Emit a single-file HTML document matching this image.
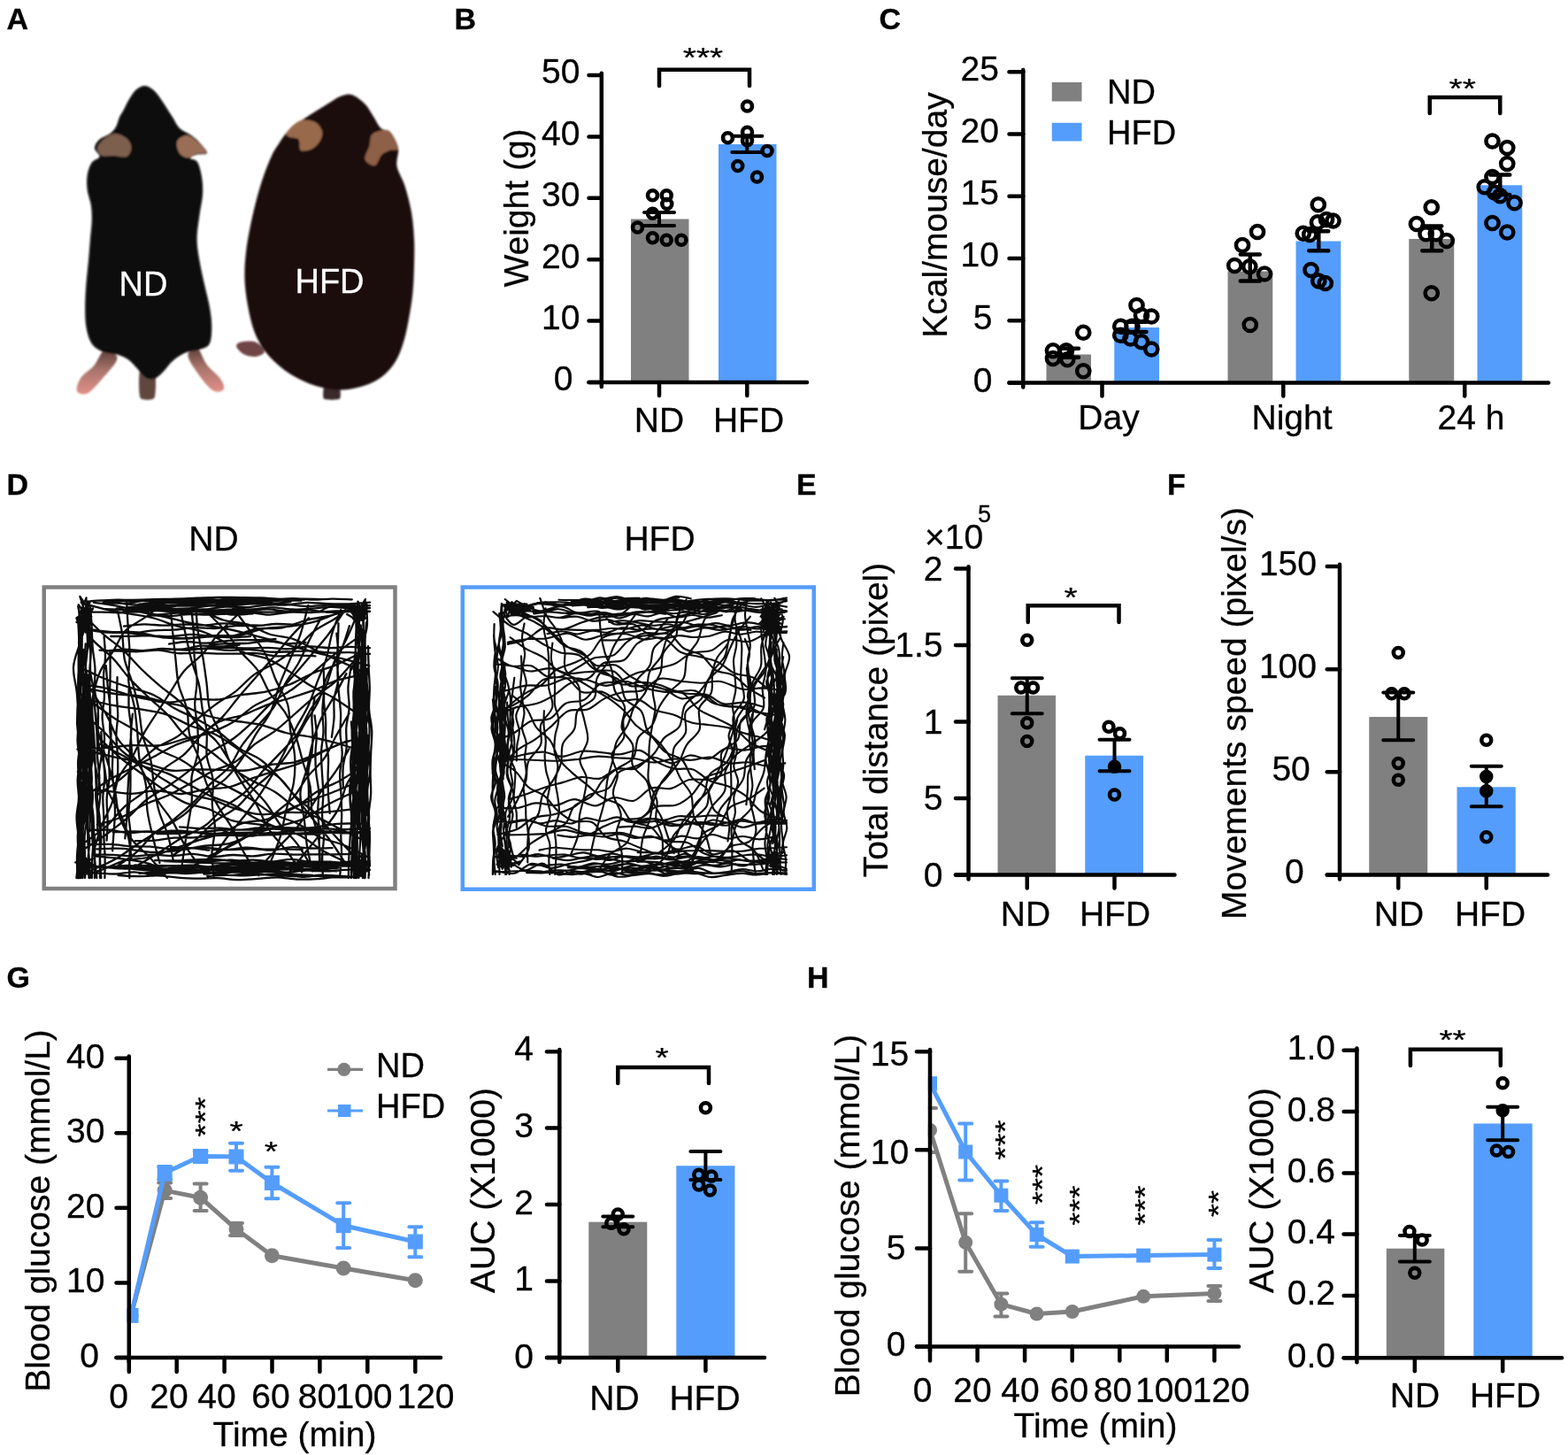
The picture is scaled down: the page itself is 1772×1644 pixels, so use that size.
<!DOCTYPE html>
<html lang="en">
<head>
<meta charset="utf-8">
<title>Figure: ND vs HFD mice</title>
<style>
html,body{margin:0;padding:0;background:#fff;}
body{width:1772px;height:1644px;overflow:hidden;}
svg{display:block;}
svg text{font-family:"Liberation Sans",Arial,Helvetica,sans-serif;stroke:#000;stroke-width:0.3px;}
svg text.w{stroke:#fff;}
</style>
</head>
<body>
<svg width="1772" height="1644" viewBox="0 0 1772 1644">
<defs>
<filter id="soft" x="-5%" y="-5%" width="110%" height="110%"><feGaussianBlur stdDeviation="1.3"/></filter>
<linearGradient id="footg" x1="0" y1="0" x2="0" y2="1"><stop offset="0" stop-color="#5a3d36"/><stop offset="0.45" stop-color="#a8746c"/><stop offset="1" stop-color="#e29088"/></linearGradient>
<filter id="soft2" x="-5%" y="-5%" width="110%" height="110%"><feGaussianBlur stdDeviation="0.45"/></filter>
</defs>
<rect width="1772" height="1644" fill="#fff"/>
<text x="7.5" y="32.5" font-size="34" font-weight="bold" stroke="#000" stroke-width="0.7">A</text>
<text x="513.5" y="32.5" font-size="34" font-weight="bold" stroke="#000" stroke-width="0.7">B</text>
<text x="993.5" y="32.5" font-size="34" font-weight="bold" stroke="#000" stroke-width="0.7">C</text>
<text x="7.5" y="558.5" font-size="34" font-weight="bold" stroke="#000" stroke-width="0.7">D</text>
<text x="900" y="558.5" font-size="34" font-weight="bold" stroke="#000" stroke-width="0.7">E</text>
<text x="1319" y="558.5" font-size="34" font-weight="bold" stroke="#000" stroke-width="0.7">F</text>
<text x="7.5" y="1115.5" font-size="34" font-weight="bold" stroke="#000" stroke-width="0.7">G</text>
<text x="912" y="1115.5" font-size="34" font-weight="bold" stroke="#000" stroke-width="0.7">H</text>
<g filter="url(#soft)">
<path d="M118.75 395C114.38 396.33 110.83 407.67 106.25 413C101.67 418.33 94.46 422.17 91.25 427C88.04 431.83 85.75 439.08 87 442C88.25 444.92 94 446.83 98.75 444.5C103.5 442.17 109.88 434.58 115.5 428C121.12 421.42 131.96 410.5 132.5 405C133.04 399.5 123.12 393.67 118.75 395Z" fill="url(#footg)"/>
<path d="M222.5 392.5C226.04 394.08 229.38 406.17 233.75 412C238.12 417.83 245.54 422.92 248.75 427.5C251.96 432.08 254.12 437.08 253 439.5C251.88 441.92 246.17 443.92 242 442C237.83 440.08 232.92 434.58 228 428C223.08 421.42 213.42 408.42 212.5 402.5C211.58 396.58 218.96 390.92 222.5 392.5Z" fill="url(#footg)"/>
<path d="M158 420C159.65 417.05 173.35 417.05 175 420C176.65 422.95 176.15 446.55 174.5 449.5C172.85 452.45 160.15 452.45 158.5 449.5C156.85 446.55 156.35 422.95 158 420Z" fill="#5e463e"/>
<path d="M162.5 97C165.08 96.62 167.08 97.58 169.5 99C171.92 100.42 174.21 102.21 177 105.5C179.79 108.79 183.25 114.25 186.25 118.75C189.25 123.25 192.21 128.12 195 132.5C197.79 136.88 199.58 141.67 203 145C206.42 148.33 211.75 149.79 215.5 152.5C219.25 155.21 222.42 157.83 225.5 161.25C228.58 164.67 234.5 170.79 234 173C233.5 175.21 225.67 173.5 222.5 174.5C219.33 175.5 214.92 177.58 215 179C215.08 180.42 220.83 179.5 223 183C225.17 186.5 227 193.83 228 200C229 206.17 229.42 212.92 229 220C228.58 227.08 226.58 234.17 225.5 242.5C224.42 250.83 222.5 261.25 222.5 270C222.5 278.75 224.04 286.25 225.5 295C226.96 303.75 229.33 313.75 231.25 322.5C233.17 331.25 235.67 339.58 237 347.5C238.33 355.42 239.33 363.12 239.25 370C239.17 376.88 238.88 384.58 236.5 388.75C234.12 392.92 229.5 393.38 225 395C220.5 396.62 214.42 396.42 209.5 398.5C204.58 400.58 199.75 403.83 195.5 407.5C191.25 411.17 187.58 417.08 184 420.5C180.42 423.92 177.33 427.04 174 428C170.67 428.96 167.17 428.21 164 426.25C160.83 424.29 158.17 419.58 155 416.25C151.83 412.92 148.75 408.88 145 406.25C141.25 403.62 137.25 401.96 132.5 400.5C127.75 399.04 121.25 399.46 116.5 397.5C111.75 395.54 107.17 393.33 104 388.75C100.83 384.17 98.79 377.29 97.5 370C96.21 362.71 96.25 353.33 96.25 345C96.25 336.67 96.88 328.33 97.5 320C98.12 311.67 99.25 303.33 100 295C100.75 286.67 101.38 277.5 102 270C102.62 262.5 103.58 256.25 103.75 250C103.92 243.75 103.83 238.33 103 232.5C102.17 226.67 99.46 220.83 98.75 215C98.04 209.17 97.92 202.71 98.75 197.5C99.58 192.29 101.46 187.17 103.75 183.75C106.04 180.33 111.96 179.71 112.5 177C113.04 174.29 107.08 170.67 107 167.5C106.92 164.33 109 160.83 112 158C115 155.17 121.75 153.08 125 150.5C128.25 147.92 129.83 145.5 131.5 142.5C133.17 139.5 133.58 135.62 135 132.5C136.42 129.38 138.08 127.29 140 123.75C141.92 120.21 144.17 115 146.5 111.25C148.83 107.5 151.33 103.62 154 101.25C156.67 98.88 159.92 97.38 162.5 97Z" fill="#070707"/>
<path d="M115.5 159C118.75 156.17 124.92 151.46 129.5 151C134.08 150.54 139.83 153.58 143 156.25C146.17 158.92 148.5 163.54 148.5 167C148.5 170.46 146.42 175.5 143 177C139.58 178.5 132.58 176.17 128 176C123.42 175.83 118.5 177.33 115.5 176C112.5 174.67 110 170.83 110 168C110 165.17 112.25 161.83 115.5 159Z" fill="#7d5f4e"/>
<path d="M201.5 157.5C203.5 155.33 208.17 152.33 212 153C215.83 153.67 220.96 158.21 224.5 161.5C228.04 164.79 233.58 170.75 233.25 172.75C232.92 174.75 225.88 172.58 222.5 173.5C219.12 174.42 216 178 213 178.25C210 178.5 206.67 177.04 204.5 175C202.33 172.96 200.5 168.92 200 166C199.5 163.08 199.5 159.67 201.5 157.5Z" fill="#9a6e56"/>
<path d="M267 390.5C267 388.17 271.17 386.58 275 386C278.83 385.42 286.04 385.08 290 387C293.96 388.92 298.96 394.83 298.75 397.5C298.54 400.17 292.71 402.58 288.75 403C284.79 403.42 278.62 402.08 275 400C271.38 397.92 267 392.83 267 390.5Z" fill="#6f4544"/>
<path d="M367 435C368.7 433.45 381.3 433.45 383 435C384.7 436.55 385.7 448.95 384 450.5C382.3 452.05 367.7 452.05 366 450.5C364.3 448.95 365.3 436.55 367 435Z" fill="#3a2a2a"/>
<path d="M397.5 107C402.08 108.46 408.33 113.25 412.5 117.5C416.67 121.75 419.5 127.92 422.5 132.5C425.5 137.08 427.38 142.17 430.5 145C433.62 147.83 438 145.75 441.25 149.5C444.5 153.25 448.79 161.17 450 167.5C451.21 173.83 447.25 180.42 448.5 187.5C449.75 194.58 454.75 201.25 457.5 210C460.25 218.75 463.25 230 465 240C466.75 250 467.5 260 468 270C468.5 280 468.25 290 468 300C467.75 310 467.42 320.42 466.5 330C465.58 339.58 464.17 348.33 462.5 357.5C460.83 366.67 459 376.67 456.5 385C454 393.33 451.5 400.83 447.5 407.5C443.5 414.17 438.33 420.33 432.5 425C426.67 429.67 420 432.92 412.5 435.5C405 438.08 395.83 440.17 387.5 440.5C379.17 440.83 370.83 439.58 362.5 437.5C354.17 435.42 345 431.75 337.5 428C330 424.25 323.75 420.08 317.5 415C311.25 409.92 305 404.17 300 397.5C295 390.83 290.83 383.75 287.5 375C284.17 366.25 281.83 355 280 345C278.17 335 276.83 325 276.5 315C276.17 305 276.92 295 278 285C279.08 275 281 265 283 255C285 245 287.58 234.17 290 225C292.42 215.83 294.58 208.33 297.5 200C300.42 191.67 304.58 181.25 307.5 175C310.42 168.75 312.29 166.67 315 162.5C317.71 158.33 320.42 153.75 323.75 150C327.08 146.25 330.62 143.33 335 140C339.38 136.67 344.17 133.75 350 130C355.83 126.25 364.17 121.04 370 117.5C375.83 113.96 380.42 110.5 385 108.75C389.58 107 392.92 105.54 397.5 107Z" fill="#1d100b"/>
<path d="M323.75 150.5C324.58 148.08 329.38 143 332.5 140.5C335.62 138 338.54 135.92 342.5 135.5C346.46 135.08 352.71 136 356.25 138C359.79 140 362.71 144.25 363.75 147.5C364.79 150.75 364.17 154.17 362.5 157.5C360.83 160.83 357.5 165.42 353.75 167.5C350 169.58 342.71 171.67 340 170C337.29 168.33 339.58 160 337.5 157.5C335.42 155 329.79 156.17 327.5 155C325.21 153.83 322.92 152.92 323.75 150.5Z" fill="#99694b"/>
<path d="M420 152.5C422.08 149.58 426.58 148.12 430 147.5C433.42 146.88 437.17 145.42 440.5 148.75C443.83 152.08 450.08 163.96 450 167.5C449.92 171.04 443.12 168.75 440 170C436.88 171.25 433.96 172.17 431.25 175C428.54 177.83 426.88 186.17 423.75 187C420.62 187.83 413.54 183.67 412.5 180C411.46 176.33 416.25 169.58 417.5 165C418.75 160.42 417.92 155.42 420 152.5Z" fill="#8e6146"/>
</g>
<text x="162" y="333.8" font-size="38" text-anchor="middle" fill="#fff" class="w">ND</text>
<text x="372.5" y="331.3" font-size="38" text-anchor="middle" fill="#fff" class="w">HFD</text>
<rect x="713" y="247.5" width="65.5" height="184.5" fill="#808080"/>
<rect x="812" y="163" width="65.5" height="269" fill="#549DFC"/>
<path d="M679.8 82.75V437" stroke="#000" stroke-width="4.5" fill="none" stroke-linecap="round"/>
<path d="M665.5 85H679.8" stroke="#000" stroke-width="4.5" fill="none" stroke-linecap="round"/>
<text x="655.5" y="94.45" font-size="39" text-anchor="end">50</text>
<path d="M665.5 154.4H679.8" stroke="#000" stroke-width="4.5" fill="none" stroke-linecap="round"/>
<text x="655.5" y="163.86" font-size="39" text-anchor="end">40</text>
<path d="M665.5 223.8H679.8" stroke="#000" stroke-width="4.5" fill="none" stroke-linecap="round"/>
<text x="655.5" y="233.25" font-size="39" text-anchor="end">30</text>
<path d="M665.5 293.2H679.8" stroke="#000" stroke-width="4.5" fill="none" stroke-linecap="round"/>
<text x="655.5" y="302.65" font-size="39" text-anchor="end">20</text>
<path d="M665.5 362.6H679.8" stroke="#000" stroke-width="4.5" fill="none" stroke-linecap="round"/>
<text x="655.5" y="372.06" font-size="39" text-anchor="end">10</text>
<path d="M665.5 432H679.8" stroke="#000" stroke-width="4.5" fill="none" stroke-linecap="round"/>
<text x="647.5" y="441.45" font-size="39" text-anchor="end">0</text>
<path d="M665.5 432H912" stroke="#000" stroke-width="4.5" fill="none" stroke-linecap="round"/>
<path d="M745 432V447" stroke="#000" stroke-width="4.5" fill="none" stroke-linecap="round"/>
<path d="M844.3 432V447" stroke="#000" stroke-width="4.5" fill="none" stroke-linecap="round"/>
<path d="M728 240H762M728 255H762M745 240V255" stroke="#000" stroke-width="4" fill="none" stroke-linecap="round"/>
<circle cx="737.5" cy="220.75" r="5.45" fill="none" stroke="#000" stroke-width="4.6"/>
<circle cx="753.25" cy="220.75" r="5.45" fill="none" stroke="#000" stroke-width="4.6"/>
<circle cx="753.75" cy="230.5" r="5.45" fill="none" stroke="#000" stroke-width="4.6"/>
<circle cx="737.5" cy="241.25" r="5.45" fill="none" stroke="#000" stroke-width="4.6"/>
<circle cx="720.5" cy="257" r="5.45" fill="none" stroke="#000" stroke-width="4.6"/>
<circle cx="737.5" cy="268.75" r="5.45" fill="none" stroke="#000" stroke-width="4.6"/>
<circle cx="753.25" cy="271.25" r="5.45" fill="none" stroke="#000" stroke-width="4.6"/>
<circle cx="770" cy="271.25" r="5.45" fill="none" stroke="#000" stroke-width="4.6"/>
<path d="M827.3 153.75H861.3M827.3 172H861.3M844.3 153.75V172" stroke="#000" stroke-width="4" fill="none" stroke-linecap="round"/>
<circle cx="844.5" cy="120" r="5.45" fill="none" stroke="#000" stroke-width="4.6"/>
<circle cx="822.5" cy="155.75" r="5.45" fill="none" stroke="#000" stroke-width="4.6"/>
<circle cx="844.5" cy="149.25" r="5.45" fill="none" stroke="#000" stroke-width="4.6"/>
<circle cx="844.5" cy="158.75" r="5.45" fill="none" stroke="#000" stroke-width="4.6"/>
<circle cx="867" cy="170.5" r="5.45" fill="none" stroke="#000" stroke-width="4.6"/>
<circle cx="833.75" cy="187.5" r="5.45" fill="none" stroke="#000" stroke-width="4.6"/>
<circle cx="855.5" cy="200" r="5.45" fill="none" stroke="#000" stroke-width="4.6"/>
<path d="M745 97V78.75H847V97" stroke="#000" stroke-width="4.5" fill="none" stroke-linecap="round" stroke-linejoin="miter"/>
<text transform="translate(794.5 60.25) scale(1 0.78)" font-size="39" text-anchor="middle" y="20.01">***</text>
<text x="745" y="488" font-size="39" text-anchor="middle">ND</text>
<text x="846" y="488" font-size="39" text-anchor="middle">HFD</text>
<text transform="translate(596.5 235) rotate(-90)" font-size="39" text-anchor="middle">Weight (g)</text>
<rect x="1182.5" y="400.5" width="50.5" height="32" fill="#808080"/>
<rect x="1259.25" y="370" width="50.75" height="62.5" fill="#549DFC"/>
<rect x="1387.5" y="306.5" width="50.75" height="126" fill="#808080"/>
<rect x="1464.5" y="272.5" width="50.75" height="160" fill="#549DFC"/>
<rect x="1592.25" y="270" width="51" height="162.5" fill="#808080"/>
<rect x="1669.5" y="209.25" width="50.75" height="223.25" fill="#549DFC"/>
<path d="M1156.25 79V437.5" stroke="#000" stroke-width="4.5" fill="none" stroke-linecap="round"/>
<path d="M1140.5 81.25H1156.25" stroke="#000" stroke-width="4.5" fill="none" stroke-linecap="round"/>
<text x="1129" y="90.7" font-size="39" text-anchor="end">25</text>
<path d="M1140.5 151.5H1156.25" stroke="#000" stroke-width="4.5" fill="none" stroke-linecap="round"/>
<text x="1129" y="160.95" font-size="39" text-anchor="end">20</text>
<path d="M1140.5 221.75H1156.25" stroke="#000" stroke-width="4.5" fill="none" stroke-linecap="round"/>
<text x="1129" y="231.2" font-size="39" text-anchor="end">15</text>
<path d="M1140.5 292H1156.25" stroke="#000" stroke-width="4.5" fill="none" stroke-linecap="round"/>
<text x="1129" y="301.45" font-size="39" text-anchor="end">10</text>
<path d="M1140.5 362.25H1156.25" stroke="#000" stroke-width="4.5" fill="none" stroke-linecap="round"/>
<text x="1121.5" y="372.2" font-size="39" text-anchor="end">5</text>
<path d="M1140.5 432.5H1156.25" stroke="#000" stroke-width="4.5" fill="none" stroke-linecap="round"/>
<text x="1121.5" y="443.45" font-size="39" text-anchor="end">0</text>
<path d="M1140.5 432.5H1750" stroke="#000" stroke-width="4.5" fill="none" stroke-linecap="round"/>
<path d="M1245.5 432.5V447.5" stroke="#000" stroke-width="4.5" fill="none" stroke-linecap="round"/>
<path d="M1450.25 432.5V447.5" stroke="#000" stroke-width="4.5" fill="none" stroke-linecap="round"/>
<path d="M1655.25 432.5V447.5" stroke="#000" stroke-width="4.5" fill="none" stroke-linecap="round"/>
<rect x="1188.75" y="93" width="33.75" height="21.5" fill="#808080"/>
<rect x="1188.75" y="138.75" width="33.75" height="20.75" fill="#549DFC"/>
<text x="1251" y="116.5" font-size="38">ND</text>
<text x="1251" y="162.5" font-size="38">HFD</text>
<path d="M1197 393.75H1219M1197 403.75H1219M1208 393.75V403.75" stroke="#000" stroke-width="4.5" fill="none" stroke-linecap="round"/>
<circle cx="1190" cy="396.25" r="7.1" fill="none" stroke="#000" stroke-width="4.5"/>
<circle cx="1205" cy="396.25" r="7.1" fill="none" stroke="#000" stroke-width="4.5"/>
<circle cx="1190" cy="405" r="7.1" fill="none" stroke="#000" stroke-width="4.5"/>
<circle cx="1206.25" cy="406.25" r="7.1" fill="none" stroke="#000" stroke-width="4.5"/>
<circle cx="1224.25" cy="375.75" r="7.1" fill="none" stroke="#000" stroke-width="4.5"/>
<circle cx="1224.25" cy="419.25" r="7.1" fill="none" stroke="#000" stroke-width="4.5"/>
<path d="M1273.5 363.75H1295.5M1273.5 375H1295.5M1284.5 363.75V375" stroke="#000" stroke-width="4.5" fill="none" stroke-linecap="round"/>
<circle cx="1284.5" cy="345" r="7.1" fill="none" stroke="#000" stroke-width="4.5"/>
<circle cx="1301.25" cy="357.5" r="7.1" fill="none" stroke="#000" stroke-width="4.5"/>
<circle cx="1290" cy="356.25" r="7.1" fill="none" stroke="#000" stroke-width="4.5"/>
<circle cx="1266.25" cy="368.75" r="7.1" fill="none" stroke="#000" stroke-width="4.5"/>
<circle cx="1279.5" cy="368.75" r="7.1" fill="none" stroke="#000" stroke-width="4.5"/>
<circle cx="1266.25" cy="378.75" r="7.1" fill="none" stroke="#000" stroke-width="4.5"/>
<circle cx="1277.5" cy="382.5" r="7.1" fill="none" stroke="#000" stroke-width="4.5"/>
<circle cx="1290" cy="386.25" r="7.1" fill="none" stroke="#000" stroke-width="4.5"/>
<circle cx="1301.25" cy="394.5" r="7.1" fill="none" stroke="#000" stroke-width="4.5"/>
<path d="M1401.75 287.5H1423.75M1401.75 317.5H1423.75M1412.75 287.5V317.5" stroke="#000" stroke-width="4.5" fill="none" stroke-linecap="round"/>
<circle cx="1421" cy="262" r="7.1" fill="none" stroke="#000" stroke-width="4.5"/>
<circle cx="1404" cy="277" r="7.1" fill="none" stroke="#000" stroke-width="4.5"/>
<circle cx="1395.25" cy="300" r="7.1" fill="none" stroke="#000" stroke-width="4.5"/>
<circle cx="1412.25" cy="301.25" r="7.1" fill="none" stroke="#000" stroke-width="4.5"/>
<circle cx="1429" cy="309.5" r="7.1" fill="none" stroke="#000" stroke-width="4.5"/>
<circle cx="1412.75" cy="367" r="7.1" fill="none" stroke="#000" stroke-width="4.5"/>
<path d="M1479.25 261.25H1501.25M1479.25 283.25H1501.25M1490.25 261.25V283.25" stroke="#000" stroke-width="4.5" fill="none" stroke-linecap="round"/>
<circle cx="1489.75" cy="231.25" r="7.1" fill="none" stroke="#000" stroke-width="4.5"/>
<circle cx="1499" cy="248" r="7.1" fill="none" stroke="#000" stroke-width="4.5"/>
<circle cx="1506.5" cy="249.5" r="7.1" fill="none" stroke="#000" stroke-width="4.5"/>
<circle cx="1489" cy="251.25" r="7.1" fill="none" stroke="#000" stroke-width="4.5"/>
<circle cx="1472.75" cy="263.75" r="7.1" fill="none" stroke="#000" stroke-width="4.5"/>
<circle cx="1480.25" cy="265" r="7.1" fill="none" stroke="#000" stroke-width="4.5"/>
<circle cx="1481.5" cy="305" r="7.1" fill="none" stroke="#000" stroke-width="4.5"/>
<circle cx="1490.25" cy="317.5" r="7.1" fill="none" stroke="#000" stroke-width="4.5"/>
<circle cx="1497.75" cy="320" r="7.1" fill="none" stroke="#000" stroke-width="4.5"/>
<path d="M1607.25 255.5H1629.25M1607.25 283.25H1629.25M1618.25 255.5V283.25" stroke="#000" stroke-width="4.5" fill="none" stroke-linecap="round"/>
<circle cx="1617.75" cy="234.25" r="7.1" fill="none" stroke="#000" stroke-width="4.5"/>
<circle cx="1601" cy="253" r="7.1" fill="none" stroke="#000" stroke-width="4.5"/>
<circle cx="1611.5" cy="264.25" r="7.1" fill="none" stroke="#000" stroke-width="4.5"/>
<circle cx="1622.75" cy="264.25" r="7.1" fill="none" stroke="#000" stroke-width="4.5"/>
<circle cx="1634.75" cy="272" r="7.1" fill="none" stroke="#000" stroke-width="4.5"/>
<circle cx="1617.75" cy="331.25" r="7.1" fill="none" stroke="#000" stroke-width="4.5"/>
<path d="M1684.25 197.5H1706.25M1684.25 220H1706.25M1695.25 197.5V220" stroke="#000" stroke-width="4.5" fill="none" stroke-linecap="round"/>
<circle cx="1686.5" cy="159.5" r="7.1" fill="none" stroke="#000" stroke-width="4.5"/>
<circle cx="1703.25" cy="167" r="7.1" fill="none" stroke="#000" stroke-width="4.5"/>
<circle cx="1703.25" cy="185" r="7.1" fill="none" stroke="#000" stroke-width="4.5"/>
<circle cx="1686.5" cy="200" r="7.1" fill="none" stroke="#000" stroke-width="4.5"/>
<circle cx="1677.75" cy="211.25" r="7.1" fill="none" stroke="#000" stroke-width="4.5"/>
<circle cx="1689" cy="217.5" r="7.1" fill="none" stroke="#000" stroke-width="4.5"/>
<circle cx="1695.25" cy="221.25" r="7.1" fill="none" stroke="#000" stroke-width="4.5"/>
<circle cx="1711.5" cy="229.25" r="7.1" fill="none" stroke="#000" stroke-width="4.5"/>
<circle cx="1686.5" cy="252" r="7.1" fill="none" stroke="#000" stroke-width="4.5"/>
<circle cx="1703.25" cy="262.5" r="7.1" fill="none" stroke="#000" stroke-width="4.5"/>
<path d="M1615.75 128V110H1695.25V128" stroke="#000" stroke-width="4.5" fill="none" stroke-linecap="round" stroke-linejoin="miter"/>
<text transform="translate(1652.75 95) scale(1 0.78)" font-size="39" text-anchor="middle" y="20.01">**</text>
<text x="1253" y="485" font-size="39" text-anchor="middle">Day</text>
<text x="1460" y="485" font-size="39" text-anchor="middle">Night</text>
<text x="1662.5" y="485" font-size="39" text-anchor="middle">24 h</text>
<text transform="translate(1070 243) rotate(-90)" font-size="39" text-anchor="middle">Kcal/mouse/day</text>
<text x="241.5" y="622" font-size="39" text-anchor="middle">ND</text>
<text x="745.5" y="622" font-size="39" text-anchor="middle">HFD</text>
<rect x="49.75" y="663.5" width="396.75" height="340.5" fill="#fff" stroke="#808080" stroke-width="4.5"/>
<rect x="522.75" y="663.5" width="397" height="341.25" fill="#fff" stroke="#549DFC" stroke-width="4.5"/>
<g filter="url(#soft2)">
<path d="M108.8 818.8C110 823 113.4 835.7 115.9 844.1C118.5 852.5 121.7 860.8 124 869.2C126.4 877.7 128.5 886.2 130.3 894.9C132 903.5 131.9 912.6 134.4 921C136.8 929.5 142.5 937.1 144.9 945.5C147.3 954 148.1 967.4 148.7 971.8M394.5 846.3C392.2 850.3 385.5 862.2 380.5 869.8C375.5 877.4 369.6 884.4 364.5 891.8C359.4 899.3 354.7 907.1 349.6 914.7C344.5 922.2 339.8 930 334 937C328.3 944 321.3 950.1 315.1 956.8C308.9 963.4 299.6 973.5 296.5 976.9M105.8 680.7C110.6 681.5 125.1 683.3 134.6 685.2C144.1 687.2 153.3 690.3 162.7 692.5C172.1 694.6 181.7 696.2 191.2 698.3C200.7 700.3 210 702.8 219.5 704.6C229.1 706.4 238.8 707.3 248.3 709.1C257.9 710.8 267.3 713 276.7 715.3C286.1 717.6 295.5 720.1 304.8 722.7C314.1 725.3 323.4 728.2 332.7 730.9C342.1 733.5 351.4 736.2 360.8 738.5C370.2 740.8 379.7 742.5 389.1 744.8C398.6 747.1 412.6 751 417.2 752.2M87.5 989.8C92.1 988.6 105.9 985.7 114.8 982.8C123.7 979.9 131.8 974.8 140.9 972.4C150 970 160.1 970.7 169.2 968.5C178.4 966.3 186.9 962.3 195.8 959.2C204.6 956.2 213.4 953 222.3 950.1C231.2 947.2 240.5 945.4 249.3 942C258 938.7 265.9 932.7 274.8 930C283.8 927.2 294 928.1 302.9 925.3C311.9 922.6 319.9 917.2 328.6 913.5C337.2 909.8 346 906.5 354.7 903.1C363.5 899.8 372.3 896.7 381 893.2C389.7 889.7 402.6 884.1 407 882.2M403 685.1C398.4 686.8 384.5 692.7 375.1 695.2C365.7 697.8 356.1 698.1 346.8 700.5C337.4 702.9 328.2 707.7 318.7 709.4C309.3 711.1 299.5 708.9 290.1 710.5C280.6 712 271.4 717.2 262 718.7C252.5 720.3 242.8 719 233.3 719.5C223.8 720 214.3 721.8 204.7 721.7C195.1 721.7 185.5 720.2 175.8 719.1C166.1 718.1 156.4 716.1 146.8 715.3C137.1 714.5 127.6 715.3 117.9 714.4C108.3 713.4 93.7 710.6 88.8 709.8M416.7 968.9C412.2 966.6 399.3 959.3 390 955.5C380.8 951.6 370.4 950 361.3 945.8C352.3 941.7 344.7 934.8 335.8 930.4C326.9 926 316.7 924 307.9 919.3C299.2 914.7 291.7 907.8 283.1 902.7C274.6 897.6 265.7 893.2 256.9 888.7C248 884.1 238.7 880.5 230.1 875.5C221.5 870.5 214 863.8 205.3 858.9C196.7 854 186.6 851.7 178.2 846.3C169.9 841 163.2 832.5 155.1 826.7C147 821 137.8 817.1 129.4 811.6C121.1 806.2 109.1 797.1 105.1 794.2M188.8 991.8C185.5 988 176.1 976.3 169.2 968.8C162.3 961.3 153 954.8 147.5 946.6C142 938.5 140.4 928.7 136.3 920C132.1 911.3 125.8 903.6 122.7 894.5C119.6 885.3 119.7 874.8 117.8 865.2C115.8 855.6 111.9 846.8 110.8 836.8C109.6 826.9 110.6 810.8 110.6 805.6M91.1 892.1C95.9 892.3 110.1 892.8 119.6 893.6C129.2 894.4 139.1 896.8 148.5 896.8C157.9 896.7 166.7 893.3 176.1 893.4C185.5 893.4 195.6 897.2 205 897C214.4 896.7 223.2 893.2 232.3 891.9C241.5 890.6 251 891.2 260.1 889C269.1 886.8 277.6 882 286.5 878.9C295.3 875.8 304.3 873.2 313.2 870.4C322.1 867.6 331.1 865.5 339.9 861.9C348.7 858.3 357.1 853.1 365.8 849C374.5 844.9 387.6 839.2 391.9 837.3M391.4 761.1C389.1 765.5 382.2 778.6 377.3 787.4C372.4 796.1 366.2 804.6 362.2 813.4C358.1 822.3 355.4 831.4 352.9 840.6C350.3 849.7 349.2 859.1 347 868.3C344.7 877.5 340 886.2 339.4 895.7C338.9 905.2 342.5 915.4 343.7 925.2C345 935 345.3 944.7 346.8 954.5C348.3 964.4 351.9 979.4 352.9 984.3M413.7 681.2C413.9 685.7 415.8 699.5 414.7 708.1C413.7 716.8 410.6 725 407.6 733.2C404.6 741.4 398.4 753.4 396.6 757.4M408.4 866.5C404.4 869 392.7 877.3 384.4 881.9C376.1 886.6 366.8 889.4 358.6 894.3C350.5 899.2 343.7 906.3 335.5 911.2C327.3 916 317.7 918.5 309.6 923.3C301.4 928.2 294.3 934.9 286.4 940.2C278.5 945.5 270.5 950.6 262.1 955.1C253.7 959.6 240.5 965.2 236.1 967.2M396.3 963C393 959.5 382.8 949.2 376.3 942C369.7 934.7 363.9 926.5 357.1 919.6C350.3 912.8 342.2 907.9 335.3 901.1C328.5 894.4 322.6 886.1 315.9 879.1C309.3 872.1 302.9 864.6 295.2 859C287.6 853.4 278 850.6 270.1 845.4C262.2 840.2 255.5 833.2 247.7 827.8C239.9 822.4 231.7 817.7 223.3 813.1C214.9 808.6 205.8 805.1 197.5 800.5C189.2 795.8 182.2 789.3 173.5 785.3C164.8 781.3 154.5 779.5 145.1 776.4C135.8 773.3 126.5 770.1 117.5 766.5C108.5 762.8 95.6 756.5 91.3 754.5M88.5 809.2C88.2 804.6 87.7 790.8 86.7 781.5C85.8 772.3 82.4 762.8 83 753.7C83.6 744.6 87.6 735.9 90.3 727C93 718.1 97.7 704.8 99.2 700.4M111 839.7C115.2 841.8 127.8 848 136.1 852.3C144.4 856.5 152.2 861.9 160.9 865.4C169.6 868.9 179.4 870 188.1 873.4C196.8 876.9 204.8 881.8 213.1 886.2C221.4 890.5 229.4 895.4 237.9 899.4C246.4 903.3 255.7 905.5 264 909.6C272.4 913.8 279.8 920.1 288.1 924.3C296.4 928.6 305.3 931.8 314 935.2C322.8 938.6 332.2 940.5 340.5 944.7C348.9 949 355.9 956 364 960.7C372.1 965.4 380.7 969.2 389.1 973.2C397.6 977.1 410.5 982.6 414.8 984.4M416.3 912.2C411.1 912.8 395.5 914.8 385.2 915.8C374.9 916.9 364.6 918 354.5 918.4C344.4 918.7 334.8 917.7 324.7 918C314.7 918.3 303.8 920.9 294.1 920.2C284.4 919.5 275.4 916.6 266.3 913.8C257.3 911.1 248.8 906.5 239.8 903.7C230.7 900.9 220.9 900.4 212.1 896.8C203.4 893.2 195.4 887.2 187.1 882.1C178.8 877 170.7 871.5 162.5 866C154.4 860.5 146 855.6 138.3 848.8C130.5 842.1 123.7 832.7 116.1 825.5C108.5 818.3 96.6 809 92.7 805.7M132.3 687.3C133.3 692.1 136.6 706.4 138.1 716.1C139.5 725.7 138.9 735.9 140.9 745.4C143 755 147.6 764 150.2 773.4C152.9 782.8 155 792.4 156.9 802C158.7 811.6 159 821.5 161.2 831C163.4 840.5 168.1 849.5 170.3 859C172.4 868.6 172.5 878.6 174.1 888.2C175.7 897.9 177.1 907.6 179.8 917C182.4 926.4 187.4 935.3 190.1 944.7C192.8 954.1 195 968.7 196 973.5M111.4 897.3C115.2 894.7 127.1 887.4 134.4 881.7C141.7 876 148.2 869.3 155.2 863.2C162.2 857.1 168.6 850.3 176.2 845C183.9 839.8 193.4 837.1 201 831.9C208.6 826.6 214.8 819.5 221.9 813.5C229 807.6 236.1 801.6 243.5 796.1C251 790.7 259.4 786.5 266.7 780.8C274 775.1 279.9 767.5 287.4 762.1C294.9 756.7 303.9 753.4 311.8 748.5C319.6 743.6 327.4 738.5 334.6 732.7C341.7 726.8 347.4 718.9 354.7 713.3C362.1 707.7 370.9 704 378.6 699C386.4 693.9 397.5 685.6 401.2 682.9M268 695C264.5 698.4 253.6 708.4 247.2 715.5C240.9 722.7 236.3 731 229.8 738C223.3 745.1 214.4 750.7 208.2 758C202 765.3 197.9 773.8 192.7 781.7C187.6 789.6 182.4 797.5 177.3 805.5C172.3 813.4 166.8 821.1 162.2 829.4C157.6 837.6 154.3 846.7 149.7 854.9C145 863.1 138.1 869.9 134.2 878.6C130.4 887.3 129.9 898 126.6 907.1C123.4 916.1 118.2 924 114.8 933C111.4 941.9 107.7 956.2 106.2 960.9M97 951.1C100.9 948.1 113.6 939.7 120.9 933C128.3 926.3 133.7 917.8 141.1 911.1C148.4 904.4 157.7 899.7 164.9 892.8C172 885.9 176.6 876.5 183.9 869.8C191.1 863 201 858.8 208.4 852.2C215.8 845.6 221.1 836.8 228.2 829.9C235.3 823 244 817.7 250.9 810.6C257.9 803.5 263.4 795 269.8 787.4C276.2 779.8 282.8 772.4 289.4 764.9C295.9 757.4 302.7 750.2 309.1 742.6C315.6 735.1 321.7 727.1 328.3 719.7C334.9 712.3 345.5 701.8 348.9 698.3M116.2 678.4C120.8 679.1 134.3 681.6 143.5 682.6C152.7 683.6 162.2 683.1 171.4 684.3C180.5 685.5 189 689 198.2 690C207.4 691 217.5 688.3 226.5 690.1C235.5 691.8 243.3 698 252.1 700.5C260.9 703 270.4 702.6 279.2 705.3C287.9 707.9 295.8 713.7 304.5 716.5C313.2 719.3 322.7 719 331.4 722C340 725 348 730.5 356.4 734.5C364.7 738.5 373.2 742.1 381.6 745.9C390.1 749.8 402.7 755.6 406.9 757.5M99.7 839.9C100 835 100.1 820 101.1 810.5C102.1 801 103.6 791.8 105.7 782.9C107.8 774.1 110.1 765.3 113.9 757.3C117.7 749.4 123.6 742.6 128.3 735.1C133 727.7 135.6 719 141.9 712.5C148.3 706 158.7 701.7 166.5 695.9C174.3 690.2 185.1 681.1 188.8 678.1M95.6 959C99.7 956.3 112.4 948.3 120.5 942.5C128.5 936.6 136.5 930.6 144 924.2C151.6 917.7 157.9 909.6 165.7 903.5C173.6 897.4 182.8 893.1 191.1 887.5C199.3 881.9 207.3 876 215.1 869.8C222.9 863.6 229.6 856.2 237.7 850.3C245.7 844.5 255.4 840.6 263.4 834.8C271.5 829 278.7 822.1 286 815.3C293.3 808.5 299.5 800.3 307.2 794C314.9 787.7 324.1 783.4 332.2 777.5C340.2 771.6 347.7 765.1 355.4 758.7C363 752.4 370.2 745.5 378.1 739.4C385.9 733.2 398.2 724.8 402.2 721.9M103.6 778.8C108.4 779.7 122.9 783 132.4 784.4C141.9 785.7 151.2 785.3 160.7 786.8C170.3 788.3 180.3 793 189.7 793.5C199.1 794 207.9 790.3 217.2 789.8C226.5 789.3 236.1 791.3 245.3 790.5C254.6 789.7 263.5 786.7 272.6 785.2C281.8 783.7 291.1 783.5 300.2 781.6C309.3 779.6 318.3 777 327.1 773.5C336 770 344.6 764.4 353.4 760.7C362.3 756.9 371.4 754.9 380.2 751.1C389 747.4 402.1 740.4 406.5 738.2M131.3 979.6C135.2 976.7 147.7 968.7 154.8 962.4C161.9 956.2 167 948.2 174.2 942C181.3 935.7 190.1 930.8 197.6 924.8C205.1 918.9 212.4 912.7 219.1 906.2C225.9 899.6 231.5 892 238.2 885.4C244.8 878.7 253.3 873.5 259.2 866.3C265.1 859 268.3 849.5 273.7 841.8C279.1 834.1 285.5 827.2 291.5 820C297.5 812.8 304.5 806.5 309.7 798.5C314.8 790.6 317.6 780.8 322.3 772.5C326.9 764.2 333 757 337.6 748.7C342.3 740.4 345.7 731.1 350 722.5C354.3 713.9 361.2 701.3 363.5 697.1M91.5 763.1C94.1 766.9 102.3 778.2 107.3 786C112.3 793.8 117.1 801.8 121.5 810C125.9 818.2 128.4 827.6 133.5 835.3C138.6 843.1 146.7 849 152.2 856.5C157.6 864.1 161.8 872.4 166.2 880.6C170.7 888.7 174.1 897.5 178.9 905.5C183.8 913.4 190.3 920.3 195.1 928.2C199.9 936.2 203.1 945.1 207.8 953.1C212.5 961.1 220.9 972.3 223.5 976.1M86.8 699.7C89.9 703.7 98.8 716.5 105.6 723.9C112.4 731.3 120.7 736.7 127.6 743.9C134.6 751.2 140.3 760 147.1 767.4C153.9 774.8 161.2 781.5 168.4 788.4C175.6 795.2 183.4 801.3 190.3 808.5C197.2 815.7 202.5 825.2 210 831.6C217.5 838.1 227.3 841.6 235.4 847.2C243.5 852.9 250.8 859.7 258.8 865.4C266.9 871.1 275.2 876.6 283.9 881.5C292.6 886.4 302.6 889.7 311 894.9C319.5 900.1 326.1 907.8 334.6 912.9C343.2 917.9 353.3 921 362.4 925.4C371.5 929.7 380.3 934.6 389.3 939C398.4 943.5 412.1 950 416.6 952.2M221.1 680.6C221.5 685.8 222.1 701.6 223.4 711.7C224.7 721.8 227.4 731.5 229.1 741.5C230.8 751.5 232.1 761.6 233.5 771.8C234.8 781.9 234.5 792.7 237.2 802.3C239.8 812 245.8 820.3 249.3 829.6C252.9 838.8 254.5 848.9 258.5 858C262.5 867.1 268 875.6 273.3 884.1C278.5 892.7 285.1 900.8 290.1 909.5C295.1 918.2 297.8 927.8 303.3 936.3C308.8 944.8 316.7 952.3 323 960.5C329.3 968.7 338 981.2 341.1 985.4M404.1 693.2C402.1 698 396.3 712.4 391.8 721.5C387.4 730.7 381.7 738.7 377.6 748.1C373.5 757.5 371.7 769 367.2 778C362.6 787.1 355.7 794 350.5 802.5C345.4 811 341.8 820.9 336.2 829C330.5 837 323.3 843.7 316.6 850.9C310 858.1 302.8 864.8 296.3 872.1C289.7 879.4 284.6 887.9 277.4 894.6C270.2 901.3 260.7 906 253.1 912.3C245.5 918.7 240.1 926.9 231.9 932.8C223.7 938.6 213 942.2 204.1 947.4C195.2 952.6 187.1 958.6 178.4 964C169.8 969.4 156.4 977.2 152 979.9M409 762.4C404.3 763.4 390 765.8 381.1 768.6C372.1 771.5 364 776.4 355.3 779.7C346.5 783 337.5 785.7 328.5 788.5C319.5 791.4 310.2 793.4 301.4 796.6C292.5 799.8 284.4 804.5 275.6 807.6C266.7 810.8 256.7 811.3 248.3 815.3C239.8 819.3 233.1 827.3 224.8 831.7C216.5 836.1 207 837.8 198.5 841.7C190 845.6 182 850.7 173.7 855.1C165.4 859.5 157 863.6 148.7 867.9C140.4 872.2 131.9 876.2 123.8 881C115.7 885.9 104.1 894.4 100.2 897.1M394.6 806C392.1 810.2 384.8 822.5 380.1 831C375.4 839.5 371.9 849.2 366.4 856.9C361 864.7 353.4 870.2 347.6 877.5C341.8 884.8 337.7 894 331.6 900.9C325.4 907.9 317.4 913 310.7 919.4C303.9 925.8 298.7 933.8 291.1 939.2C283.4 944.6 273 947.3 264.6 952C256.2 956.6 249.1 962.6 240.7 967.3C232.3 972 218.8 978 214.4 980.2M194.4 967.2C198.7 964.2 212.3 955.9 220.3 949.5C228.3 943.1 234.2 935.1 242.3 928.7C250.3 922.4 260.8 917.9 268.6 911.3C276.3 904.7 281.7 896.3 288.9 889.3C296.1 882.3 304.8 876.5 311.5 869.1C318.3 861.7 323.9 853.5 329.3 845.1C334.7 836.7 338.8 827.2 343.8 818.6C348.8 809.9 355.2 802.2 359.5 793C363.9 783.8 365.8 772.7 370 763.4C374.2 754 380.5 746.4 384.7 737C388.8 727.7 393.2 712.2 394.9 707.2M100.1 984.7C105.2 982.4 121 976 130.3 970.8C139.7 965.5 147.5 959 156.2 953.2C165 947.5 174.1 942.1 183 936.4C191.8 930.8 201.5 925.8 209.4 919.4C217.4 913 223.1 904.7 230.8 898.1C238.5 891.5 248.2 886.5 255.4 879.5C262.7 872.5 268.7 864.5 274.3 856.2C279.9 847.9 284 838.3 289.2 829.6C294.5 821 301.3 813.7 305.7 804.4C310.2 795.1 312.2 783.7 315.9 773.8C319.6 763.9 323.9 754.6 327.9 744.9C331.9 735.2 336.4 726 339.8 715.8C343.2 705.6 346.9 689.2 348.3 683.9M106.4 849.8C111.2 850.9 125.6 854.7 135.2 856.7C144.8 858.8 154.3 859.8 163.9 862.1C173.5 864.4 183.3 869.3 192.8 870.5C202.4 871.7 211.7 869.6 221.1 869.5C230.6 869.4 240.1 869.7 249.5 869.8C259 870 268.6 871.4 278 870.5C287.4 869.5 296.6 865.7 305.9 864.1C315.3 862.5 324.8 863.3 334.1 860.9C343.4 858.5 352.6 853.7 361.8 850C371 846.3 380.2 842.1 389.4 838.8C398.7 835.6 412.6 831.9 417.3 830.5M242.2 966.7C245 962.8 252.9 950.9 258.7 943.3C264.5 935.6 271.2 928.5 277.1 920.8C283 913.2 288.6 905.5 293.9 897.6C299.2 889.7 304.2 881.6 308.9 873.4C313.6 865.2 317.9 856.7 322.2 848.3C326.4 839.8 330.1 831.1 334.4 822.7C338.8 814.3 344.2 806.4 348.2 797.8C352.2 789.2 354.9 780 358.3 771.1C361.7 762.2 365.8 753.7 368.6 744.5C371.4 735.3 372.5 725.2 375.2 716C378 706.8 383.4 693.6 385.1 689.1M232.1 690C235.7 693.6 247.2 704.2 253.7 711.8C260.2 719.3 264.8 727.7 271.1 735.4C277.4 743 285.9 749.7 291.5 757.7C297.1 765.6 299.7 775 304.9 783.1C310.2 791.2 318 798.2 323 806.4C327.9 814.7 331.2 823.7 334.4 832.7C337.7 841.8 339.6 851.4 342.3 860.7C344.9 870 348.8 878.8 350.5 888.5C352.2 898.2 351.2 909.2 352.7 919C354.3 928.8 358.4 937.4 360 947.2C361.5 957 361.7 972.7 362 977.8M89.6 772.7C94.6 773.5 109.6 775.3 119.3 777.5C129.1 779.7 138.4 783.5 148.1 785.9C157.8 788.4 167.6 790.4 177.4 792.4C187.2 794.4 197.3 795.1 206.9 797.9C216.5 800.7 225.5 806.3 235.1 809C244.7 811.8 254.7 812.9 264.6 814.5C274.5 816.1 284.7 816.6 294.4 818.8C304.2 821.1 313.3 825.7 323.1 828C332.8 830.4 342.9 831 352.7 833C362.5 835 372.2 837.4 381.8 840C391.5 842.7 405.8 847.5 410.6 848.9M87.4 846.7C92.6 846.4 108.3 845.7 118.5 844.9C128.8 844.2 138.7 842.5 149.1 842.1C159.5 841.6 171.1 843.5 181.2 842.2C191.2 841 199.9 837.2 209.3 834.7C218.7 832.3 228.7 831 237.7 827.8C246.7 824.6 255.4 820.6 263.5 815.7C271.6 810.7 278.4 803.3 286.4 798.1C294.4 792.9 303.8 790.5 311.5 784.6C319.1 778.7 325.4 770.3 332.2 762.8C339 755.3 345.6 747.4 352.2 739.5C358.8 731.7 365.6 724.1 371.9 715.7C378.2 707.2 387.1 693.4 390.1 688.9M107.2 967.3C112 967.8 126.3 969 135.7 970.2C145.2 971.5 154.7 972.5 164 974.7C173.3 977 182.2 981.8 191.5 983.6C200.9 985.4 215.4 985.3 220.2 985.6M97.1 710.3C102 711 116.5 713.5 126.2 714.1C135.8 714.8 145.3 713.3 154.9 714.4C164.6 715.4 174.5 719.3 184.1 720.4C193.8 721.5 203.3 721.2 212.9 720.8C222.4 720.5 231.8 718.6 241.4 718.1C250.9 717.6 260.6 719.2 270.1 717.9C279.5 716.6 288.8 712 298.2 710.3C307.6 708.7 317.3 709.2 326.7 707.9C336.2 706.6 345.7 705.3 355 702.7C364.4 700.1 373.6 695.2 382.9 692.4C392.3 689.5 406.4 686.7 411.1 685.6M192.6 685.1C193 690.1 194.3 704.9 195.2 714.8C196.2 724.7 197.3 734.6 198.4 744.4C199.5 754.2 199.8 764.3 201.9 773.8C204.1 783.3 209.2 791.9 211.3 801.4C213.3 810.9 212 821.5 214.4 830.9C216.8 840.4 222.2 848.8 225.4 857.9C228.7 867.1 230 876.9 233.6 885.9C237.3 894.9 242.2 903.5 247.2 912.1C252.1 920.7 258.5 928.8 263.3 937.4C268.1 946.1 271.1 955.3 276 963.9C280.8 972.5 289.6 984.9 292.3 989.2M401.3 683.9C399 684.1 392 685.2 387.3 685.5C382.6 685.7 377.6 684.5 373 685.5C368.5 686.6 362.2 690.7 360 691.7M398.1 749.2C394.8 752.8 385.3 764.5 378.2 770.9C371 777.3 362.6 781.8 355.2 787.7C347.7 793.6 340.7 800.2 333.4 806.5C326.1 812.7 319.2 819.6 311.6 825.3C304.1 831 295.4 835.1 287.9 840.9C280.4 846.8 274.6 855.3 266.6 860.4C258.6 865.5 248.5 867.4 239.9 871.5C231.3 875.7 223.2 880.6 214.9 885.2C206.5 889.7 198.5 894.7 189.8 898.7C181.1 902.7 171.5 905.3 162.9 909.3C154.2 913.4 146.7 919.3 137.9 923C129 926.8 114.5 930.4 109.8 931.9M412 718.4C412 723.3 411.8 738 412.4 747.9C412.9 757.9 414.6 768.2 415.2 778.2C415.8 788.2 416.8 798.3 415.9 807.8C415 817.3 411.5 826 409.7 835.2C407.8 844.4 408 854.3 404.9 863.1C401.8 871.9 394.8 879.5 391.1 888.1C387.3 896.7 386.5 906.2 382.1 914.6C377.7 923.1 370.8 930.7 364.8 938.6C358.8 946.5 352.4 954.2 346.1 962C339.9 969.9 330.4 981.5 327.2 985.4M399.7 803.6C395.7 801 384.2 792.7 376.1 788C368.1 783.2 359.5 779.9 351.5 775.1C343.5 770.4 335.9 764.4 328 759.4C320.1 754.4 312.4 748.7 303.9 745.1C295.5 741.5 285.7 741.1 277.1 737.8C268.6 734.4 260.8 728.9 252.5 724.8C244.2 720.7 236.2 716.1 227.4 713.2C218.7 710.3 208.9 709.8 200 707.4C191.1 704.9 182.8 700.9 173.8 698.5C164.8 696.2 155.3 695.1 146.1 693.4C136.9 691.7 127.5 690.4 118.4 688.3C109.3 686.2 96.1 682 91.7 680.8M352.3 980C349.7 975.7 342.4 962.4 336.5 954.4C330.7 946.4 323 940.1 317 932.2C311 924.3 306.6 915 300.5 907.2C294.4 899.4 287 892.9 280.5 885.4C274 878 267.4 870.7 261.5 862.8C255.6 854.8 251.4 845.3 244.9 837.9C238.5 830.4 229.6 825.1 223 817.9C216.3 810.6 211.8 801.4 204.9 794.3C198 787.3 189.1 782.1 181.5 775.7C173.9 769.2 166.5 762.6 159.5 755.7C152.4 748.8 146.3 741 139 734.3C131.7 727.6 123 722.2 115.6 715.6C108.2 709 98.2 698.2 94.7 694.7M143.1 680C143.4 685 144.2 699.9 144.7 709.8C145.3 719.7 146.5 729.5 146.6 739.5C146.7 749.5 144.4 759.7 145.3 769.6C146.2 779.5 150.2 789 151.9 798.8C153.5 808.5 154.3 818.4 155.3 828.3C156.2 838.1 156 848.2 157.6 857.9C159.2 867.7 163.4 877.2 164.9 887C166.4 896.8 165.3 906.9 166.6 916.7C168 926.6 170.5 936.2 172.8 945.9C175.1 955.6 179.2 970.1 180.4 974.9M216.1 686.8C216.6 691.4 218.2 705.1 218.8 714.2C219.3 723.3 218.9 732.4 219.6 741.5C220.2 750.7 222.5 759.9 222.6 769C222.7 778.1 220.1 787.1 220.2 796.2C220.4 805.3 222.9 814.5 223.4 823.6C223.9 832.8 224.5 841.9 223.4 850.9C222.3 860 217.8 868.9 216.6 878C215.5 887 217.4 896.2 216.7 905.3C216 914.4 213.9 923.4 212.5 932.4C211.1 941.5 209.6 950.5 208.3 959.6C206.9 968.6 204.9 982.2 204.3 986.7M96 789.4C101 790.6 115.6 794.7 125.9 796.7C136.1 798.7 147.2 799.5 157.6 801.2C167.9 803 178.7 804.3 188.2 807.4C197.8 810.4 205.8 816 214.9 819.7C224.1 823.5 234.3 825.5 243.1 829.8C251.9 834.1 259.7 839.9 267.7 845.6C275.7 851.2 282.9 857.9 290.9 863.5C298.9 869 308.3 872.4 315.7 878.9C323.1 885.4 328.8 894.6 335.3 902.6C341.8 910.5 348.2 918.7 354.6 926.7C361 934.7 367.8 942.2 374 950.7C380.1 959.1 388.7 973 391.6 977.4M112.4 834.4C116.2 838 127.7 849.2 135.5 855.8C143.4 862.4 151.6 868 159.7 873.9C167.8 879.9 175.8 886.1 184 891.6C192.2 897.1 200.3 903.1 209.1 906.9C217.8 910.7 227.7 911.1 236.6 914.5C245.5 917.9 253.4 924.4 262.5 927.2C271.6 930 281.5 930.1 291.1 931.4C300.7 932.6 310.1 934.4 319.9 935C329.6 935.7 339.5 936 349.7 935.3C359.9 934.6 370.8 931.6 381.1 930.8C391.3 930.1 406 930.7 411 930.7M109.4 959.3C114.4 959.2 129.3 958.3 139.5 958.9C149.7 959.5 160.5 962.4 170.6 962.8C180.8 963.2 190.6 962.2 200.5 961.1C210.3 959.9 219.8 957.3 229.6 955.9C239.3 954.6 249.6 955.3 259.1 953C268.7 950.7 277.6 945.4 287 942.2C296.4 939 305.9 936.6 315.4 933.7C324.8 930.8 334.5 929 343.6 924.9C352.8 920.8 361.4 913.9 370.4 909C379.4 904.2 393.1 898 397.7 895.8M242.1 991.7C241.7 987.1 239.3 973.6 239.5 964.3C239.6 955.1 242.8 945.5 242.9 936.2C243 927 240.2 918.1 239.8 909C239.4 899.8 241.7 890.3 240.7 881.2C239.7 872.1 234.9 863.5 233.7 854.4C232.6 845.3 234.5 835.9 233.6 826.8C232.8 817.6 230 808.8 228.5 799.7C227.1 790.7 226.7 781.5 224.7 772.6C222.6 763.6 218.8 754.8 216.4 745.9C214 737 212.2 728 210.2 719C208.2 710.1 205.3 696.6 204.3 692.1M304.2 977.7C306.3 972.5 313.3 956.6 316.5 946.2C319.7 935.8 320.8 925.7 323.4 915.4C326 905.1 330.3 894.5 331.9 884.4C333.5 874.2 333.7 864.3 333.1 854.4C332.5 844.6 329.6 835.1 328.2 825.3C326.9 815.6 327.8 805.6 325.1 796C322.3 786.5 315.8 777.5 311.7 768.2C307.6 758.8 305.3 749.2 300.4 740C295.6 730.8 288.8 721.8 282.5 712.8C276.2 703.8 265.9 690.4 262.6 685.9M100.9 773.2C101.1 776.9 102.2 787.9 101.9 795.2C101.7 802.5 100 809.7 99.6 817C99.1 824.3 99.2 831.6 99.1 838.9C99 846.2 99.1 853.5 98.7 860.8C98.4 868.1 97.1 875.3 97 882.6C96.9 889.9 98.6 897.3 98.3 904.6C98 911.9 95.9 919.1 95.1 926.4C94.2 933.7 93.4 940.9 93.2 948.2C93.1 955.5 94.2 962.9 93.9 970.2C93.6 977.5 92 988.4 91.6 992M92.8 715.6C92.8 719.5 92.6 731 92.5 738.7C92.4 746.4 92.6 754 92.2 761.7C91.8 769.4 90.5 777 90.3 784.7C90 792.4 90.7 800.1 90.5 807.8C90.3 815.4 89.1 823.1 89.2 830.8C89.3 838.4 91.1 846.2 91 853.8C90.9 861.5 88.9 869.2 88.7 876.8C88.4 884.5 89.7 892.2 89.4 899.9C89 907.6 86.7 915.2 86.6 922.9C86.4 930.5 88.4 938.3 88.5 946C88.6 953.6 87.1 961.3 87 969C86.8 976.6 87.5 988.2 87.6 992M101.7 803.9C101.7 807.6 101.5 818.8 101.7 826.2C101.8 833.7 102.5 841.1 102.8 848.6C103 856 103.4 863.4 103.2 870.9C103.1 878.3 101.7 885.8 101.9 893.3C102.1 900.7 104.1 911.8 104.5 915.6M89.7 702.7C89.8 706.5 90.2 717.9 90.1 725.4C90.1 733 89.8 740.6 89.5 748.1C89.2 755.7 88.2 763.3 88.2 770.9C88.1 778.4 89 786 89 793.6C89 801.1 88.1 808.7 88.4 816.3C88.6 823.9 90.6 831.4 90.5 839C90.5 846.6 88.3 854.1 88.1 861.7C87.9 869.3 89.4 876.8 89.4 884.4C89.5 892 88.8 903.3 88.7 907.1M94.8 733.8C94.7 737.5 93.8 748.8 94 756.3C94.3 763.9 96.3 771.4 96.4 778.9C96.5 786.4 94.6 794 94.6 801.5C94.6 809 96.4 816.5 96.4 824C96.3 831.6 94.2 839.1 94.3 846.6C94.3 854.2 96.2 861.7 96.7 869.2C97.1 876.7 96.9 888 96.9 891.8M91.9 714.7C91.5 718.2 89.9 728.6 89.9 735.5C89.9 742.5 91.9 749.5 91.9 756.5C91.9 763.5 90.5 770.4 89.8 777.3C89.1 784.2 88.1 791.2 87.7 798.1C87.2 805.1 87.2 815.5 87.1 819M98.1 832.2C97.8 836 96.4 847.4 96.3 855C96.2 862.7 97.4 870.4 97.3 878C97.2 885.6 95.6 893.2 95.4 900.8C95.2 908.4 96.6 916.1 96 923.7C95.3 931.3 92.5 938.8 91.7 946.4C90.9 953.9 91.8 961.6 91.2 969.2C90.7 976.8 89 988.2 88.6 992M101.1 758.7C101 762.6 100.4 774.2 100.3 782C100.2 789.8 101.2 797.6 100.7 805.4C100.2 813.1 97.7 820.9 97.3 828.6C96.8 836.4 97.8 844.2 97.8 852C97.8 859.8 97.3 867.5 97.1 875.3C96.9 883.1 96.2 890.9 96.4 898.6C96.6 906.4 98.4 914.2 98.3 922C98.2 929.8 96 937.5 95.6 945.3C95.2 953.1 95.9 960.9 96 968.7C96 976.4 96 988.1 96 992M95.9 774.6C95.7 778.2 94.6 789.1 94.6 796.3C94.6 803.6 96 810.9 96 818.2C95.9 825.4 94.8 832.6 94.5 839.9C94.2 847.1 94.1 854.4 94 861.6C93.8 868.9 94.1 876.1 93.6 883.4C93 890.6 91 897.8 90.6 905C90.2 912.3 91.4 919.6 91.4 926.8C91.4 934.1 91.2 941.3 90.6 948.6C90 955.8 88.3 966.6 87.8 970.2M93.7 748C93.9 751.6 94.8 762.5 94.7 769.8C94.6 777.1 93 784.4 93.1 791.7C93.2 798.9 95.1 806.2 95.4 813.4C95.7 820.7 94.6 828 94.9 835.3C95.2 842.6 97.2 849.8 97.3 857.1C97.3 864.4 95.2 871.7 95.2 879C95.2 886.2 96.9 897.1 97.2 900.8M101.9 792C102.1 795.5 102.3 806.1 102.8 813.1C103.4 820.1 104.7 827.1 105.2 834.1C105.7 841.1 105.1 848.2 105.8 855.2C106.5 862.2 109.2 869.1 109.6 876.1C110 883.2 108.1 890.3 108.1 897.4C108.2 904.4 109.6 911.4 110 918.4C110.3 925.5 110.2 936 110.3 939.6M93 784.2C92.8 788.1 92.4 799.6 91.9 807.3C91.5 815 90.5 822.7 90.3 830.4C90.2 838.1 91.2 845.8 91 853.5C90.8 861.2 88.9 868.8 88.9 876.5C88.9 884.2 90.9 892 91 899.7C91.1 907.4 90.1 915.1 89.5 922.7C89 930.4 88 938.1 87.8 945.8C87.7 953.5 88.7 961.2 88.6 968.9C88.6 976.6 87.7 988.1 87.5 992M90.6 820.7C91 824.3 92 834.9 92.8 842.1C93.7 849.2 95.3 856.2 95.7 863.4C96.2 870.5 95.3 877.7 95.7 884.9C96.1 892 97.8 899.1 98.1 906.2C98.3 913.4 96.9 920.6 97.4 927.7C97.9 934.9 100.8 941.9 101.1 949C101.5 956.1 99.7 963.4 99.6 970.6C99.5 977.7 100.4 988.4 100.5 992M96.6 761.6C96.1 765.3 94.1 776.3 93.8 783.7C93.5 791.1 95.1 798.6 94.8 806C94.4 813.4 92.2 820.7 91.8 828.1C91.3 835.5 92.7 843 92 850.4C91.4 857.8 88.6 868.7 87.9 872.4M92.9 709.3C92.8 712.8 92 723.5 92 730.6C91.9 737.7 92.4 744.9 92.4 752C92.4 759.1 92.3 766.2 91.9 773.3C91.5 780.5 89.9 787.6 90 794.7C90.1 801.8 92.1 808.9 92.6 816C93 823.2 92.9 830.3 92.6 837.4C92.3 844.5 90.7 851.6 90.6 858.7C90.6 865.9 92.1 876.5 92.4 880.1M98.7 797.5C99 801.4 100.7 813.2 100.8 821.1C100.8 829 98.7 836.9 98.7 844.8C98.7 852.7 100.5 860.5 100.6 868.4C100.8 876.3 99.2 884.2 99.4 892.1C99.6 900 101.3 907.9 101.6 915.7C102 923.6 101.4 935.5 101.4 939.4M96.7 727.4C96.6 731 95.7 741.9 96.1 749.1C96.5 756.3 98.7 763.4 99 770.6C99.4 777.8 98 785.1 98.1 792.3C98.3 799.5 99.9 806.7 100.1 813.9C100.2 821.1 99 828.4 99.2 835.6C99.4 842.8 100.4 850 101.2 857.2C102 864.3 103.5 871.5 103.8 878.7C104 885.9 102.6 893.2 102.9 900.4C103.2 907.6 104.9 914.8 105.4 922C105.9 929.1 106 940 106.1 943.6M89 688.4C89.3 692.2 90.6 703.4 90.7 711C90.9 718.6 89.4 726.3 90 733.8C90.5 741.3 93.3 748.7 94 756.3C94.8 763.8 93.8 771.4 94.3 779C94.7 786.5 96.4 797.8 96.8 801.5M98.2 709.7C98.3 713.4 99.2 724.4 98.9 731.7C98.7 739 97 746.2 96.8 753.6C96.7 760.9 98.2 768.2 98.3 775.6C98.5 782.9 97.9 790.2 97.7 797.5C97.6 804.8 97.8 812.2 97.4 819.5C97.1 826.8 96.2 834.1 95.7 841.4C95.1 848.7 94.4 856 94.3 863.3C94.2 870.6 95.3 877.9 95 885.3C94.7 892.6 93.1 899.8 92.6 907.1C92 914.4 92.3 921.8 91.8 929.1C91.3 936.4 89.7 947.3 89.3 950.9M91.4 732.5C91.5 736.4 92.3 748 92 755.8C91.7 763.5 89.9 771.2 89.8 779C89.6 786.7 91.4 794.5 91.3 802.2C91.3 809.9 89.4 817.7 89.6 825.4C89.7 833.1 92.2 840.9 92.1 848.7C92.1 856.4 89.4 864.1 89.1 871.8C88.8 879.6 90.5 887.3 90.2 895.1C89.8 902.8 87.4 910.5 87.2 918.2C87 926 88.9 933.8 88.9 941.5C88.9 949.2 87.6 957 87.4 964.7C87.1 972.4 87.4 984.1 87.4 987.9M99.8 820.3C100.1 823.9 101.4 834.6 101.6 841.8C101.9 848.9 101 856.1 101.3 863.3C101.6 870.5 103.3 877.5 103.6 884.7C103.8 891.9 102.5 899.1 102.6 906.3C102.7 913.4 103.3 920.6 104.1 927.7C104.9 934.8 106.7 941.9 107.2 949.1C107.7 956.2 106.8 963.4 107.1 970.6C107.5 977.7 109 988.4 109.3 992M100.2 715.3C100.5 718.9 101.8 729.8 102.2 737.1C102.5 744.3 101.6 751.7 102.2 759C102.8 766.2 105.4 773.4 105.8 780.7C106.1 788 104.2 795.4 104.2 802.7C104.2 809.9 105.2 817.2 105.7 824.5C106.1 831.8 106.6 839 107 846.3C107.3 853.6 107.5 860.9 107.8 868.2C108.1 875.5 108.7 886.4 108.8 890M90.2 801.9C90 805.9 88.9 817.8 89 825.7C89.2 833.6 91 841.5 91.1 849.5C91.1 857.4 89.3 865.3 89.1 873.2C88.8 881.1 89.6 889.1 89.6 897C89.7 904.9 89.7 912.8 89.5 920.7C89.4 928.7 88.2 936.6 88.6 944.5C88.9 952.4 91.1 960.3 91.6 968.2C92 976.2 91.4 988 91.4 992M100 679.5C99.9 683.4 99.2 695 99.2 702.7C99.2 710.5 100.4 718.2 100 725.9C99.6 733.7 97 741.4 96.7 749.1C96.4 756.8 98.3 764.6 98.1 772.3C98 780.1 95.9 787.8 95.9 795.5C95.9 803.3 98 811 98.1 818.8C98.1 826.5 96.7 834.2 96.4 842C96 849.7 96.1 857.4 96 865.2C95.8 872.9 95.4 884.5 95.3 888.4M98.8 762.4C98.9 766.2 99.8 777.8 99.5 785.4C99.2 793.1 97.3 800.7 97 808.3C96.7 816 97.5 823.7 97.7 831.3C97.9 839 98.5 846.7 98.3 854.4C98 862 96.4 869.6 96.2 877.3C96 884.9 97.4 892.6 97 900.3C96.6 907.9 94.8 915.5 93.9 923.2C93.1 930.8 92.2 938.4 91.9 946.1C91.7 953.7 92.8 961.4 92.4 969.1C92.1 976.7 90.4 988.2 90 992M88.1 698.7C88.3 702.7 89.1 714.5 89.2 722.3C89.3 730.2 88.8 738.1 88.7 746C88.7 753.8 88.8 761.7 89 769.6C89.2 777.5 90.2 785.3 89.9 793.2C89.6 801.1 87.3 809 87.3 816.8C87.2 824.7 89.2 832.6 89.5 840.4C89.8 848.3 88.9 856.2 89 864.1C89.1 871.9 89.7 879.8 90.1 887.7C90.6 895.5 91.7 903.4 91.7 911.3C91.7 919.1 90.2 927 90.1 934.9C90.1 942.8 91.3 954.6 91.5 958.5M95.1 738.3C94.8 741.8 93.5 752.5 93.5 759.6C93.6 766.6 95.3 773.7 95.5 780.7C95.8 787.8 95.1 794.9 95.2 801.9C95.2 809 95.7 816.1 95.8 823.1C95.8 830.2 95.3 837.3 95.5 844.3C95.8 851.4 96.8 858.4 97.5 865.5C98.1 872.5 99.1 879.6 99.5 886.6C99.9 893.7 99.8 904.3 99.9 907.8M98.1 820.6C97.9 824.1 97 834.9 97.1 842C97.1 849.2 98.3 856.3 98.2 863.4C98.1 870.6 96.2 877.8 96.5 884.9C96.7 892.1 99.2 899.1 99.6 906.3C100 913.4 99.1 920.6 99.1 927.7C99 934.9 99 942 99.3 949.2C99.5 956.3 100.3 963.4 100.7 970.6C101.1 977.7 101.5 988.4 101.7 992M99.7 827.3C99.7 831.2 99.4 843 99.8 850.9C100.2 858.7 102 866.5 102.1 874.3C102.3 882.2 100.4 890.1 100.7 898C101 905.8 103.4 913.6 104 921.4C104.5 929.2 103.7 937.1 104.1 945C104.6 952.8 106.4 960.6 106.9 968.4C107.3 976.3 106.9 988.1 106.9 992M92.9 793.1C93 796.8 93.6 807.9 93.5 815.2C93.5 822.6 92.7 830 92.5 837.3C92.3 844.7 92.4 852.1 92.1 859.4C91.8 866.8 91 874.2 90.6 881.5C90.2 888.9 89.5 896.2 89.6 903.6C89.6 911 91.1 918.4 90.9 925.8C90.7 933.1 88.8 940.4 88.4 947.8C88 955.2 88.8 962.6 88.5 969.9C88.2 977.3 86.8 988.3 86.4 992M102.1 685.3C102.4 689.2 103.3 700.8 103.7 708.6C104.1 716.4 104.1 724.2 104.7 731.9C105.4 739.7 107.1 747.4 107.4 755.1C107.8 762.9 106.5 770.8 107 778.5C107.6 786.3 110.2 793.9 110.8 801.7C111.4 809.4 110.7 817.2 110.7 825C110.7 832.8 110.8 844.5 110.9 848.4M89 768.3C89.2 772 89.7 783.2 90.2 790.7C90.7 798.1 91.9 805.6 91.9 813C91.9 820.5 90.3 827.9 90.3 835.4C90.2 842.9 91.8 850.3 91.9 857.8C91.9 865.2 90.6 872.7 90.5 880.1C90.4 887.6 91.1 895.1 91.4 902.5C91.7 910 92.7 917.4 92.3 924.9C92 932.4 89.6 939.8 89.1 947.3C88.6 954.7 89.7 962.2 89.6 969.6C89.4 977.1 88.6 988.3 88.4 992M97.6 770C98.1 773.4 100.1 783.7 100.5 790.5C100.8 797.4 99.6 804.3 99.7 811.2C99.9 818.1 101.4 824.9 101.5 831.8C101.6 838.7 100.2 845.6 100.5 852.5C100.9 859.3 103.2 866.1 103.5 873C103.7 879.9 102.1 886.8 102 893.7C101.8 900.6 102.4 910.9 102.5 914.3M103.2 805.1C103.2 809 102.9 820.7 103.2 828.5C103.5 836.3 105.2 844 105.1 851.8C105 859.6 102.6 867.4 102.6 875.2C102.5 883 104.7 890.8 104.9 898.5C105 906.3 103.4 914.1 103.5 921.9C103.6 929.7 105.4 937.5 105.5 945.3C105.6 953.1 104.6 960.8 104.3 968.6C104.1 976.4 103.9 988.1 103.8 992M119.8 752.2C120.1 756.2 121 768.2 121.8 776.2C122.6 784.1 124.1 792 124.5 800C124.9 808 123.7 816.1 124.2 824.1C124.6 832.1 126.7 840 127.2 847.9C127.7 855.9 126.7 864 127 872C127.3 880 128.8 891.9 129.1 895.9M117.6 719.4C117.8 723.2 119.1 734.5 119 742.1C118.9 749.7 117.1 757.2 117 764.8C116.8 772.4 118.2 780 117.9 787.5C117.7 795.1 115.5 802.7 115.6 810.3C115.6 817.8 117.8 825.4 118 833C118.3 840.5 116.9 848.1 116.9 855.7C117 863.3 118.4 870.8 118.3 878.4C118.2 886 116.5 893.6 116.3 901.1C116.1 908.7 117.2 916.3 117.3 923.8C117.5 931.4 117.2 939 117.4 946.6C117.7 954.1 118.5 961.7 118.6 969.3C118.8 976.9 118.4 988.2 118.4 992M106.3 788.7C106.6 792.5 107.5 803.8 108.1 811.3C108.6 818.8 109.4 826.3 109.7 833.8C110.1 841.4 109.7 848.9 110.2 856.4C110.6 864 112.3 871.4 112.3 879C112.2 886.5 109.9 894.1 109.9 901.6C110 909.2 112.1 916.7 112.6 924.2C113.1 931.7 112.8 939.2 112.8 946.8C112.8 954.3 112.7 961.9 112.8 969.4C112.8 976.9 113 988.2 113 992M145.7 776.6C145.7 780.6 145.2 792.6 145.6 800.6C146.1 808.5 148.1 816.5 148.3 824.5C148.4 832.5 146.9 840.4 146.7 848.4C146.6 856.4 147.4 864.4 147.4 872.4C147.5 880.3 147.6 888.3 147.2 896.3C146.9 904.3 145.3 912.2 145.4 920.2C145.5 928.2 147.5 936.2 147.7 944.1C147.9 952.1 146.7 960.1 146.4 968.1C146.2 976 146.3 988 146.3 992M87.4 809.7C87.8 813.5 89.3 824.8 89.7 832.4C90.1 840 89.8 847.6 89.9 855.2C90 862.8 89.5 870.5 90.2 878.1C90.9 885.6 93.5 893.1 94.1 900.7C94.6 908.3 93.5 916 93.4 923.6C93.3 931.2 93.1 938.8 93.3 946.4C93.4 954 94.2 961.6 94.2 969.2C94.3 976.8 93.6 988.2 93.5 992M114.3 827C114.5 830.9 115.4 842.7 115 850.5C114.6 858.4 112.2 866.3 111.9 874.1C111.6 882 113.4 889.8 113.3 897.7C113.2 905.6 111 913.4 111.1 921.3C111.3 929.1 113.9 937 114.2 944.8C114.6 952.7 113 960.6 113 968.4C113 976.3 114.1 988.1 114.3 992M149.9 806.6C149.6 810.5 148 822.2 147.9 830C147.7 837.8 149.3 845.8 148.9 853.6C148.5 861.5 146.3 869.2 145.5 877C144.8 884.8 144.6 892.6 144.2 900.5C143.9 908.3 143.7 916.2 143.3 924C142.8 931.8 141.7 943.5 141.3 947.4M103 688C102.7 691.9 101 703.4 101 711.2C101 718.9 102.8 726.7 102.8 734.4C102.9 742.2 101.6 749.9 101.4 757.6C101.2 765.4 101.7 773.1 101.6 780.8C101.4 788.6 100.7 796.3 100.2 804C99.7 811.8 98.8 819.5 98.6 827.2C98.5 834.9 99.2 846.6 99.3 850.4M91.6 749C91.4 752.6 90.8 763.7 90.6 771C90.4 778.4 90.5 785.8 90.3 793.1C90 800.5 89.4 807.9 88.9 815.2C88.5 822.6 87.5 829.9 87.6 837.3C87.8 844.7 89.8 852.1 89.8 859.4C89.9 866.8 87.8 874.1 87.7 881.5C87.5 888.9 89.3 896.2 89.1 903.6C88.9 911 86.7 918.3 86.7 925.7C86.7 933.1 88.6 940.4 89 947.8C89.4 955.2 89.1 962.5 89.1 969.9C89.1 977.3 89.2 988.3 89.2 992M132.6 765.1C132.5 768.8 132 779.7 132.1 786.9C132.2 794.2 133.3 801.5 133.2 808.8C133 816 131.4 823.3 131.4 830.5C131.3 837.8 132.6 845.1 132.9 852.4C133.1 859.7 133.6 866.9 133 874.2C132.4 881.4 129.8 888.6 129.3 895.9C128.8 903.2 130.1 910.5 130 917.7C129.9 925 129.1 932.2 128.6 939.5C128.1 946.7 127.3 957.6 127.1 961.3M124.3 735.4C124.4 739.4 124.7 751.3 124.6 759.2C124.6 767.1 124.2 775.1 124.1 783C124.1 790.9 124.1 798.9 124.3 806.8C124.6 814.8 125.8 822.7 125.5 830.7C125.2 838.6 123 846.5 122.7 854.4C122.4 862.3 124 870.3 123.7 878.2C123.3 886.2 121 894.1 120.7 902C120.3 909.9 121.6 917.9 121.6 925.8C121.6 933.8 120.8 945.6 120.6 949.6M99.8 791.6C99.5 795.6 98.6 807.5 97.9 815.5C97.2 823.5 96.3 831.4 95.8 839.4C95.3 847.4 95.3 855.4 94.8 863.4C94.4 871.3 93.2 879.3 93.2 887.3C93.2 895.3 94.9 903.3 94.9 911.3C94.9 919.3 93.4 927.3 93.2 935.2C93.1 943.2 93.8 955.2 93.9 959.2M403.4 698.2C403.5 702.1 403 713.8 403.7 721.5C404.4 729.2 407 736.7 407.6 744.4C408.3 752.2 407.1 760 407.4 767.7C407.8 775.4 409.2 783.1 409.8 790.8C410.4 798.5 410.9 810.1 411.1 814M402.7 690.2C402.7 693.7 402.2 704 402.6 710.9C403 717.8 405 724.8 405.1 731.7C405.2 738.6 403.8 745.5 403.3 752.4C402.7 759.3 401.8 766.1 401.9 773C401.9 779.9 403.5 786.9 403.6 793.8C403.7 800.7 402.8 807.6 402.3 814.5C401.9 821.4 401.2 831.7 401 835.2M402 756.8C401.7 760.7 400.1 772.5 400.1 780.4C400.2 788.2 402 796 402 803.9C402.1 811.7 400.4 819.6 400.5 827.4C400.6 835.2 402.4 843.1 402.4 850.9C402.4 858.7 400.8 866.6 400.5 874.4C400.3 882.3 400.7 890.1 400.8 897.9C400.9 905.8 401 913.6 401.2 921.5C401.3 929.3 401.2 937.1 401.6 945C402 952.8 403.4 960.6 403.6 968.5C403.9 976.3 403.2 988.1 403.1 992M410.4 739.3C410.2 743.1 409 754.5 408.9 762.1C408.8 769.6 409.9 777.2 409.9 784.7C409.8 792.3 408.4 799.9 408.6 807.5C408.8 815 410.9 822.6 411.2 830.1C411.4 837.7 410.3 845.3 410.3 852.9C410.2 860.4 411 868 411.1 875.5C411.2 883.1 410.6 890.7 410.9 898.3C411.1 905.8 412.1 913.4 412.8 920.9C413.4 928.5 414.3 936 414.8 943.6C415.2 951.1 415.3 958.7 415.7 966.3C416.1 973.8 416.8 985.1 417.1 988.9M416 730.1C416.1 734.1 416.3 746 416.6 753.9C416.9 761.9 417.7 769.9 417.8 777.8C417.8 785.8 416.7 793.7 417.1 801.7C417.5 809.6 419.9 817.6 420.2 825.6C420.6 833.5 419.5 841.5 419.2 849.4C418.9 857.4 418.6 865.4 418.6 873.3C418.5 881.3 419.5 889.2 419.1 897.2C418.8 905.1 416.8 913.1 416.6 921.1C416.4 929 417.8 937 417.9 944.9C418 952.9 417.3 964.8 417.2 968.8M403.2 701C403 704.7 402.2 715.7 402 723C401.8 730.4 402 737.7 402 745.1C401.9 752.4 402 759.8 401.7 767.1C401.3 774.4 400.1 781.8 399.8 789.1C399.5 796.5 399.9 803.8 399.7 811.1C399.6 818.5 398.7 825.8 398.9 833.2C399.2 840.5 401.1 847.9 401.1 855.2C401 862.6 399 869.9 398.9 877.2C398.7 884.6 400.2 891.9 400.2 899.3C400.2 906.6 398.7 913.9 398.9 921.3C399.2 928.6 401.4 936 401.7 943.3C402 950.7 401 961.7 400.9 965.4M414.3 831.9C414.1 835.7 413.5 847.1 413.1 854.8C412.8 862.4 412.2 870 412.3 877.6C412.3 885.3 413.6 892.9 413.2 900.5C412.8 908.2 410.5 915.7 409.9 923.3C409.3 931 409.5 938.6 409.6 946.2C409.8 953.9 410.9 961.5 411 969.1C411 976.8 410 988.2 409.8 992M406.6 689.1C406.5 692.7 405.6 703.4 406.1 710.5C406.5 717.6 408.9 724.6 409.3 731.6C409.8 738.7 409 745.9 408.9 753C408.8 760.1 408.2 767.2 408.6 774.3C409 781.4 410.8 788.4 411.2 795.5C411.6 802.6 410.8 809.7 411.1 816.8C411.4 823.9 412.6 834.5 412.9 838M411 695.6C410.9 699.4 410.5 710.8 410.6 718.4C410.8 726 411.7 733.6 412 741.2C412.3 748.8 412.1 756.4 412.4 764C412.8 771.6 413.9 779.2 414.1 786.8C414.2 794.4 413.5 802 413.4 809.6C413.2 817.2 413.3 824.8 413.2 832.4C413.2 840 412.9 847.6 413 855.2C413.1 862.8 413.6 870.4 413.8 878C414 885.6 414.2 893.2 414.1 900.8C414 908.4 413.4 916 413.1 923.6C412.8 931.2 412.6 938.8 412.3 946.4C412 954 411.5 961.6 411.4 969.2C411.3 976.8 411.6 988.2 411.6 992M407.6 819.7C407.5 823.3 406.9 834.1 407.2 841.2C407.5 848.4 409.4 855.6 409.3 862.7C409.2 869.9 406.6 877.2 406.5 884.4C406.5 891.6 408.5 898.7 408.9 905.9C409.3 913 408.8 920.2 409.1 927.4C409.5 934.6 410.4 941.8 410.7 948.9C411.1 956.1 411.1 963.3 411.2 970.5C411.4 977.7 411.7 988.4 411.8 992M411.6 714C411.4 717.7 410.6 728.8 410.3 736.2C409.9 743.6 410.1 751 409.6 758.4C409.1 765.7 407.7 773.1 407.4 780.5C407.2 787.9 408.2 795.3 408.1 802.7C407.9 810.1 407.3 817.5 406.6 824.8C405.8 832.2 403.8 839.5 403.6 846.9C403.4 854.3 405.2 861.8 405.5 869.2C405.8 876.6 405.8 884 405.5 891.4C405.2 898.8 403.8 906.1 403.6 913.5C403.3 920.9 403.9 932 404 935.7M415.8 831.9C415.9 835.8 416.6 847.2 416.4 854.8C416.2 862.4 415 870.1 414.8 877.7C414.6 885.3 414.9 892.9 415.3 900.5C415.7 908.2 417 915.8 417.1 923.4C417.2 931 415.8 938.7 415.9 946.3C416 953.9 417.4 961.5 417.5 969.1C417.6 976.8 416.6 988.2 416.5 992M410.2 803C410.4 806.3 411.9 816.2 411.7 822.7C411.6 829.3 409.5 835.8 409.3 842.4C409 848.9 410.2 855.5 410.2 862.1C410.2 868.6 409.7 875.2 409.4 881.7C409.1 888.3 408.7 898.1 408.5 901.4M407.2 758.1C407.5 761.8 408.5 772.7 408.7 780C408.9 787.3 408.5 794.6 408.6 801.9C408.6 809.2 408.4 816.5 409.1 823.8C409.7 831.1 412 838.3 412.5 845.6C413 852.8 412.2 860.2 412 867.5C411.9 874.8 411.1 882.1 411.4 889.4C411.8 896.7 413.7 907.6 414.1 911.2M405.7 827.6C405.9 831.5 406.4 843.2 406.8 851.1C407.1 858.9 407.5 866.7 407.6 874.6C407.8 882.4 407 890.3 407.7 898.1C408.3 905.9 410.9 913.6 411.4 921.5C411.8 929.3 410.2 937.2 410.5 945C410.8 952.9 412.6 960.6 412.9 968.5C413.3 976.3 412.6 988.1 412.6 992M404.5 752.8C404.1 756.7 402.4 768.7 402.1 776.6C401.8 784.6 403 792.6 402.7 800.6C402.5 808.6 400.7 816.5 400.6 824.5C400.5 832.5 402.5 840.5 402.2 848.5C402 856.4 399.6 864.4 399.3 872.3C399 880.3 400.7 888.3 400.4 896.3C400.1 904.3 397.7 912.2 397.6 920.2C397.5 928.1 399.5 936.2 399.7 944.1C399.8 952.1 398.5 960.1 398.5 968C398.6 976 399.7 988 399.9 992M407.5 759.1C407.1 763 405.5 774.7 405.4 782.5C405.3 790.3 406.6 798.2 406.7 806C406.8 813.8 406.4 821.7 405.9 829.5C405.4 837.3 403.9 845 403.6 852.8C403.3 860.7 404.5 868.5 404.1 876.3C403.7 884.1 402 891.9 401.4 899.7C400.8 907.5 400.4 915.3 400.4 923.1C400.4 931 401.6 938.8 401.5 946.6C401.3 954.5 399.7 966.1 399.3 970M404.7 791.6C404.5 795.4 404.4 806.5 403.9 813.9C403.4 821.3 402.5 828.7 401.9 836.1C401.3 843.5 400.4 850.9 400.4 858.4C400.4 865.8 402.1 873.3 401.9 880.7C401.7 888.1 400 895.5 399.1 902.9C398.3 910.3 397.1 917.7 397 925.1C396.9 932.5 398.5 940 398.6 947.5C398.7 954.9 397.8 962.3 397.5 969.7C397.2 977.1 396.9 988.3 396.8 992M414.9 755.4C414.8 759.2 414.3 770.6 414.4 778.2C414.5 785.8 415.2 793.4 415.8 801C416.3 808.7 417.5 816.3 417.6 823.9C417.8 831.5 416.5 839.1 416.6 846.7C416.8 854.3 418.5 861.9 418.3 869.5C418.1 877.1 415.7 884.7 415.3 892.3C415 899.9 415.9 907.5 416 915.1C416.1 922.8 415.8 934.2 415.8 938M411.9 713.3C411.8 716.9 411.8 727.9 411.5 735.3C411.2 742.6 409.5 750 409.8 757.3C410 764.6 412.6 771.9 413.1 779.2C413.5 786.6 412.2 793.9 412.4 801.2C412.5 808.6 413.6 819.5 413.9 823.2M409.8 711C409.8 715 409.6 726.8 409.4 734.7C409.1 742.6 408.4 750.4 408.3 758.3C408.3 766.2 409.6 774.1 409.2 782C408.8 789.8 406.4 797.7 405.9 805.5C405.4 813.4 406.2 821.3 406.2 829.2C406.3 837.1 406.3 844.9 406.1 852.8C405.9 860.7 404.7 868.6 404.8 876.4C404.9 884.3 406.8 892.3 406.7 900.1C406.6 908 404.7 915.8 404.2 923.7C403.7 931.6 403.9 939.5 403.8 947.4C403.7 955.2 403.7 967.1 403.7 971M414 826.2C414.2 830.2 415 842.1 415.1 850C415.2 857.9 414.7 865.8 414.6 873.7C414.4 881.6 414.3 889.5 414.2 897.5C414.2 905.4 414.3 917.2 414.3 921.2M402 738.8C402.1 742.4 402.9 753.3 402.4 760.5C402 767.7 399.9 774.9 399.5 782.1C399.1 789.4 400.2 796.7 399.9 803.9C399.6 811.1 398 818.3 397.7 825.5C397.5 832.8 398.3 840.1 398.4 847.3C398.5 854.6 398.8 861.8 398.3 869C397.8 876.3 395.7 883.4 395.3 890.7C394.9 897.9 395.9 908.8 396.1 912.4M411 823.6C411.2 827.1 412.3 837.6 412.4 844.6C412.4 851.6 411.6 858.7 411.5 865.7C411.5 872.7 412.1 879.7 412.1 886.7C412 893.7 411.4 900.8 411.3 907.8C411.1 914.8 410.6 921.8 410.9 928.8C411.3 935.9 413.4 942.9 413.3 949.9C413.3 956.9 411 963.9 410.7 970.9C410.4 978 411.5 988.5 411.7 992M355.6 808.4C355.9 812 357.7 822.8 357.8 830C357.9 837.2 356.5 844.5 356.4 851.7C356.3 858.9 356.6 866.1 357.3 873.3C357.9 880.5 359.9 887.7 360.2 894.9C360.6 902.1 359.1 909.4 359.2 916.6C359.2 923.8 360.5 931 360.8 938.2C361.1 945.4 360.6 952.7 360.7 959.9C360.9 967.1 361.4 977.9 361.6 981.5M407.7 706.3C407.9 710.2 408.7 722.1 408.8 730.1C408.9 738 408.5 746 408.5 753.9C408.4 761.8 408.1 769.8 408.3 777.7C408.6 785.6 409.7 793.6 409.9 801.5C410 809.5 408.8 817.4 409.1 825.3C409.3 833.3 411.5 841.2 411.4 849.2C411.2 857.1 408.7 865 408.4 873C408 880.9 409.7 888.8 409.4 896.8C409.1 904.7 406.8 912.6 406.4 920.6C406.1 928.5 407.4 936.5 407.3 944.4C407.3 952.3 406.4 960.3 406 968.2C405.7 976.1 405.4 988 405.3 992M355.5 788.7C355 792.1 352.8 802.4 352.4 809.3C352.1 816.3 353.4 823.3 353.4 830.2C353.4 837.2 353.2 844.1 352.4 851C351.5 857.9 348.9 864.7 348.4 871.6C347.8 878.6 348.9 885.6 348.9 892.5C349 899.5 348.6 909.9 348.5 913.3M406.4 788.3C406.7 792.1 408.3 803.6 408.5 811.3C408.6 819 407.4 826.7 407.5 834.4C407.6 842 408.4 849.7 409 857.4C409.6 865 411 872.7 411.1 880.4C411.3 888.1 410 895.8 409.9 903.5C409.9 911.2 410.6 922.7 410.8 926.5M396.9 815.7C397.1 819.4 398.5 830.5 398.4 837.8C398.3 845.1 396.4 852.5 396.2 859.8C395.9 867.1 397.1 874.5 397 881.9C397 889.2 395.9 896.5 395.9 903.9C396 911.2 397.3 918.6 397.2 925.9C397.2 933.3 396.1 940.6 395.6 948C395.1 955.3 394.6 962.6 394.3 970C394 977.3 393.9 988.3 393.8 992M403.4 690.2C403.4 694.1 403.7 705.7 403.4 713.4C403.1 721.2 401.7 728.9 401.7 736.6C401.7 744.4 403.1 752.1 403.5 759.9C403.9 767.6 404.2 775.4 404 783.1C403.7 790.8 402.1 798.5 401.9 806.3C401.8 814 403 821.8 403 829.5C402.9 837.2 402.1 845 401.7 852.7C401.3 860.5 400.4 868.2 400.7 875.9C400.9 883.7 403 891.4 403.2 899.2C403.4 906.9 402.4 914.6 401.9 922.4C401.4 930.1 400.6 937.8 400.5 945.6C400.4 953.3 401.2 961.1 401.2 968.8C401.1 976.5 400.4 988.1 400.2 992M380.4 715.6C380.7 719.4 382.2 730.8 382.4 738.3C382.6 745.9 381.4 753.5 381.5 761C381.6 768.6 382.4 776.2 383 783.7C383.6 791.3 384.8 798.9 385.1 806.4C385.3 814 384.3 821.6 384.5 829.1C384.8 836.7 386.8 844.2 386.7 851.8C386.7 859.4 384.3 867 384.1 874.6C383.9 882.1 385.1 889.7 385.5 897.3C385.8 904.8 386.2 912.4 386.2 920C386.2 927.5 385.3 935.1 385.3 942.7C385.2 950.3 386.2 957.8 386 965.4C385.9 973 384.6 984.3 384.3 988.1M403.1 705.4C402.9 709.4 402.9 721.4 402.4 729.3C401.9 737.3 400.1 745.2 399.9 753.2C399.8 761.2 401.5 769.1 401.6 777.1C401.6 785 400.4 793 400.2 801C399.9 808.9 399.8 816.9 399.8 824.8C399.8 832.8 400.6 840.8 400.3 848.7C399.9 856.7 397.6 864.6 397.6 872.6C397.5 880.5 399.6 888.5 400 896.5C400.3 904.4 399.5 912.4 399.7 920.4C399.8 928.3 400.4 936.3 400.9 944.2C401.3 952.2 402.3 960.2 402.5 968.1C402.7 976.1 402 988 401.9 992M396.4 755C395.9 758.7 393.7 769.8 393.4 777.3C393.1 784.8 395 792.4 394.6 799.9C394.3 807.4 391.8 814.8 391.3 822.2C390.8 829.7 392.2 837.3 391.6 844.8C391 852.2 388.3 859.6 387.7 867.1C387 874.5 387.8 885.8 387.8 889.6M365.7 755.9C365.8 759.8 366.3 771.6 366.1 779.5C365.9 787.4 364.5 795.2 364.4 803.1C364.3 811 365.7 818.9 365.5 826.7C365.2 834.6 363.2 842.5 363 850.3C362.7 858.2 363.7 866.1 364 873.9C364.4 881.8 365.3 889.7 365.3 897.6C365.3 905.4 364 913.3 364.1 921.2C364.2 929 366 936.9 366 944.8C366 952.6 364.3 960.5 364.2 968.4C364 976.3 364.9 988.1 365 992M366.4 772.1C366.4 775.6 365.9 786.1 366.1 793.1C366.4 800.1 367.8 807 368.1 814C368.5 821 367.7 828.1 368.2 835C368.7 842 370.7 848.9 371 855.9C371.4 862.9 370.6 870 370.6 877C370.6 884 370.7 891 371 898C371.4 905 372.5 915.4 372.7 918.9M405.8 711C405.8 714.7 406.1 725.8 405.9 733.3C405.7 740.7 404.4 748.1 404.6 755.6C404.8 763 407 770.5 407.1 777.9C407.2 785.3 405.4 792.8 405.4 800.2C405.4 807.6 407.3 815.1 407.2 822.5C407 829.9 404.4 837.4 404.3 844.8C404.1 852.3 406 859.7 406.3 867.1C406.6 874.6 406 882 406 889.4C406.1 896.9 406.5 904.3 406.4 911.8C406.4 919.2 406.1 930.4 406 934.1M382.5 704.4C382.4 708 382.2 718.7 381.9 725.9C381.6 733 380.9 740.1 380.9 747.3C380.9 754.4 382.6 761.7 382.1 768.8C381.5 775.9 378.3 782.9 377.6 790C376.8 797.1 378 804.4 377.5 811.5C377.1 818.6 375.3 829.3 374.9 832.8M404.5 687.5C404.4 691.3 404.5 702.6 404.1 710.2C403.7 717.8 402.1 725.3 401.9 732.9C401.7 740.5 403.1 748.1 402.9 755.7C402.8 763.2 401.1 770.8 401 778.4C401 785.9 402.5 793.5 402.6 801.1C402.7 808.7 402.1 816.3 401.5 823.8C400.9 831.4 399.3 839 399.2 846.5C399 854.1 400.6 861.7 400.5 869.3C400.5 876.9 398.7 884.4 398.7 892C398.7 899.6 400.4 907.2 400.4 914.8C400.5 922.4 399.6 929.9 399.2 937.5C398.7 945.1 397.9 952.6 397.8 960.2C397.6 967.8 398.2 979.2 398.3 983M410.6 682.7C410.6 686.6 410.1 698.4 410.4 706.2C410.7 714 412.2 721.8 412.4 729.6C412.6 737.5 411.5 745.3 411.7 753.1C411.9 761 413.8 768.7 413.8 776.6C413.8 784.4 411.5 792.3 411.6 800.1C411.7 807.9 413.7 815.7 414.2 823.5C414.6 831.4 414.1 843.1 414.1 847M414 703.1C413.8 706.7 412.7 717.5 412.5 724.7C412.4 731.9 413.5 739.2 413.1 746.4C412.8 753.6 410.7 760.7 410.6 767.9C410.4 775.1 412.3 782.4 412.2 789.6C412.1 796.8 410.8 804 410.2 811.1C409.5 818.3 408.6 825.5 408.1 832.7C407.5 839.9 407.3 850.7 407.1 854.3M146.5 678.5C150.1 678.6 160.8 678.7 167.9 679C175.1 679.2 182.2 680.3 189.3 680.1C196.5 679.8 203.6 677.6 210.7 677.7C217.9 677.7 225 680.3 232.2 680.4C239.3 680.5 246.4 678.5 253.6 678.3C260.7 678 267.8 679.1 275 678.8C282.1 678.5 292.8 676.9 296.4 676.5M161.6 691.5C165.5 691.1 177.1 689.3 184.8 688.8C192.6 688.3 200.4 688.5 208.2 688.4C215.9 688.4 223.7 688.9 231.5 688.5C239.3 688 247 686 254.7 685.6C262.5 685.2 270.3 686.5 278.1 686.2C285.9 685.9 293.6 684.2 301.3 683.7C309.1 683.2 316.9 682.9 324.7 683.2C332.4 683.4 340.3 685.2 348 685.2C355.8 685.3 363.6 683.7 371.3 683.6C379.1 683.5 386.9 684.6 394.7 684.6C402.5 684.7 414.1 684.3 418 684.2M156.4 682.8C160.4 682.4 172.1 680.8 179.9 680.6C187.7 680.4 195.6 681.8 203.4 681.5C211.2 681.2 219 679.1 226.8 678.9C234.6 678.6 242.5 680.1 250.4 680.1C258.2 680.1 269.9 678.9 273.8 678.7M177.6 680.7C181.3 680.8 192.5 681.7 199.9 681.3C207.3 680.8 214.7 678.5 222.1 678.2C229.5 677.9 237 679.6 244.4 679.5C251.8 679.3 259.2 677.6 266.6 677.5C274 677.5 281.5 679.1 288.9 679.1C296.3 679.1 303.7 678.1 311.1 677.7C318.5 677.2 329.7 676.8 333.4 676.7M92.6 691.5C96.2 691.6 106.9 691.5 114.1 691.6C121.2 691.7 128.4 692.4 135.5 692.3C142.7 692.3 149.9 691 157 691.3C164.2 691.7 171.3 694.2 178.5 694.4C185.6 694.6 192.8 692.7 200 692.6C207.1 692.5 214.3 694 221.4 693.9C228.6 693.8 235.8 691.8 242.9 691.9C250.1 692.1 257.2 694.4 264.4 694.6C271.5 694.9 282.3 693.5 285.9 693.3M233.1 689.4C237 689.6 248.5 690.4 256.2 690.5C263.9 690.6 271.6 690.3 279.4 689.9C287.1 689.6 294.8 688.3 302.5 688.4C310.2 688.5 317.9 690.5 325.6 690.7C333.3 690.8 341 689.2 348.7 689.4C356.4 689.7 364.1 691.6 371.8 691.9C379.5 692.2 387.2 691.3 394.9 691.2C402.6 691 414.2 691.1 418 691.1M116.5 681.1C120.3 680.7 131.6 679.3 139.2 678.9C146.8 678.6 154.4 679.5 161.9 679.1C169.5 678.8 177.1 676.9 184.6 676.8C192.2 676.7 199.8 678.7 207.4 678.8C215 678.8 222.5 677.3 230.1 677.1C237.7 676.9 245.3 677.8 252.9 677.6C260.4 677.4 268 675.9 275.6 675.8C283.1 675.7 290.7 676.6 298.3 676.9C305.9 677.2 313.5 677.2 321.1 677.4C328.6 677.5 340 677.6 343.8 677.7M250.9 682.3C254.9 682.3 266.8 682.4 274.8 682.4C282.7 682.5 290.7 682.3 298.6 682.5C306.6 682.7 314.6 683.7 322.5 683.5C330.5 683.2 338.4 681.1 346.4 680.8C354.3 680.6 362.3 682 370.3 682.2C378.2 682.4 386.2 682.5 394.1 682.3C402.1 682 414 680.9 418 680.6M131.6 687.7C135 687.3 145.4 686.1 152.3 685.7C159.3 685.3 166.2 685.6 173.1 685.4C180 685.1 187 684.5 193.9 684.3C200.8 684.2 207.8 684.6 214.7 684.7C221.6 684.7 232 684.8 235.5 684.8M145.9 687.6C149.7 687.4 161 686.7 168.5 686.8C176 686.8 183.6 687.8 191.1 687.9C198.6 688 206.2 688 213.7 687.5C221.2 686.9 228.6 685.2 236.1 684.7C243.6 684.3 251.2 685 258.7 684.6C266.2 684.2 277.5 682.9 281.2 682.5M139.5 690.1C143.4 689.9 155.2 689.3 163.1 688.8C170.9 688.3 178.8 687.9 186.7 687C194.5 686 202.3 683.6 210.1 683.1C218 682.7 226 684.3 233.9 684.1C241.7 683.9 249.6 682.1 257.4 681.8C265.3 681.5 273.2 682.2 281.1 682.3C289 682.3 296.9 682.4 304.8 682C312.7 681.7 324.5 680.5 328.4 680.2M151.4 684.9C155.1 684.7 166.2 684.1 173.5 683.4C180.9 682.7 188.2 681.2 195.6 680.7C203 680.2 210.4 680.8 217.8 680.4C225.1 680 232.5 678.8 239.9 678.2C247.2 677.6 254.6 676.8 262 676.9C269.4 676.9 276.9 678.5 284.3 678.6C291.7 678.6 302.7 677.4 306.4 677.2M176.3 682C179.9 681.9 190.9 680.8 198.2 681C205.5 681.3 212.8 683.7 220.1 683.7C227.4 683.6 234.6 681.2 241.9 680.9C249.2 680.5 256.5 681.8 263.8 681.7C271.1 681.5 278.3 680.2 285.6 680C292.9 679.9 303.9 680.6 307.5 680.7M132.5 679.6C136.2 679.4 147.3 678 154.6 678C162 678.1 169.4 679.8 176.8 679.9C184.1 680 191.5 679.1 198.8 678.7C206.2 678.4 213.6 677.8 220.9 677.7C228.3 677.6 235.7 678.4 243.1 678.2C250.4 678 257.8 676.2 265.1 676.4C272.5 676.5 279.9 678.7 287.3 678.9C294.6 679.2 302 678.1 309.4 677.6C316.7 677.1 324.1 676.1 331.5 676.1C338.8 676.1 346.2 677.5 353.6 677.6C360.9 677.7 368.3 676.6 375.7 676.6C383 676.6 394.1 677.2 397.8 677.3M121.8 681.2C125.4 681.3 136.4 682.2 143.6 681.7C150.9 681.2 158.1 678.9 165.4 678.4C172.6 678 180 679.2 187.2 679C194.5 678.9 201.7 677.4 209 677.3C216.3 677.3 227.2 678.5 230.9 678.7M197.3 690.6C201 690.7 212 691.4 219.4 691.2C226.7 691.1 234.1 690.1 241.4 689.6C248.8 689.2 256.1 688.5 263.5 688.3C270.8 688.1 278.2 688.8 285.6 688.5C292.9 688.1 300.2 686.3 307.6 686.3C315 686.3 322.4 688.3 329.7 688.5C337.1 688.8 344.4 688.2 351.8 687.7C359.1 687.3 366.5 685.8 373.8 685.8C381.2 685.7 388.6 687.3 395.9 687.5C403.3 687.7 414.3 687.1 418 687M191 727.7C194.3 727.3 204.3 725.1 211 725C217.7 724.8 224.5 726.7 231.2 726.7C237.9 726.6 244.6 725.1 251.2 724.6C257.9 724 264.6 723.5 271.3 723.2C278 723 284.7 723.4 291.4 723.2C298.1 723 308.1 722.2 311.5 722M132.4 691.8C136.2 691.8 147.6 691.7 155.2 691.4C162.8 691.1 170.4 690.1 177.9 690.2C185.5 690.2 193.1 691.6 200.7 691.7C208.3 691.8 215.8 690.7 223.4 690.9C231 691 238.6 692.7 246.2 692.8C253.7 692.8 265.1 691.4 268.9 691.1M142.7 686.5C146.4 686.4 157.4 686.2 164.7 685.9C172 685.5 179.3 684.7 186.7 684.2C194 683.8 201.3 683.8 208.6 683.2C215.9 682.6 223.2 681 230.5 680.6C237.8 680.2 245.2 680.8 252.5 680.7C259.9 680.7 267.2 680.5 274.5 680.4C281.9 680.3 289.2 680.3 296.5 680C303.8 679.7 311.1 678.9 318.5 678.7C325.8 678.4 336.8 678.6 340.5 678.6M151 715.5C154.8 715 166.3 713.1 173.9 712.4C181.6 711.8 189.3 712.1 197 711.6C204.6 711 212.3 709.5 219.9 709.2C227.6 709 235.4 710.3 243.1 710C250.8 709.7 258.3 707.7 266 707.2C273.7 706.7 281.4 707.5 289.1 707.1C296.8 706.8 304.4 705.2 312.1 705C319.8 704.8 331.4 705.8 335.2 705.9M140 707.6C143.8 707.2 155.1 705.5 162.7 705.3C170.2 705.2 177.8 706.7 185.3 706.7C192.9 706.7 200.4 705.3 208 705.3C215.5 705.2 223.1 706.6 230.6 706.4C238.1 706.3 245.7 704.5 253.2 704.4C260.8 704.4 268.3 705.8 275.9 706.2C283.4 706.5 294.7 706.6 298.5 706.7M116.9 688.1C120.7 688.3 132.3 689 140 689.1C147.8 689.3 155.5 689.2 163.2 689.1C171 689.1 178.7 688.6 186.4 688.8C194.2 688.9 201.9 689.8 209.6 690C217.3 690.2 225.1 689.8 232.8 690.1C240.5 690.5 248.2 692.1 255.9 692.2C263.7 692.2 271.4 690.6 279.2 690.5C286.9 690.4 294.6 691.5 302.3 691.6C310.1 691.6 321.7 691 325.5 690.8M190.1 733.4C193.9 733.5 205.3 733.9 212.9 733.7C220.5 733.6 228.1 732.6 235.7 732.8C243.3 732.9 250.9 734.6 258.5 734.8C266.1 734.9 273.7 733.5 281.3 733.8C288.9 734.1 296.5 736.2 304 736.6C311.6 737 319.3 736.5 326.9 736.3C334.5 736.1 342.1 735.1 349.7 735.3C357.3 735.5 364.8 737.2 372.4 737.5C380 737.8 387.6 736.8 395.2 737.1C402.8 737.3 414.2 738.6 418 738.9M237 728.5C240.6 728.2 251.4 727.4 258.7 727.1C265.9 726.8 273.1 727.2 280.4 726.8C287.6 726.3 294.8 724.3 302 724.4C309.3 724.5 316.5 727 323.8 727.3C331 727.5 341.8 726.1 345.5 725.8M118 736.1C121.6 735.7 132.4 733.7 139.7 733.6C147 733.4 154.4 735.2 161.6 735.1C168.9 735 176.1 733.2 183.4 732.9C190.7 732.7 198 734.3 205.3 733.7C212.6 733.2 219.7 730.3 227 729.7C234.2 729.2 241.6 730.6 248.9 730.4C256.1 730.2 267 728.9 270.6 728.6M167.9 695C171.7 695.2 183.1 696.3 190.7 696.1C198.3 696 205.8 694.5 213.4 694.2C221 693.9 228.6 694.7 236.1 694.5C243.7 694.3 251.3 693.6 258.9 693.2C266.4 692.8 274 692 281.6 692.2C289.2 692.4 296.8 694.6 304.4 694.6C312 694.5 319.5 692.2 327.1 691.8C334.6 691.4 342.2 692.3 349.8 692.2C357.4 692 365 691.1 372.5 690.8C380.1 690.4 387.7 690 395.3 690C402.8 690 414.2 690.6 418 690.7M143.5 734.5C147.4 734.6 158.8 735.4 166.4 735.3C174 735.1 181.7 733.7 189.3 733.6C196.9 733.5 204.5 734.8 212.2 734.5C219.8 734.2 227.4 732.5 235 732.1C242.6 731.7 250.3 731.8 257.9 731.9C265.5 731.9 273.1 732.4 280.8 732.4C288.4 732.4 296 731.8 303.6 731.9C311.3 732 318.9 733.5 326.5 733.2C334.1 733 341.7 730.6 349.4 730.4C357 730.2 364.6 732 372.3 732.1C379.9 732.2 387.5 730.9 395.1 730.9C402.7 730.9 414.2 732 418 732.2M112.5 734.7C116.2 734.9 127.3 735.3 134.7 735.5C142 735.8 149.4 736.4 156.8 736.2C164.2 736.1 171.7 734.4 179.1 734.7C186.5 735.1 193.8 737.7 201.2 738.2C208.6 738.6 216 737.4 223.4 737.5C230.8 737.6 238.2 738.4 245.6 738.6C253 738.8 260.4 738.7 267.8 738.6C275.2 738.5 282.6 737.6 290 738.1C297.4 738.5 304.7 741 312.1 741.3C319.5 741.7 327 740.3 334.4 740.3C341.8 740.3 352.8 741.1 356.5 741.3M125.3 719C129.1 719 140.3 718.9 147.9 718.8C155.4 718.6 162.9 718.1 170.4 718.1C177.9 718.2 185.4 719.3 192.9 719.1C200.4 718.9 207.9 717 215.4 716.9C222.9 716.9 230.4 718.3 237.9 718.8C245.4 719.4 252.9 720.2 260.4 720.2C267.9 720.3 279.1 719.3 282.9 719.1M103 679.1C107 678.8 118.9 678 126.9 677.8C134.9 677.6 142.9 677.9 150.9 677.8C158.8 677.7 166.8 677.4 174.8 677.2C182.8 677 190.8 677 198.7 676.7C206.7 676.5 214.7 676 222.7 675.7C230.7 675.4 238.6 674.9 246.6 674.8C254.6 674.7 262.6 675 270.6 675.1C278.5 675.2 286.5 675.2 294.5 675.5C302.5 675.8 310.5 676.6 318.5 676.8C326.4 677 334.4 676.6 342.4 676.7C350.4 676.7 362.4 677.1 366.4 677.2M230.4 987.7C234.1 987.3 245.3 985.8 252.7 985.5C260.2 985.1 267.8 986 275.2 985.5C282.7 985 290.1 983.1 297.5 982.6C305 982 312.6 982.8 320 982.4C327.5 982 338.7 980.4 342.4 980M204.8 978.5C208.5 978.7 219.4 979.6 226.8 979.8C234.1 980 241.4 979.5 248.7 979.7C256 979.8 263.3 980.7 270.6 980.9C278 981.1 285.3 981.2 292.6 981C299.9 980.9 307.3 979.5 314.6 979.9C321.9 980.3 329.2 983 336.5 983.4C343.8 983.9 351.1 982.7 358.4 982.8C365.8 983 376.7 984 380.4 984.3M203.4 981.2C207.3 981.5 219.2 982.9 227.2 982.9C235.1 982.9 243.1 981.1 251.1 981.2C259 981.4 266.9 983.8 274.9 984C282.8 984.3 290.8 982.5 298.7 982.8C306.7 983.1 314.6 985.5 322.6 985.7C330.5 985.8 338.5 983.9 346.4 983.7C354.4 983.4 362.3 984.6 370.3 984.4C378.2 984.2 386.2 982.8 394.2 982.6C402.1 982.3 414 982.9 418 982.9M116.7 979.6C120.1 979.9 130.3 981.1 137.2 981.4C144 981.8 150.9 981.4 157.8 981.7C164.6 982.1 171.5 982.9 178.3 983.4C185.1 983.9 192 984.5 198.8 984.7C205.7 985 216 984.8 219.5 984.8M190.8 979.5C194.8 979.6 206.8 979.4 214.8 979.7C222.8 980.1 230.8 981.5 238.8 981.6C246.7 981.7 254.8 980.1 262.7 980.5C270.7 980.8 278.7 983.2 286.7 983.6C294.7 984 302.7 982.9 310.7 982.6C318.7 982.4 326.7 982.4 334.7 982.3C342.7 982.2 350.6 982.4 358.6 982.1C366.6 981.8 378.6 980.8 382.6 980.6M133.5 989C137.2 989.2 148.4 990.1 155.9 990.2C163.4 990.2 170.9 989.1 178.4 989.4C185.9 989.6 193.4 991 200.8 991.6C208.3 992.1 215.8 992.5 223.3 992.6C230.8 992.7 238.3 992 245.8 992.2C253.3 992.5 260.7 993.9 268.2 994.1C275.7 994.2 283.2 993.4 290.7 992.9C298.2 992.5 305.7 991.2 313.2 991.3C320.7 991.4 328.1 993.3 335.6 993.6C343.1 993.9 350.6 993.6 358.1 993.1C365.6 992.7 373.1 991.2 380.6 990.9C388.1 990.5 399.3 991 403 991M148 981.7C151.6 982 162.3 983.4 169.4 983.3C176.6 983.2 183.7 981.1 190.9 981.2C198 981.2 205.1 983.3 212.3 983.7C219.4 984.1 226.6 983.6 233.7 983.5C240.9 983.4 248 983.4 255.1 983.3C262.3 983.2 269.4 983.2 276.6 982.9C283.7 982.6 290.9 981.7 298 981.7C305.2 981.6 315.9 982.5 319.4 982.7M248.8 980.3C252.4 980.2 262.9 979.4 270 979.6C277 979.8 284.2 981.7 291.2 981.5C298.3 981.4 305.2 979.5 312.3 978.8C319.3 978.2 326.4 977.6 333.4 977.6C340.5 977.7 347.6 979.2 354.6 979.1C361.7 979 368.7 977.5 375.7 977C382.8 976.5 389.8 976.5 396.9 976.2C403.9 976 414.5 975.5 418 975.4M241 988.1C244.7 988.2 256 989 263.5 988.8C271.1 988.6 278.6 987.1 286.1 987.2C293.7 987.2 301.2 988.7 308.7 989.2C316.2 989.6 323.7 989.9 331.3 990C338.8 990 346.3 989.3 353.8 989.6C361.4 989.8 368.9 991.1 376.4 991.4C383.9 991.6 395.2 991 399 991M189.8 981.6C193.7 981.7 205.4 981.7 213.1 982C220.9 982.3 228.7 983.7 236.4 983.6C244.2 983.6 252.1 981.4 259.9 981.6C267.7 981.9 275.4 984.4 283.1 985C290.9 985.6 298.7 984.7 306.5 985.2C314.3 985.7 322 987.1 329.7 987.7C337.5 988.3 349.2 988.7 353.1 988.8M234.2 990C237.8 989.8 248.5 989 255.6 988.9C262.8 988.7 269.9 989.4 277.1 989.3C284.2 989.2 291.4 988.4 298.5 988.1C305.7 987.8 312.8 987.2 319.9 987.7C327.1 988.1 334.2 990.6 341.4 990.8C348.5 990.9 355.7 988.9 362.8 988.7C370 988.5 377.1 989.3 384.2 989.7C391.4 990.1 402.1 991 405.7 991.2M166.4 987.6C170 987.3 180.9 986 188.1 985.9C195.4 985.8 202.7 987 210 987C217.2 987 224.5 985.7 231.7 985.7C239 985.7 246.3 987.4 253.6 986.9C260.8 986.5 268 983.5 275.2 983.1C282.5 982.6 289.8 984.3 297.1 984.1C304.3 983.9 311.5 982.1 318.8 981.8C326.1 981.5 333.4 982.9 340.6 982.5C347.9 982.1 358.7 980 362.3 979.5M132 980.1C136 980.1 147.9 980 155.8 980.3C163.8 980.7 171.7 982.2 179.7 982.2C187.6 982.2 195.6 980.5 203.5 980.2C211.5 980 219.4 980.4 227.3 980.6C235.3 980.9 243.2 981.8 251.2 981.8C259.1 981.7 267.1 980.1 275 980.2C283 980.3 290.9 982.2 298.9 982.4C306.8 982.5 314.8 981.8 322.7 981.2C330.6 980.7 338.6 979.2 346.5 979C354.4 978.7 362.4 979.8 370.3 979.6C378.3 979.4 386.2 977.9 394.2 977.6C402.1 977.2 414 977.5 418 977.4M90.4 979.2C94.3 979.2 105.9 978.7 113.6 979C121.3 979.4 129 981 136.7 981C144.5 981.1 152.3 978.9 160 979.1C167.7 979.3 175.4 981.5 183.1 982.3C190.7 983.1 198.5 983.4 206.2 983.9C213.9 984.4 225.4 985.2 229.3 985.4M87.7 985.5C91.3 985.7 101.9 986.1 108.9 986.4C116 986.7 123.1 987.7 130.2 987.5C137.2 987.4 144.3 985.2 151.4 985.3C158.4 985.4 165.5 988 172.6 988.1C179.6 988.3 186.7 986.4 193.8 986.2C200.8 986 207.9 987 215 986.8C222 986.6 232.6 985.1 236.2 984.8M152.3 977.4C156 977.5 167 977.9 174.4 978C181.8 978.1 189.2 978.2 196.6 978.1C204 978.1 211.3 977.5 218.7 977.7C226.1 978 233.5 979.6 240.9 979.5C248.3 979.4 255.6 977.8 263 977.2C270.4 976.7 277.8 975.9 285.2 976.1C292.5 976.3 300 978.5 307.3 978.5C314.7 978.6 322.1 977.2 329.5 976.6C336.8 976.1 344.2 975.5 351.6 975.2C359 975 366.4 975.6 373.7 975.3C381.1 975 388.5 973.7 395.9 973.3C403.2 973 414.3 973.3 418 973.3M203.1 934.3C206.8 934.6 218.1 935.9 225.6 936.1C233.1 936.4 240.6 935.4 248.2 935.7C255.7 935.9 263.2 937.7 270.7 937.7C278.2 937.6 285.7 935.6 293.3 935.5C300.8 935.3 308.3 936.5 315.8 936.9C323.3 937.3 330.8 937.8 338.3 937.6C345.8 937.5 357.1 936.4 360.9 936.1M195.1 972.9C198.8 973 209.9 973.6 217.3 973.6C224.8 973.6 232.2 973.3 239.7 973C247.1 972.7 254.5 971.4 262 971.7C269.4 971.9 276.8 974.3 284.2 974.5C291.7 974.8 299.1 973.1 306.5 973.1C314 973.2 321.4 974.7 328.8 974.8C336.3 974.8 343.7 973.7 351.1 973.6C358.6 973.4 366 973.3 373.4 973.7C380.9 974.1 388.3 975.8 395.7 976.1C403.1 976.4 414.3 975.5 418 975.4M101.6 937.9C105.3 937.9 116.4 937.2 123.8 937.7C131.2 938.2 138.5 940.8 145.9 941C153.3 941.3 160.8 939.3 168.2 939.3C175.5 939.4 182.9 941.1 190.3 941.2C197.7 941.2 205.1 939.2 212.5 939.4C219.9 939.6 227.3 942.2 234.6 942.4C242 942.7 249.5 941.2 256.9 941C264.3 940.9 275.3 941.5 279 941.6M103.6 954.3C107.3 954.2 118.4 953.6 125.8 953.9C133.1 954.2 140.5 955.9 147.8 956.3C155.2 956.8 162.6 956.1 170 956.6C177.4 957.1 184.7 959.2 192.1 959.4C199.4 959.7 206.9 957.9 214.3 958.1C221.7 958.3 232.7 960.3 236.4 960.7M175.2 972C178.8 972.1 189.9 972.6 197.2 972.5C204.6 972.4 212 971.6 219.3 971.3C226.7 971.1 234.1 970.6 241.4 970.9C248.8 971.1 256.1 972.7 263.5 972.9C270.8 973 278.2 971.5 285.6 971.6C292.9 971.7 300.3 973.5 307.6 973.4C315 973.3 322.4 970.8 329.7 970.9C337.1 971.1 344.4 973.7 351.8 974.2C359.1 974.7 366.5 973.8 373.9 974C381.2 974.2 388.6 975.1 395.9 975.3C403.3 975.5 414.3 975.5 418 975.5M157.4 987.2C161.3 986.8 173.1 985.1 181 984.9C188.9 984.7 196.9 986.1 204.8 985.8C212.7 985.5 220.5 983.7 228.4 983.1C236.3 982.5 244.2 982.6 252.1 982.3C260 982 267.9 981.7 275.8 981.1C283.7 980.4 291.5 978.5 299.4 978.3C307.3 978.2 315.3 980.3 323.2 980.3C331.1 980.4 339 978.7 346.9 978.5C354.8 978.2 362.7 979 370.6 978.9C378.5 978.9 386.4 978.6 394.3 978.3C402.2 977.9 414 977.2 418 976.9M243.3 979.7C246.9 979.2 257.8 977.3 265.1 977C272.4 976.8 279.7 977.8 286.9 978C294.2 978.1 301.5 978.4 308.7 978C316 977.5 323.2 975.7 330.5 975.4C337.8 975.1 345.1 976.3 352.4 976.3C359.6 976.3 366.9 975.4 374.2 975.3C381.4 975.2 388.7 975.4 396 975.6C403.3 975.8 414.2 976.2 417.8 976.4M192.9 956.9C196.4 957.1 207.1 957.9 214.2 958.1C221.2 958.3 228.3 957.8 235.4 958.1C242.5 958.4 249.6 960 256.7 959.9C263.8 959.9 270.9 957.7 278 957.7C285.1 957.6 292.2 959.4 299.3 959.7C306.3 960 313.4 959.3 320.5 959.4C327.6 959.4 338.3 960 341.8 960.1M104.9 965.7C108.7 965.7 120 965.5 127.6 965.8C135.1 966 142.7 967.5 150.2 967.4C157.8 967.4 165.3 965.8 172.8 965.7C180.4 965.6 187.9 967.2 195.5 967C203 966.9 210.6 964.7 218.1 964.8C225.7 965 233.2 967.8 240.8 968C248.3 968.2 255.8 966.1 263.4 966C270.9 965.9 278.5 967.6 286 967.3C293.6 967.1 301.1 964.9 308.6 964.7C316.2 964.4 323.7 965.6 331.3 965.7C338.8 965.8 346.4 965.4 353.9 965.4C361.5 965.3 369 965.5 376.5 965.3C384.1 965.2 395.4 964.7 399.2 964.6M185.7 973.1C189.6 973.2 201.2 973.5 208.9 973.8C216.7 974.1 224.4 974.7 232.2 974.9C239.9 975.1 247.6 975.3 255.4 975.3C263.1 975.3 270.9 974.7 278.6 974.7C286.4 974.8 294.1 975.4 301.9 975.6C309.6 975.8 317.4 975.5 325.1 975.9C332.8 976.3 340.5 977.9 348.3 978.1C356 978.4 363.8 977.4 371.5 977.5C379.3 977.5 387 978.4 394.8 978.5C402.5 978.6 414.1 978.2 418 978.1M240.6 959.8C244.4 959.9 255.6 960.2 263.1 960.1C270.6 959.9 278.1 958.9 285.6 959C293.1 959.1 300.6 961 308.1 960.7C315.6 960.4 323.1 957.6 330.6 957.2C338.1 956.9 345.6 958.4 353.1 958.5C360.6 958.7 371.8 958.2 375.6 958.1M152.7 950.2C156.4 950.1 167.5 950.3 174.9 949.7C182.2 949.1 189.5 947.1 196.9 946.6C204.2 946 211.6 946.8 219 946.4C226.4 946 233.7 944.4 241.1 944C248.4 943.6 255.8 943.9 263.2 943.9C270.6 944 278 945 285.3 944.5C292.7 943.9 300 941.1 307.3 940.7C314.7 940.2 322.1 941.7 329.5 941.8C336.9 941.8 344.2 941.2 351.6 941C359 940.9 366.4 940.9 373.8 940.9C381.1 941 388.5 941.6 395.9 941.4C403.3 941.3 414.3 940.1 418 939.8M241.7 942.6C245.3 942.4 256.3 941.4 263.7 941.5C271 941.7 278.4 943.3 285.8 943.6C293.1 943.9 300.5 943.4 307.8 943.2C315.2 942.9 322.5 942 329.8 941.9C337.2 941.8 344.6 942.8 351.9 942.5C359.2 942.3 366.6 940.9 373.9 940.6C381.3 940.2 388.6 940.2 396 940.2C403.3 940.1 414.3 940.2 418 940.2M127.6 940.2C131.6 940 143.6 939.3 151.5 939.3C159.5 939.3 167.5 940.3 175.5 940.1C183.5 940 191.4 938.4 199.4 938.5C207.4 938.6 215.4 940.6 223.4 940.5C231.3 940.4 239.3 938.5 247.3 938C255.2 937.5 263.2 937.8 271.2 937.7C279.2 937.6 287.2 937.8 295.1 937.5C303.1 937.2 311.1 935.8 319.1 936C327 936.1 335 938.3 343 938.3C351 938.4 359 936.7 366.9 936.5C374.9 936.3 382.9 937.2 390.9 937.1C398.9 937.1 410.8 936.3 414.8 936.2M98.2 979.3C102 979.4 113.5 980 121.1 979.8C128.7 979.6 136.3 978 143.9 978C151.5 978.1 159.2 979.9 166.8 980C174.4 980.1 182 978.6 189.7 978.7C197.3 978.7 204.9 980.2 212.5 980.3C220.2 980.4 227.8 980 235.4 979.4C243 978.9 250.6 977.2 258.2 977C265.8 976.8 273.5 978.3 281.1 978.1C288.7 978 296.3 976.5 303.9 976.3C311.5 976 323 976.5 326.8 976.6M177.2 942C180.8 942 191.8 942.2 199.1 941.9C206.4 941.6 213.7 940.4 221 940.4C228.3 940.3 235.6 941.7 242.9 941.8C250.2 941.9 257.5 941.3 264.8 941.1C272.1 940.9 279.4 940.6 286.7 940.7C294 940.7 301.3 941.8 308.6 941.4C315.9 941 323.1 938.9 330.4 938.4C337.7 937.9 345 938.1 352.3 938.3C359.6 938.5 367 939.8 374.3 939.6C381.6 939.3 388.8 937.4 396.1 936.7C403.4 936.1 414.3 936 418 935.9M105.1 687.2L95.7 706.1L89.6 705L101.7 700.9M96.4 695.8L98.1 697.5L88.7 683.2L94.6 691.4L92.7 688.7L99.1 698.9L92.5 710.9M93.3 692.3L96.9 714.5L97.8 709.6L98.5 700.1L94.8 707.2L92.2 692M101.9 697.5L94.6 688.6L93.3 707.5L98.9 709.2M90.6 707.8L94.6 703.3L96.4 701.1L90.3 697.1L92.8 698.2L101.6 712.3L96.7 696.8M95.8 709.3L96.5 707.8L96.2 712L92.3 704.7L89.3 690.6L94.3 712.6L101.2 699.1M93 700.8L97.7 693.3L91.4 702.4L98.8 680.4M93 696.7L96.5 695.4L92.1 705.3L93.9 683.3M103.3 696.8L99.7 687.4L96 701.2L97.6 708.4L88.5 699.9L98 700.6M99.5 697.5L98.1 685.2L90.3 674L99.6 702.5M97.6 675.5L89.1 696.5L86.5 698.3L93 697.6L95.1 697.2L101.7 694L97.2 676.8M95.4 693L94.2 698.3L101.9 679.4L95.8 696.7L91.7 708L92.9 697L95.9 689.8M98 701L92.2 687.8L93.5 706.7L95.2 711.4M98 700.3L89.5 701.8L86.5 702.9L101.9 709.9L101.7 719.9L90.5 696.4L88.2 685.1M95.4 978.4L101.3 985.6L95.2 970.1L99.4 983.1M91.2 981.3L101.3 974.7L96.7 969.4L92.8 980.7M95.8 980.4L99.9 975.8L88.7 978.5L105.2 970.1L90.6 975.6M92.7 980.6L95.7 974.1L92.4 981.9L91.3 978.7M94.7 980.2L93.7 983.7L98.5 982.2L91.9 986.3L92.4 971L100.6 979L101.8 976.2M95.5 973.2L94 976.7L94.2 973.7L96.3 990.9L92.7 969L98.1 986.2L99 979.1M87.7 977.1L98.1 978.7L96 982L97.5 973M92.6 980.4L95.1 976.1L105.4 977.1L93.9 981.9L99.7 970L94.9 976.7M102.7 980.1L85.2 974.3L95.3 977.2L103.7 974.6L95.5 977.7L95.6 972.8L89.9 965M97 979.8L94.9 975.5L96.3 970.5L97.7 972.9M412.4 679.1L400.2 700.9L404.2 682.9L399.9 697.5M409 690.1L400.7 695.8L407.4 689.4L410 687.2M415.2 683.6L408.4 700.9L400.6 692.2L407.8 685.2M412.5 698.1L409.3 698.9L407.4 697.3L408.4 696.8L400.9 688.1L401 697.1L408.6 687.3M392.1 694.1L402.4 700.2L406.4 696.6L405.2 684.2L405.9 694.2M400.3 698.6L399.7 695.4L393.3 686L410.7 688.4L402.4 692.4L406 689.2M403.1 692L410.7 691.8L409.1 697.9L400.6 692.4L410.6 691L404.8 696.3M406.7 695.9L399.3 690.2L412.2 699L396.7 685.6L412.8 687.8M412.8 698.7L408.4 684.3L412.9 677.1L409.6 695.6L410.9 703.1L404 687.7M405.8 694.4L414.7 693.9L408.7 690.8L398.9 699.1L403.5 691.1M398.2 689.3L398.8 690.1L413.6 687L405.9 694M402.4 685.9L398.4 693.1L404 695.5L403.5 688.3L404.5 679.6L411.6 695.5M405.9 980.3L415.3 975.3L407.3 984.1L404.7 982M408.6 983.6L411.4 987.6L416.7 978L410.4 977.3M403.5 979.5L402.3 979.3L403.3 980L404.8 975.5L404.4 980.2L400.9 980.5L411.1 979M408.5 978L406.6 983.5L408.9 984.6L407.6 978.1L399.6 983.5M409.8 965.5L398.3 975.8L405 982.5L406.3 977.4L407.6 978.9L405 983.6L410.1 979.6M408.9 974L400.8 979.3L406.3 971.8L407.5 980L409 968.2M403 982.2L405.6 980.6L406.4 976.5L401.8 977.2L402.9 985.8M400.6 971.5L403.7 981.5L407.1 984.8L407.6 989.9L408.4 986.2L401.9 976.1L401.3 977.4" fill="none" stroke="#0a0a0a" stroke-width="2.3" stroke-linecap="round" stroke-linejoin="round"/>
<path d="M563 980.3C562.8 976.9 560.1 966.5 561.6 959.6C563.1 952.7 570.4 945.9 572.1 939C573.7 932.2 570 925.2 571.4 918.3C572.7 911.4 580 904.6 580.3 897.7C580.6 890.8 574 883.8 573 876.8C571.9 869.9 574.2 863 573.8 856.1C573.3 849.2 570.8 842.2 570.3 835.3C569.8 828.3 571.3 821.5 570.6 814.5C570 807.6 567 797.2 566.3 793.7M584.1 693.9C587.3 695.3 597 699 603.2 702.3C609.3 705.7 615.3 709.3 621 713.9C626.7 718.4 631.3 725.7 637.3 729.4C643.3 733.1 651 732.5 657 736.2C663 739.9 666.9 749.1 673.3 751.7C679.7 754.3 689.1 749.5 695.7 751.6C702.3 753.8 707 760.9 713 764.6C719 768.3 725.2 771.5 731.7 773.9C738.2 776.4 745.5 776.7 751.9 779.3C758.4 781.9 763.3 788.4 770.4 789.4C777.4 790.4 787.3 784.1 794.3 785.3C801.3 786.5 805.8 794.1 812.4 796.3C818.9 798.6 826.8 797.6 833.7 798.9C840.6 800.3 847.1 802.9 854 804.4C860.8 805.8 871.5 807.1 875 807.7M761.7 964.1C760.4 960.6 756.6 950.4 754.2 943.6C751.8 936.7 750.1 929.6 747.2 923C744.2 916.3 739.2 910.3 736.5 903.5C733.8 896.8 734.5 888.9 730.9 882.4C727.3 876 717.5 871.5 714.9 864.7C712.2 857.9 717.2 848.7 715.1 841.8C713.1 834.8 704.2 830 702.7 822.9C701.2 815.8 707.3 806.2 706 799C704.6 791.8 697 786.6 694.6 779.8C692.2 772.9 693.4 764.9 691.6 757.9C689.7 750.8 685.7 744.5 683.6 737.6C681.5 730.6 680.1 723.4 679.1 716.2C678 708.9 677.7 697.6 677.4 693.8M616.5 687.3C616.1 690.9 614 701.6 614.4 709C614.8 716.5 617.9 724.4 619 731.9C620 739.4 620.3 746.9 620.5 754.3C620.7 761.6 619.5 768.8 620.1 776.3C620.8 783.7 625.7 792 624.2 799.1C622.7 806.1 613.3 811.9 611.2 818.8C609 825.8 613.6 834 611.2 840.9C608.9 847.9 599.9 853.7 597.1 860.5C594.2 867.4 596.2 875.1 594.3 882.1C592.3 889.1 588.8 895.9 585.4 902.7C582 909.4 576 919.4 574.1 922.8M877.8 700.9C876.5 704.1 871.5 713.4 870.2 720.6C868.8 727.8 871.6 737 869.8 744C868 750.9 862.8 756.2 859.3 762.3C855.7 768.4 850.7 773.7 848.6 780.5C846.5 787.4 849.1 796.5 846.8 803.2C844.4 809.9 837.2 814.1 834.4 820.6C831.6 827 832.2 835.2 830 842C827.9 848.8 826 855.7 821.3 861.2C816.6 866.7 806.2 869.3 802 875.1C797.8 880.8 799.2 889.4 796.1 895.7C793.1 902.1 788 907.4 783.8 913.1C779.5 918.8 774.3 924.1 770.6 930.1C766.9 936.1 765.9 943.4 761.5 949.1C757.1 954.7 747 961.5 744.1 964M738.5 981.4C741.1 978.6 750.3 971.1 754.1 964.9C757.8 958.7 757.3 950.5 761 944.3C764.8 938.1 772.3 933.7 776.4 927.7C780.6 921.7 781.6 914.3 785.9 908.3C790.2 902.4 797.8 898.1 802 892.1C806.2 886.1 808.1 879.1 811.1 872.5C814.1 866 817.3 859.5 819.9 852.8C822.5 846.1 824.5 839.1 826.7 832.2C829 825.3 830.3 817.9 833.3 811.4C836.3 804.9 841.9 799.6 844.8 793C847.6 786.3 847.7 778.5 850.3 771.7C852.8 764.9 858.1 759.5 859.9 752.4C861.6 745.2 859.1 736.1 860.6 728.8C862 721.5 867.1 712 868.5 708.7M611.4 701.3C609 700.4 602.2 695.2 597 696C591.8 696.8 585.2 706.7 580.2 705.9C575.3 705.1 569.5 693.4 567.3 690.9M804.8 683.2C803.2 686.4 797.8 695.7 795.1 702.5C792.3 709.4 791.6 717.8 788.5 724.4C785.4 731 779.2 735 776.6 742C773.9 748.9 775.8 759.5 772.7 766C769.5 772.5 762.1 775.6 757.5 781C753 786.4 748.7 792 745.3 798.3C741.9 804.7 741.2 813.1 737.2 819C733.2 824.8 724.9 827.2 721.4 833.4C717.8 839.6 719.8 850.3 715.8 856.1C711.8 862 703.2 864.1 697.4 868.5C691.6 872.8 685.6 877.1 680.8 882.3C676 887.5 674 894.9 668.6 899.6C663.3 904.4 653.8 905.8 648.9 910.9C644 916 644.2 925.3 639.3 930.3C634.3 935.4 625.8 937.5 619.2 941.3C612.7 945.1 605.8 948.6 600 953C594.2 957.4 590.1 963.2 584.3 967.5C578.4 971.8 568.1 977.1 564.8 979M558.9 742.2C562.1 743.9 571.1 750.8 578 752.5C584.9 754.2 593.5 750.2 600.3 752.2C607 754.3 612 762.3 618.7 764.6C625.4 766.9 633.9 763.4 640.4 766.3C647 769.2 651.3 779.4 657.9 782C664.5 784.5 673.3 779.9 680.2 781.6C687.1 783.2 692.4 790.2 699.4 791.7C706.3 793.2 715 788.9 721.9 790.6C728.8 792.4 734 799.5 740.6 802.3C747.1 805.1 754.5 805.1 761.2 807.5C767.9 809.8 774 814.3 780.8 816.2C787.6 818.2 795 818.2 802.1 819.2C809.2 820.2 816.4 820.7 823.3 822.4C830.2 824.1 836.7 827.2 843.5 829.1C850.3 831.1 857.4 832.2 864.1 834.4C870.9 836.5 880.7 840.7 884.1 841.9M810.1 692.2C806.7 693.3 796.6 696.5 789.8 698.6C783.1 700.7 776 702.1 769.5 704.9C763.1 707.7 758.1 713.6 751.2 715.4C744.3 717.2 735.1 713.9 728.1 715.5C721.1 717.1 715 720.6 709.2 724.8C703.3 728.9 699.4 737.3 693.1 740.4C686.8 743.5 678.1 741.2 671.4 743.5C664.7 745.8 659.2 750.6 653.1 754C646.9 757.5 641.1 761.8 634.5 764.2C627.9 766.5 619.4 764.9 613.3 768.4C607.2 771.9 603.3 780.3 597.7 785.1C592.2 789.8 586.2 793.7 580 796.8C573.7 800 563.3 802.7 560 803.9M880.5 806.8C878.2 810.2 871.7 821.7 866.5 827.3C861.3 833 855.1 836.3 849.3 840.6C843.5 844.8 837.2 848 831.7 853C826.2 858 822.3 866.5 816.5 870.8C810.7 875.1 802.7 874.3 797 878.8C791.3 883.3 787.7 892.5 782.2 897.7C776.8 902.8 771.1 907.3 764.4 909.5C757.7 911.8 748.7 908.9 742.1 911.3C735.5 913.7 731.3 921.5 724.7 924C718.1 926.5 709.6 924.7 702.6 926.3C695.6 927.8 689.2 930.8 682.8 933.6C676.3 936.3 671.2 942.2 663.8 942.9C656.5 943.6 646.3 938 638.6 937.9C630.8 937.7 624.6 941 617.3 941.9C610 942.8 602.3 942.8 594.7 943C587.1 943.3 575.7 943.4 571.8 943.4M573.8 725.7C577.5 725.1 588.9 722.7 596.4 722C603.8 721.2 610.9 722.3 618.4 721.2C625.9 720.2 634.1 715.4 641.4 715.7C648.6 715.9 654.7 722.5 662 722.7C669.3 722.9 677.5 717.8 685 716.7C692.5 715.7 699.9 715.3 707 716.3C714.2 717.3 720.6 721.7 727.8 722.5C735 723.3 743.1 718.7 750 721.1C756.9 723.5 762.4 733.4 769 736.8C775.7 740.3 783.1 740.1 790 742C797 743.8 804.1 744.8 810.9 748C817.6 751.1 823.7 757.8 830.4 760.8C837.2 763.7 844.8 762.4 851.5 765.8C858.1 769.2 867.4 778.7 870.6 781.2M668.5 988.5C665.4 987.9 656.3 985 650.1 985C643.8 984.9 636.8 989.7 630.7 988.2C624.6 986.6 619.7 976.5 613.6 975.7C607.4 974.9 599.9 983.5 593.6 983.2C587.4 982.9 579 975.3 576.1 973.7M563.9 807.3C567.3 805.9 577.1 801 584.3 798.9C591.5 796.8 600 797.1 607.1 794.8C614.1 792.5 620.5 788.9 626.7 785.1C633 781.2 638 775.2 644.5 772C651.1 768.7 659.9 769.5 666.1 765.7C672.4 761.9 675.6 752.6 682.1 749.3C688.6 745.9 698.9 749.4 705.2 745.8C711.6 742.1 714.4 732.2 720.1 727.3C725.7 722.5 733.3 721.1 739.1 716.5C744.8 711.8 752.1 702.2 754.6 699.4M847.9 696.6C845.7 699.5 838.2 707.8 834.3 713.9C830.4 720 827.8 726.6 824.7 733.1C821.7 739.5 820 746.6 815.9 752.6C811.8 758.5 803.9 762.8 800.1 768.9C796.3 774.9 797.1 783.2 792.9 789.1C788.7 795.1 778 798 775 804.4C772 810.9 777 821.1 774.8 827.9C772.6 834.8 764.2 838.8 761.6 845.4C759 852.1 761.5 861.1 759 867.8C756.5 874.5 750 879.4 746.6 885.7C743.2 891.9 740.6 898.6 738.5 905.5C736.4 912.4 736 920.1 734 927C732 933.9 728.2 940 726.4 947.1C724.7 954.2 724 965.6 723.5 969.3M645.3 964.9C646.7 961.3 651.9 950.1 653.5 942.9C655.1 935.7 653.9 928.9 654.9 921.8C656 914.6 658.7 907.3 660 900.1C661.3 893 663.5 885.7 662.8 878.8C662 871.9 655.2 865.8 655.4 858.8C655.6 851.8 663.2 843.8 664.1 836.7C665 829.6 662.3 822.9 660.9 816.1C659.5 809.3 657 802.7 655.8 795.8C654.6 789 656.7 781.7 653.9 775.1C651 768.5 641.5 762.7 638.9 756.1C636.2 749.5 639.5 742 638.2 735.2C636.9 728.4 634.3 721.7 631 715.2C627.6 708.6 621.4 702.5 617.9 695.9C614.5 689.4 611.6 679.3 610.3 676M684 966.5C680.6 967.5 670.5 970.5 663.7 972.1C656.9 973.7 650 974.5 643.2 976C636.3 977.4 629.8 980.8 622.8 980.8C615.7 980.7 607.8 974.9 600.9 975.9C594 976.9 588.2 985.3 581.4 986.7C574.5 988 563.5 984.5 559.9 984M562.4 943.1C566.2 942 578.6 939.6 585.3 936.5C592.1 933.3 595.8 927.1 602.9 924.3C610 921.5 620.1 921.9 627.8 919.7C635.5 917.6 642.8 915 649.2 911.5C655.5 907.9 659.4 901.7 665.8 898.2C672.2 894.7 682 894.8 687.7 890.5C693.3 886.2 694 876.7 699.7 872.4C705.3 868.1 714.8 867.9 721.3 864.5C727.9 861.1 733.8 857.1 738.7 852C743.6 846.9 745.8 839 750.6 833.8C755.5 828.7 763.8 827.2 767.7 821C771.6 814.9 770.3 803.3 774 796.9C777.7 790.5 785 788 789.7 782.7C794.4 777.4 798.7 771.7 802.2 765.1C805.7 758.5 807.1 749.7 810.5 743.1C814 736.5 820.2 732.8 823.1 725.6C826 718.4 825.2 707.3 827.9 699.9C830.6 692.5 837.3 684.2 839.2 681M676.7 984.4C678.7 981.3 683.2 971.5 688.5 966.2C693.8 960.8 703.7 957.8 708.4 952.1C713 946.4 712.1 937.9 716.3 931.9C720.4 925.9 729.4 922.5 733.2 916.3C737.1 910.2 736 901.6 739.4 895.2C742.8 888.9 749.1 884 753.7 878.3C758.4 872.6 763.4 867.1 767.2 861C770.9 854.8 772.3 847.4 776.2 841.3C780.1 835.2 788.1 831.3 790.5 824.4C792.8 817.5 788.1 807 790.3 800C792.5 793.1 801.2 789.5 803.8 782.7C806.4 775.9 803.2 766.2 805.8 759.4C808.3 752.6 815.9 748.4 818.9 741.9C822 735.4 822.3 727.5 824 720.3C825.8 713 827.5 705.8 829.3 698.7C831.2 691.6 834.2 681 835.2 677.4M570.8 677.1C573.8 679.3 582.1 686.5 588.6 690.6C595.1 694.6 603.4 697.2 609.5 701.5C615.7 705.8 620.2 711.5 625.6 716.4C631 721.4 635.7 726.9 641.9 731.2C648.1 735.4 657 737.5 662.7 742.1C668.5 746.7 670.5 754.5 676.6 758.9C682.7 763.3 694.3 763.1 699.3 768.3C704.4 773.5 702.7 784.3 707 790.2C711.2 796 720.6 797.7 724.7 803.7C728.9 809.7 728.1 819.6 731.9 825.9C735.6 832.2 742.6 835.9 747.2 841.5C751.8 847 756 853 759.6 859.4C763.2 865.8 765.5 873.3 769.1 879.8C772.6 886.2 778.5 890.8 781.1 898C783.6 905.3 781.8 916.2 784.4 923.4C787 930.7 793.5 934.7 796.6 941.5C799.7 948.3 802 960.5 803.1 964.3M829.6 972.8C826 972.6 815 972.2 807.7 971.8C800.5 971.3 792.8 971.9 786.1 970C779.5 968.1 774.9 961.3 767.9 960.4C760.8 959.5 751 965 743.7 964.6C736.4 964.3 730.5 960.6 724.1 958.3C717.6 955.9 711.5 952.7 705 950.6C698.5 948.4 690.7 949.1 684.8 945.5C678.9 942 675.6 932.2 669.4 929.2C663.2 926.3 654.2 929.8 647.7 927.6C641.2 925.4 635.8 920.7 630.3 916C624.9 911.3 620.7 903.7 615.1 899.2C609.5 894.8 602.4 894 597 889.3C591.5 884.7 587.7 876 582.3 871.3C576.9 866.5 567.4 862.6 564.4 860.8M562 912.6C565.7 912.7 577.1 913.9 584.3 913C591.6 912.2 598.3 907.9 605.6 907.4C612.9 906.9 621 910.6 628.3 909.9C635.6 909.2 641.9 903 649.3 903.1C656.8 903.2 665.5 910.9 672.9 910.5C680.3 910.2 686.2 902 693.5 901.1C700.7 900.1 709.3 906.5 716.4 904.7C723.5 902.9 729.1 892.8 736.1 890.5C743.1 888.2 751.3 892.5 758.4 890.9C765.6 889.3 771.8 882.7 778.9 881C786 879.3 793.9 881.9 801.1 880.7C808.3 879.4 815.1 876 822.1 873.6C829.1 871.3 836.2 869.1 843.1 866.6C850.1 864.2 860.6 860.3 864 859M852.1 961.8C853.8 963.2 858.7 967.8 862.3 970.3C866 972.8 870 974.4 873.8 976.7C877.6 978.9 883.1 982.5 884.9 983.6M576.4 902.8C579.8 901.8 589.8 898.9 596.5 896.7C603.1 894.4 609.7 891.6 616.3 889.4C623 887.3 629.8 885.8 636.5 883.9C643.2 882.1 649.7 878.8 656.6 878.1C663.6 877.4 671.4 881.1 678.1 879.6C684.9 878 690.6 870.7 697.3 868.9C704 867 711.8 870.6 718.5 868.4C725.1 866.2 730.4 856.8 737.3 855.8C744.2 854.8 752.8 862.8 759.8 862.4C766.8 862 772.4 854.4 779.3 853.5C786.2 852.7 794.5 858.6 801.3 857.3C808.1 856 813.5 847.1 820.3 845.5C827 843.9 834.9 848 841.9 847.6C848.9 847.2 855.3 843.8 862.3 843.1C869.2 842.5 880.1 843.6 883.6 843.7M864 788.5C861 786.6 851.6 781.6 845.7 777.3C839.8 773.1 834.8 766.4 828.6 763C822.4 759.6 814.5 760.8 808.5 757C802.4 753.1 798.3 744.1 792.3 740C786.3 736 778.7 736.4 772.7 732.5C766.7 728.6 762.7 719.2 756.2 716.5C749.7 713.9 740.6 718.4 733.8 716.6C727.1 714.7 722.4 707.2 715.6 705.3C708.9 703.3 700 707.4 693.4 705C686.8 702.6 682.9 693 676.2 690.9C669.5 688.8 660.4 693.5 653.3 692.5C646.2 691.5 641 685.5 633.7 685.1C626.3 684.8 616.8 690.7 609.5 690.3C602.2 689.9 596.8 684 589.8 682.9C582.8 681.7 571.1 683.2 567.4 683.3M827 679.5C823.1 679.7 810.9 679 803.9 681C797 682.9 791.9 688.5 785.3 691.2C778.7 693.8 771.5 695.3 764.4 696.9C757.2 698.4 749.1 698 742.5 700.6C735.8 703.1 731.2 709.7 724.5 712.2C717.8 714.6 709.5 713.8 702.3 715.2C695.1 716.6 687.1 716.5 681.2 720.6C675.3 724.6 672.4 734.6 666.8 739.3C661.3 744.1 654.5 746.2 648 749.2C641.6 752.1 634.1 753 628.2 757C622.3 761 618.3 768.9 612.6 773.3C606.9 777.7 599.8 779.5 593.8 783.3C587.8 787.1 581.9 791.1 576.6 796.3C571.2 801.4 564.3 811.3 561.8 814.3M557.5 691.1C560.5 693.6 569 702 575.2 706.1C581.4 710.1 588.4 711.9 594.8 715.5C601.1 719.1 607.1 723.9 613.4 727.5C619.8 731.1 626.1 735 632.9 737.2C639.8 739.4 648.1 737.3 654.6 740.5C661.1 743.7 665.4 753.2 672 756.3C678.5 759.4 687.3 755.8 693.9 758.8C700.4 761.9 704.6 772 711.3 774.7C718 777.3 726.8 773.7 734.1 774.6C741.4 775.4 748 778.3 755.1 779.8C762.1 781.3 769.2 782.9 776.5 783.7C783.8 784.6 791.9 783.2 798.8 785.1C805.8 787.1 811 794 818.1 795.4C825.2 796.8 834.1 793.1 841.5 793.6C848.9 794.1 859.1 797.8 862.6 798.6M887.3 862.4C883.8 862.8 873.2 865.4 866.1 865.2C859 865 852 861.8 845 861.3C837.9 860.8 830.8 863.3 823.8 862.4C816.7 861.4 809.8 856.2 802.7 855.6C795.7 855 788.5 858.4 781.5 858.8C774.4 859.1 767.4 857.1 760.3 857.6C753.3 858 746.2 861.5 739.1 861.5C732 861.5 725 858.2 718 857.3C710.9 856.5 703.9 856.7 696.8 856.3C689.8 855.8 682.7 854.4 675.7 854.6C668.6 854.8 661.5 856.8 654.4 857.7C647.4 858.5 640.3 859.5 633.2 859.7C626.2 860 619.1 859.4 612.1 859.2C605 859 598 858.5 590.9 858.3C583.8 858.1 573.2 858.1 569.7 858.1M889.2 713.4C885.4 713.8 873.7 713.8 866.6 715.8C859.5 717.7 854 723.6 846.6 724.9C839.3 726.1 829.6 721.3 822.5 723C815.3 724.8 810.5 732.6 803.6 735.1C796.8 737.6 788.1 735.5 781.3 738C774.4 740.5 769.2 747.2 762.5 750.1C755.8 753.1 748.3 753.8 741.1 755.6C734 757.3 726.5 758.2 719.5 760.5C712.6 762.9 706.6 767.5 699.6 769.7C692.6 771.8 684 769.8 677.5 773.3C671 776.7 667.1 786.8 660.7 790.4C654.2 794.1 645.4 791.5 639 795C632.5 798.6 628.5 808.4 621.9 811.8C615.4 815.1 606.4 812.2 599.7 814.9C592.9 817.6 587.7 824.3 581.2 828C574.8 831.6 564.5 835.2 561.1 836.6M720.1 973.8C723.8 973.8 734.7 973.2 742.4 974C750 974.8 758.6 978.6 766 978.6C773.5 978.7 779.9 975.6 786.9 974.5C794 973.4 801.9 975.2 808.3 972.2C814.8 969.2 819.2 960 825.5 956.5C831.8 953 839.8 954.9 846 951.3C852.3 947.7 857 939.4 862.9 934.9C868.9 930.4 878.6 926.1 881.7 924.3M863.6 890.6C860.6 892.7 852.3 899.4 845.8 903.1C839.3 906.8 830 907.9 824.6 912.6C819.2 917.3 818.5 926.2 813.4 931.1C808.3 936.1 798.8 937 794.1 942.3C789.4 947.6 787.8 955.7 785.2 962.9C782.7 970.2 779.9 982 778.8 985.8M875.3 675.8C876.9 679.4 883.5 690.7 884.7 697.9C885.8 705.1 880.9 711.8 882.1 719C883.3 726.3 891.2 734.2 892 741.3C892.8 748.5 887.7 755.1 886.9 762.1C886.1 769.1 889.8 776.6 887.2 783.5C884.6 790.4 875.3 796.7 871.4 803.5C867.5 810.3 865.2 820.8 864 824.3M863.5 691.8C863 695.3 860.3 705.3 860.2 712.5C860.2 719.7 862.3 727.6 863.1 735C864 742.5 865.6 750.2 865.4 757.4C865.1 764.5 862.1 770.9 861.7 778C861.3 785.1 864.8 793.3 862.8 800C860.8 806.6 851.2 811.1 849.6 817.8C848.1 824.6 854.6 833.7 853.5 840.7C852.5 847.6 845.5 852.8 843.3 859.4C841 865.9 842.6 873.6 839.9 880.1C837.2 886.5 831.6 892.1 827.1 898C822.7 904 816.5 909.4 813.2 915.7C809.9 922 810.8 929.4 807.3 935.7C803.8 941.9 796.4 946.9 792.4 953C788.4 959.1 784.8 968.9 783.3 972.1M888.8 981.6C885.4 980.5 875.4 976.4 868.5 974.9C861.6 973.4 854.2 975 847.4 972.7C840.7 970.4 834.9 962.3 827.9 961.1C821 959.8 812.8 966.1 805.8 965.2C798.8 964.3 792.9 956.8 785.9 955.9C779 954.9 770.8 961 763.9 959.4C757 957.9 751.4 948.9 744.6 946.7C737.8 944.5 730.2 947.2 723.2 946.3C716.3 945.3 709.7 941.8 702.7 941C695.7 940.3 688.3 941.8 681.1 941.8C674 941.8 666.8 942.3 659.8 941C652.9 939.6 646.6 934.9 639.6 933.7C632.7 932.5 625.2 934.6 618.2 933.5C611.3 932.4 604.9 927.7 597.9 927.1C590.8 926.5 579.6 929.3 576 929.8M879.6 924.4C876.3 923.1 865.9 920.8 859.7 916.5C853.4 912.2 848.1 903.4 841.9 898.7C835.7 894 829.1 891 822.5 888.3C815.9 885.5 808.7 885.5 802.2 882.3C795.6 879.2 790 871.7 783.3 869.4C776.6 867 768.8 869.9 761.9 868.4C755 867 748.4 864.1 742 860.6C735.5 857.2 730 849.3 723.1 847.9C716.2 846.5 707.8 851.9 700.5 852.3C693.2 852.7 686.5 850.7 679.4 850.1C672.3 849.6 665.4 848.1 658 848.8C650.7 849.6 642.4 854.6 635.1 854.8C627.9 854.9 621.7 850.1 614.6 849.7C607.5 849.3 599.9 851 592.4 852.5C584.9 854 573.2 857.8 569.4 858.9M778.7 972.6C780.7 969.3 787.9 959.9 790.6 953.2C793.3 946.5 792.6 939.1 794.9 932.3C797.1 925.6 799.9 918.9 803.9 912.4C807.9 905.9 816.4 900.3 819 893.6C821.6 886.9 817.9 879 819.6 872.1C821.2 865.2 827.2 859.1 829 852.2C830.8 845.4 830.2 838.1 830.2 830.9C830.2 823.7 827.1 815.9 828.8 809C830.5 802.1 839.2 796.5 840.7 789.6C842.1 782.6 837.8 774.7 837.3 767.4C836.8 760.1 837.8 753.1 837.9 745.9C838 738.7 839 731.7 837.8 724.3C836.6 716.8 831.4 708.7 830.7 701.4C830 694 833.3 683.8 833.8 680.3M806.7 681.1C803.1 681.5 792.4 682.9 785.1 683.1C777.8 683.4 770.1 681.8 762.9 682.5C755.7 683.3 749.3 687.7 741.9 687.7C734.6 687.7 725.9 681.4 718.8 682.7C711.7 684 706.2 692.9 699.4 695.3C692.6 697.8 684.9 696.2 677.8 697.6C670.8 698.9 663.9 701.2 657 703.5C650.1 705.7 643.7 710 636.5 711C629.4 712 621.1 707.7 614.2 709.6C607.2 711.5 601.5 719.6 594.8 722.6C588.1 725.7 577.4 727 573.9 727.9M775.5 677.5C773.8 680.9 767 690.8 765.1 697.6C763.2 704.4 766.8 711.6 764.2 718.4C761.6 725.1 752.5 731.3 749.6 738C746.7 744.7 748.9 751.9 746.9 758.7C744.9 765.5 738.9 771.9 737.8 778.8C736.7 785.7 740.6 793 740.5 799.9C740.4 806.9 738.1 813.6 737 820.5C735.9 827.4 734.5 834.2 733.9 841.1C733.3 848 733.4 855 733.3 861.9C733.1 868.9 731.5 875.7 733 882.8C734.5 889.9 740.9 897.4 742.3 904.4C743.7 911.5 740.4 918.2 741.4 925.3C742.5 932.3 747.2 939.7 748.4 946.7C749.6 953.8 748.6 964.1 748.6 967.6M781.2 684.3C779.6 687.6 775.8 697.8 771.3 703.8C766.8 709.9 758.3 714.3 754.3 720.5C750.3 726.7 750.7 734.7 747.3 741.2C744 747.7 737.1 752.7 734.1 759.4C731.2 766 732.8 774.5 729.8 781.2C726.9 787.8 719.9 792.8 716.5 799.3C713 805.7 712.4 813.3 709.1 819.8C705.8 826.3 699.5 831.7 696.7 838.4C693.9 845.1 693.9 852.9 692.2 860C690.4 867.2 687.8 874 686.4 881.2C685 888.5 684.9 896.3 683.5 903.6C682.1 910.9 679.9 917.8 677.9 924.9C675.9 931.9 673.5 938.8 671.7 945.9C669.9 953 667.7 963.9 666.9 967.5M868.2 848.6C864.8 847 854.5 843.4 848 839C841.6 834.6 836 826.9 829.6 822.3C823.2 817.8 816.4 815.2 809.7 811.7C803.1 808.3 796 806.4 789.7 801.7C783.3 797 778.3 786.7 771.6 783.4C765 780 756.9 782.6 749.7 781.6C742.4 780.6 735.3 779.3 728.3 777.4C721.3 775.5 715 770.4 707.6 770C700.3 769.6 691.5 775.1 684.1 774.8C676.7 774.5 670.4 769.7 663.3 768.3C656.2 766.8 649.1 765.3 641.4 766.3C633.7 767.3 624.9 773.1 617.1 774.5C609.3 775.8 602.4 773.6 594.7 774.6C587 775.6 574.9 779.5 570.9 780.5M767.6 693.9C766.2 697.2 763.6 707.6 758.9 713.9C754.2 720.2 743.5 725.2 739.4 731.6C735.3 738 737.6 745.8 734.2 752.3C730.7 758.9 721 764 718.6 770.8C716.2 777.6 722.1 786.2 719.8 793C717.5 799.8 707.3 804.9 704.9 811.6C702.4 818.4 707.2 826.7 705 833.5C702.8 840.3 692.7 845.5 691.5 852.5C690.4 859.5 697.6 868.4 697.9 875.8C698.1 883.1 692.2 889.1 692.9 896.6C693.5 904 701 912.9 701.7 920.3C702.3 927.8 696.6 933.8 696.8 941.2C697 948.5 701.7 956.8 702.7 964.3C703.8 971.9 703 982.6 703 986.3M586.3 977.1C588.1 974.1 595.5 966.1 597.4 959.4C599.3 952.7 595.9 943.5 597.8 936.8C599.7 930.1 606.2 925.4 608.7 919C611.3 912.6 610.4 904.6 613.2 898.3C616 892 622 887.1 625.4 881.1C628.9 875.1 632.2 869 633.9 862.3C635.7 855.5 633.6 846.9 636.1 840.5C638.6 834.1 646.3 830 649.1 823.7C651.9 817.4 649.2 808.5 653 802.7C656.7 796.8 668.1 794.4 671.7 788.5C675.3 782.5 672 773.5 674.4 767C676.8 760.4 682.7 755.6 685.9 749.5C689.1 743.3 690.5 736.4 693.7 730.2C696.9 724.1 701.1 718.5 705 712.7C709 706.9 715.2 698.4 717.3 695.5M868.1 682.8C868 686.3 866.6 696.7 867.7 703.9C868.7 711.2 873.9 719.2 874.3 726.3C874.7 733.5 869.2 739.6 870.1 746.8C871 754.1 878.5 762.5 879.5 769.7C880.6 777 876.8 783.4 876.6 790.4C876.4 797.5 879.2 805.1 878.1 811.9C877 818.8 872 825 870 831.7C867.9 838.4 866.8 845.3 865.7 852.2C864.5 859.1 864.8 866.2 863.1 873C861.3 879.7 857.5 886.1 855.1 892.8C852.8 899.5 852.9 906.6 849.1 913C845.4 919.4 836.3 924.9 832.6 931.3C828.8 937.7 829.8 944.9 826.7 951.5C823.5 958 816 967.3 813.9 970.4M766.6 964.7C768.1 961.5 772.8 952.3 775.6 945.9C778.4 939.6 779.6 932.5 783.4 926.6C787.2 920.8 795.5 917 798.6 910.8C801.8 904.7 799.7 896 802.4 889.7C805.2 883.3 813.2 879.4 815.4 872.8C817.6 866.2 812.6 856.2 815.7 850C818.7 843.8 830.2 841.5 833.8 835.5C837.5 829.6 834.4 820.5 837.5 814.3C840.6 808.1 849.8 804.8 852.3 798.3C854.8 791.8 850.5 782.2 852.5 775.5C854.6 768.8 861.4 764.3 864.6 758.2C867.8 752 868.7 744.8 871.6 738.5C874.5 732.2 880.2 723.4 882 720.4M567.2 864.6C570.2 861.7 579 851.9 585.3 847.1C591.6 842.2 598.5 839.9 604.9 835.4C611.3 830.9 617.4 825.4 623.6 820.1C629.7 814.7 635.2 806.6 641.9 803.5C648.7 800.4 657.1 803.9 664 801.5C670.9 799.1 676.8 792.4 683.5 789.1C690.2 785.9 697.1 783.5 704.2 782C711.4 780.5 719.4 782.5 726.3 780C733.2 777.4 738.5 768.6 745.6 766.9C752.7 765.2 761.2 768.9 768.9 769.7C776.7 770.5 784.5 771.6 792 771.7C799.6 771.7 806.4 768.8 814.2 770C822.1 771.2 831.2 777.5 839.1 778.7C846.9 779.9 853.7 777.2 861.3 777.4C868.9 777.6 880.7 779.6 884.6 780M579.6 786.2C582.2 788.6 590.9 794.9 595.3 800.9C599.7 806.8 601.7 815.9 606.1 821.8C610.5 827.8 617.4 830.5 621.7 836.6C626.1 842.6 627.8 851.9 632.1 858.1C636.3 864.3 641.8 868.8 647.1 873.6C652.4 878.4 658.2 882.6 663.8 887.1C669.3 891.7 674.1 897.1 680.2 900.9C686.4 904.7 695 905.3 700.5 909.8C706.1 914.3 707.8 923.6 713.7 927.7C719.5 931.9 729.4 930.9 735.6 934.6C741.8 938.3 744 947 750.9 949.8C757.7 952.7 769.3 949.7 776.5 952C783.8 954.3 787.8 960.8 794.5 963.8C801.2 966.9 813.1 969.1 816.8 970.2M865.3 808.4C862.1 806.9 852.6 800.9 845.9 799.2C839.1 797.6 831.7 799.4 824.8 798.5C818 797.6 811.1 796.7 804.6 793.7C798.1 790.7 792.5 782.7 785.8 780.6C779.2 778.5 771.5 782 764.6 780.9C757.8 779.7 751.5 775.4 744.8 773.8C738.1 772.1 731.2 770.8 724.2 770.7C717.2 770.6 709.3 775 702.6 773.2C695.9 771.4 690.5 762.1 683.9 759.8C677.3 757.4 670 759.1 662.9 759.2C655.8 759.4 648.4 761.5 641.4 760.8C634.5 760.1 628.3 755.5 621.3 755.1C614.4 754.7 606.6 758.9 599.6 758.5C592.6 758.1 586.3 754 579.5 752.7C572.7 751.3 562.2 750.7 558.8 750.3M862.4 982.6C860.7 979.1 857.1 967.1 852.5 961.4C847.9 955.8 839.6 954.3 835 948.7C830.4 943 829.5 933.4 824.8 927.8C820.2 922.2 811.4 921.2 807.1 915.2C802.9 909.2 803.3 898 799.2 891.9C795 885.8 786.8 884.1 782.1 878.6C777.4 873.1 776.1 863.8 770.9 858.9C765.7 853.9 756.5 853.4 750.8 849C745.1 844.6 741.9 837.4 736.6 832.5C731.3 827.7 724.3 824.7 719 819.8C713.8 814.9 710.3 808.1 705.2 803C700.1 797.9 694.3 793.5 688.4 789.4C682.4 785.3 675.7 781.9 669.5 778.2C663.2 774.4 657.3 770.2 650.7 766.7C644.2 763.3 636.2 761.4 630.1 757.4C624 753.5 620.1 747 614.1 742.9C608.1 738.9 600.4 736.7 594.1 732.9C587.8 729.1 579.5 722.3 576.6 720.1M567.3 683C567.3 685.7 567 693.7 567.3 699.1C567.6 704.4 568.5 709.7 569 715C569.6 720.4 571.1 725.6 570.8 731C570.5 736.4 567.4 741.8 567.3 747.2C567.3 752.5 569.4 757.8 570.7 763.1C572 768.4 575.1 773.6 575.1 778.9C575 784.3 571.1 789.8 570.4 795.2C569.7 800.5 570.1 805.9 570.8 811.2C571.5 816.5 574.3 821.7 574.7 827.1C575.1 832.4 573.4 837.8 573.3 843.2C573.1 848.5 573.8 856.5 573.9 859.2M559.3 743.1C559.4 746 560.1 754.8 559.9 760.6C559.8 766.4 558.7 772.3 558.3 778.1C558 783.9 557.7 789.7 558 795.6C558.2 801.4 559.9 807.3 560 813.1C560.2 818.9 558.5 824.7 558.9 830.6C559.2 836.4 562.6 842.3 562.4 848.1C562.1 853.9 557.5 859.7 557.2 865.5C556.8 871.4 560.5 877.2 560.2 883.1C559.8 888.9 555.2 894.7 555.1 900.5C555.1 906.3 559.4 912.2 559.8 918.1C560.2 923.9 557.3 929.7 557.3 935.5C557.3 941.4 559.7 947.2 559.7 953C559.7 958.9 557.8 964.7 557.3 970.5C556.8 976.3 556.9 985.1 556.8 988M567.6 746.3C567.6 749.2 567.7 757.8 567.3 763.6C566.9 769.4 565 775.2 565.2 780.9C565.3 786.7 567.9 792.4 568 798.1C568.2 803.9 566.1 809.7 566 815.4C566 821.2 566.7 826.9 567.6 832.7C568.5 838.4 571.8 844.1 571.7 849.9C571.6 855.6 567.8 861.4 567.1 867.2C566.5 873 567.4 878.7 567.8 884.5C568.2 890.2 569.8 895.9 569.7 901.7C569.6 907.5 567 913.3 567.3 919C567.6 924.8 570.9 930.5 571.8 936.2C572.6 941.9 572.8 947.7 572.4 953.4C572.1 959.2 569.9 965 569.7 970.8C569.6 976.5 571.4 985.1 571.8 988M570.5 754C570.1 756.8 568.5 765.1 568.2 770.7C567.9 776.2 568.8 781.8 568.5 787.4C568.3 793 567.2 798.5 566.6 804.1C566.1 809.6 564.6 815.2 565.1 820.8C565.6 826.4 569.7 832 569.7 837.6C569.7 843.2 565.6 848.7 565.1 854.2C564.5 859.8 566.5 865.4 566.4 871C566.2 876.5 564.8 882.1 564.3 887.7C563.8 893.2 562.6 898.8 563.3 904.4C563.9 909.9 568 915.6 568.2 921.2C568.3 926.7 564.6 932.3 564.2 937.8C563.8 943.4 565.6 949 565.7 954.6C565.7 960.1 564.5 965.7 564.3 971.3C564.1 976.8 564.5 985.2 564.5 988M566.9 681.8C566.7 684.6 565.7 692.9 565.8 698.4C565.8 703.9 567.6 709.4 567.1 714.9C566.7 720.5 562.8 726 563 731.5C563.2 737 567.8 742.5 568.1 748C568.5 753.5 565 759.1 565.3 764.6C565.5 770.1 569.8 775.6 569.6 781.1C569.4 786.6 564.2 792.2 563.8 797.7C563.5 803.2 567.3 808.7 567.7 814.2C568 819.7 565.8 825.3 566.2 830.8C566.6 836.3 569.6 841.7 570 847.3C570.3 852.8 568.6 858.3 568.3 863.8C568.1 869.3 568.7 877.6 568.7 880.4M561.8 777.8C561.6 780.7 560 789.3 560.4 795C560.8 800.6 563.5 806.1 564.4 811.8C565.2 817.4 565.2 823.1 565.4 828.7C565.7 834.4 565 840.1 565.9 845.8C566.8 851.4 570.6 856.8 570.7 862.5C570.8 868.2 567.2 874.1 566.6 879.8C566 885.5 566.8 891.1 567.2 896.8C567.6 902.5 568.9 910.9 569.2 913.7M573.1 793.7C573.2 796.4 573.3 804.5 573.7 809.9C574.2 815.3 575.8 820.7 575.8 826.1C575.8 831.5 574 836.9 573.8 842.3C573.6 847.7 574.6 853.1 574.6 858.5C574.5 863.9 573 869.3 573.6 874.7C574.1 880.1 577.7 885.4 577.9 890.8C578.1 896.2 575.2 901.6 574.9 907C574.6 912.4 576.4 917.8 576.1 923.2C575.8 928.6 572.7 934.1 572.9 939.4C573.1 944.8 576.9 950.2 577.3 955.6C577.6 961 575.1 966.4 574.8 971.8C574.6 977.2 575.5 985.3 575.6 988M564.2 693.1C564.5 696 565.8 704.7 565.8 710.5C565.7 716.3 563.6 722.2 563.9 727.9C564.2 733.7 566.4 739.4 567.6 745.2C568.8 750.9 571.3 756.6 571.2 762.4C571.1 768.2 567.7 774.2 567.2 780C566.7 785.8 567.6 791.6 568.1 797.3C568.7 803.1 570 808.9 570.2 814.7C570.5 820.4 569.6 829.2 569.5 832.1M571.5 805.2C571.3 807.8 570.7 815.8 570.5 821.1C570.3 826.4 569.9 831.7 570.3 837C570.7 842.3 573.5 847.8 572.8 853.1C572.2 858.4 567.3 863.4 566.5 868.7C565.7 874 567.4 879.4 568 884.7C568.6 890.1 570.5 895.5 570.2 900.8C569.8 906.1 566.5 911.2 565.9 916.5C565.3 921.8 566.9 927.2 566.7 932.5C566.4 937.8 564.9 945.7 564.5 948.4M558.6 705.1C558.6 707.9 557.9 716.2 558.5 721.8C559 727.3 562 732.9 562.1 738.4C562.2 744 559.1 749.5 559 755C559 760.6 562 766.2 561.8 771.7C561.6 777.2 557.8 782.8 557.8 788.3C557.9 793.9 561.5 799.4 562.2 805C562.9 810.5 562.1 816.1 562 821.6C561.9 827.2 561.5 832.7 561.4 838.3C561.3 843.8 562 849.4 561.4 854.9C560.8 860.4 557.4 866 557.6 871.5C557.8 877.1 562.5 882.6 562.8 888.2C563 893.7 559.3 899.3 559.2 904.8C559 910.4 562.2 915.9 561.8 921.5C561.5 927 557.8 932.5 557.1 938.1C556.5 943.6 557.7 949.2 557.8 954.7C558 960.3 558.2 965.8 558.1 971.4C557.9 976.9 557.2 985.2 557 988M556.9 790.4C557.1 793.2 558.2 801.5 557.9 807C557.7 812.6 555.2 818.1 555.5 823.6C555.8 829.2 559.3 834.7 559.6 840.2C560 845.8 558.2 851.3 557.8 856.8C557.4 862.4 557.4 867.9 557.2 873.4C557 879 556.7 887.3 556.6 890M558 717.3C558.2 720.2 558.5 729 559.3 734.8C560.1 740.6 562.6 746.4 562.9 752.2C563.1 758.1 560.7 764 560.9 769.9C561 775.7 563.6 781.5 564 787.3C564.3 793.2 563.6 799 563 804.9C562.4 810.8 560.1 816.7 560.6 822.5C561.1 828.4 565.4 834.1 566.1 839.9C566.7 845.7 564.6 851.7 564.6 857.5C564.6 863.4 565.4 869.2 566.1 875C566.7 880.8 568.8 886.6 568.4 892.5C568 898.4 563.9 904.3 563.5 910.2C563 916.1 565.3 921.8 565.7 927.7C566.1 933.5 566 939.4 565.9 945.2C565.8 951.1 564.8 957 565 962.8C565.2 968.6 566.8 977.4 567.1 980.3M570.6 688.5C570.3 691.5 568.5 700.2 568.5 706C568.5 711.9 570.6 717.8 570.4 723.6C570.2 729.5 567.6 735.2 567.5 741.1C567.4 746.9 569.2 752.8 569.7 758.7C570.3 764.6 571.5 770.4 570.9 776.3C570.2 782.1 566.4 787.9 565.9 793.7C565.5 799.5 568.3 805.4 568.2 811.3C568.1 817.1 565.8 822.9 565.2 828.8C564.5 834.6 563.8 840.4 564.4 846.3C565 852.2 568.7 858.1 568.9 863.9C569 869.8 565.5 875.6 565.1 881.4C564.6 887.2 566.1 893.1 566.1 899C566.2 904.8 566.1 910.7 565.3 916.5C564.6 922.3 561.7 928.1 561.6 933.9C561.4 939.8 564.1 945.7 564.4 951.6C564.7 957.4 563.6 966.2 563.4 969.1M560.1 779.3C560.1 781.9 561.1 789.9 560.3 795.2C559.5 800.5 555.7 805.7 555.3 811C555 816.3 557.1 821.7 557.9 827C558.7 832.3 560.3 837.6 560.1 842.9C559.9 848.2 557.2 853.5 556.6 858.8C556.1 864.1 556.8 872 556.8 874.7M581.3 765.8C580.9 768.6 579.9 777 579.2 782.6C578.6 788.2 577.1 793.8 577.2 799.4C577.4 805 580.2 810.8 580.2 816.4C580.2 822 577.4 827.6 577.3 833.2C577.3 838.8 580.1 844.5 579.9 850.2C579.7 855.8 576.9 864.1 576.3 866.9M614.9 803.2C614.8 806 614.2 814.4 614.6 820C614.9 825.6 616.6 831.2 616.8 836.8C616.9 842.4 615.6 848 615.6 853.6C615.6 859.2 616.1 864.8 617 870.4C617.9 876 620.9 881.5 621.2 887.1C621.5 892.7 618.6 898.4 618.7 904C618.9 909.6 622.3 915.1 622 920.7C621.7 926.3 617.1 932.1 617 937.7C616.9 943.3 620.9 948.7 621.4 954.3C622 959.9 620.4 965.6 620.3 971.2C620.3 976.8 621.1 985.2 621.3 988M573.9 772.5C574.4 775.2 576.4 783.3 576.8 788.7C577.3 794.1 576.6 799.5 576.6 805C576.6 810.4 576.6 815.8 576.9 821.2C577.2 826.6 578.8 832 578.5 837.4C578.3 842.9 574.7 848.5 575.3 853.9C575.8 859.3 580.9 864.4 581.9 869.8C583 875.2 581.9 880.7 581.7 886.1C581.5 891.6 580.4 897 580.7 902.5C581.1 907.9 583.2 913.2 583.7 918.6C584.2 924 583.7 932.1 583.7 934.9M559.7 737.1C559.4 739.9 557.9 748.4 558.4 754C558.8 759.6 562 765.2 562.5 770.8C563.1 776.4 562.4 782 561.8 787.7C561.2 793.3 558.9 799 559 804.6C559.1 810.3 562.2 815.8 562.4 821.4C562.7 827 560.4 832.7 560.5 838.4C560.5 844 561.6 849.6 562.7 855.2C563.7 860.8 566.8 866.3 566.7 871.9C566.6 877.6 562.6 883.3 562.1 889C561.6 894.6 563.2 900.2 563.8 905.8C564.5 911.4 565.7 917 565.9 922.6C566.2 928.2 564.9 933.9 565.2 939.5C565.5 945.1 567.4 953.5 567.9 956.3M589 741.4C589.1 744.2 589.7 752.7 589.5 758.3C589.4 763.9 588.1 769.5 588.1 775.1C588.1 780.8 590.3 786.5 589.5 792.1C588.7 797.7 583.6 803.1 583.2 808.7C582.8 814.3 586.7 820.2 586.9 825.8C587.1 831.4 584.9 837 584.3 842.6C583.8 848.2 583.9 856.6 583.8 859.4M580.3 801.1C580 803.9 578.7 812.4 578.9 818.1C579 823.7 580.9 829.5 581.2 835.2C581.5 840.9 581.4 846.5 580.7 852.2C580 857.8 577.2 863.4 576.9 869C576.7 874.7 579.5 880.5 579.2 886.2C578.8 891.8 574.7 897.3 574.8 903C574.9 908.7 579.3 914.5 579.5 920.2C579.7 925.9 576.7 931.5 575.9 937.1C575.1 942.7 575 948.4 574.6 954.1C574.1 959.7 573.7 965.4 573.1 971C572.5 976.7 571.3 985.1 571 988M559.7 820.9C560.1 823.7 562.1 832 562.5 837.6C562.8 843.2 562.1 848.8 561.7 854.4C561.3 860 559.5 865.6 560.1 871.2C560.6 876.8 564.4 882.2 564.8 887.8C565.2 893.4 562.1 899.1 562.5 904.6C562.9 910.2 567 915.7 567.2 921.2C567.4 926.8 564.2 932.5 563.6 938.1C563 943.7 563.3 949.3 563.5 954.9C563.8 960.5 564.8 968.8 565.1 971.6M564.9 790.7C564.9 793.4 565 801.7 565.2 807.1C565.3 812.6 566.2 818.1 565.9 823.6C565.6 829.1 563.1 834.7 563.2 840.2C563.2 845.7 565.4 851.1 566.4 856.5C567.5 861.9 569.9 867.3 569.6 872.8C569.3 878.3 565.3 884 564.7 889.5C564.1 895 564.9 900.5 565.9 905.9C566.8 911.4 569.7 916.8 570.3 922.2C570.8 927.7 568.9 933.3 569.1 938.8C569.2 944.2 570.4 949.7 571 955.1C571.6 960.6 572.6 966.1 572.8 971.5C573 977 572.3 985.3 572.2 988M567.2 711.5C567.4 714.1 568.9 722 568.8 727.2C568.6 732.5 566.5 737.7 566.3 743C566.1 748.2 567.4 753.5 567.6 758.7C567.8 764 566.8 769.2 567.3 774.5C567.8 779.7 570.8 785 570.6 790.2C570.5 795.5 566.6 800.7 566.2 806C565.8 811.2 568.1 816.5 568.3 821.7C568.4 827 566.9 832.2 567 837.5C567.1 842.7 568.5 850.6 568.8 853.2M592.6 704.5C592.2 707.3 589.9 715.8 590 721.4C590 727 592.8 732.6 593.1 738.2C593.3 743.8 590.9 749.5 591.2 755.1C591.5 760.7 594.9 766.3 594.8 771.9C594.6 777.6 590.8 783.2 590.4 788.9C590 794.5 592.6 800.1 592.5 805.7C592.4 811.3 589.6 817 590 822.6C590.4 828.2 594.2 833.8 594.7 839.4C595.2 845 593 850.7 593 856.3C593 862 594.9 867.5 594.7 873.2C594.5 878.8 591.8 884.5 591.7 890.1C591.6 895.7 593.5 901.3 594 906.9C594.4 912.5 594 918.2 594.4 923.8C594.9 929.4 596.5 935 596.7 940.6C597 946.3 596.1 951.9 596 957.5C596 963.1 596.3 971.6 596.3 974.4M560.4 775.7C560.5 778.5 561.1 786.6 560.9 792.1C560.6 797.5 559.6 803 558.9 808.4C558.2 813.8 556.5 819.3 557 824.7C557.4 830.2 561.6 835.6 561.7 841.1C561.8 846.5 557.9 851.9 557.5 857.4C557.1 862.8 559.2 868.3 559.1 873.7C559 879.1 557.2 884.6 556.8 890C556.4 895.5 556 900.9 556.8 906.3C557.6 911.8 561.6 917.3 561.6 922.7C561.7 928.1 557.6 933.6 557.3 939C556.9 944.4 559.2 949.9 559.4 955.3C559.6 960.8 558.4 966.2 558.4 971.7C558.5 977.1 559.5 985.3 559.7 988M624.4 726.6C624.2 729.5 622.6 738.2 622.9 744C623.3 749.8 625.9 755.6 626.6 761.4C627.3 767.2 626.9 773 627 778.8C627.1 784.6 626.3 790.5 627 796.3C627.7 802.1 631.2 807.8 631.2 813.6C631.3 819.4 628.2 825.3 627.4 831.1C626.6 836.9 626.1 842.8 626.6 848.6C627.1 854.4 630.2 860.1 630.4 865.9C630.6 871.8 627.8 877.6 627.8 883.4C627.8 889.2 629.7 895 630.4 900.8C631.1 906.6 632.4 912.4 631.9 918.2C631.3 924 627.5 929.9 626.9 935.7C626.4 941.5 628.1 947.3 628.3 953.1C628.6 958.9 628.5 964.7 628.3 970.6C628.1 976.4 627.4 985.1 627.2 988M877.9 700.9C877.5 703.7 875.1 712.4 875.5 718C875.9 723.7 879.4 729.2 880.3 734.8C881.2 740.4 881 746.1 881.1 751.8C881.2 757.4 880.5 763.2 880.9 768.8C881.3 774.5 883.3 780 883.5 785.7C883.8 791.3 882.6 799.9 882.4 802.8M878.8 757.4C878.7 760.2 877.4 768.8 877.9 774.4C878.4 780 881.3 785.6 881.9 791.2C882.6 796.8 882.1 802.5 881.9 808.1C881.8 813.8 881 819.4 881.1 825.1C881.2 830.7 882.5 836.3 882.4 842C882.2 847.6 879.5 853.4 880.1 859C880.8 864.6 885.6 870.1 886.1 875.7C886.6 881.4 883.1 887.1 883.1 892.8C883.1 898.4 885.9 904 886 909.6C886.1 915.3 884.2 923.8 883.9 926.6M877.8 698.5C877.8 701.2 878.1 709.2 877.9 714.6C877.7 720 876.7 725.3 876.6 730.7C876.5 736.1 876.9 741.5 877.2 746.9C877.4 752.3 878.9 757.8 878 763.1C877.1 768.4 872.1 773.5 871.7 778.9C871.2 784.3 875.2 789.9 875.3 795.2C875.4 800.6 872.3 805.8 872 811.2C871.8 816.6 874.1 822.1 873.8 827.5C873.6 832.8 871.3 838.1 870.5 843.4C869.7 848.8 869.2 856.8 868.9 859.5M884.6 742.6C884.4 745.4 882.9 753.8 883.2 759.4C883.5 765.1 886.7 770.8 886.5 776.4C886.4 782 882.7 787.6 882.4 793.2C882.1 798.8 885.2 804.5 884.7 810.1C884.2 815.7 879.4 821.2 879.3 826.9C879.3 832.5 884.1 838.2 884.4 843.8C884.8 849.5 881.5 855 881.5 860.6C881.5 866.3 884.7 871.9 884.5 877.6C884.3 883.2 880.8 888.7 880.1 894.3C879.5 900 880.6 905.6 880.6 911.2C880.7 916.8 880.2 922.5 880.3 928.1C880.3 933.7 880.9 939.3 881 945C881.1 950.6 880.9 959 880.8 961.8M880.4 768.2C880.5 771 881.2 779.4 881.3 784.9C881.3 790.5 881.6 796 880.6 801.6C879.6 807.1 875.7 812.5 875.2 818.1C874.7 823.6 877.4 829.3 877.5 834.8C877.7 840.4 876.4 845.9 876.1 851.5C875.7 857 875.2 862.6 875.6 868.1C876 873.7 879 879.4 878.6 884.9C878.2 890.4 874 895.9 873.2 901.4C872.4 906.9 873.5 912.5 874 918.1C874.6 923.7 876.3 929.3 876.5 934.9C876.7 940.4 875.3 948.7 875.1 951.5M876.9 790.1C877.1 792.8 877.5 800.9 878 806.2C878.6 811.6 880 816.9 880.3 822.3C880.5 827.7 879.6 833.2 879.5 838.7C879.5 844.1 879.1 849.5 879.9 854.9C880.8 860.2 884.1 865.4 884.6 870.8C885.2 876.2 883.2 881.8 883.3 887.2C883.4 892.6 884.9 900.6 885.2 903.3M871.8 735.9C871.3 738.7 868.9 747.1 869 752.7C869.2 758.3 872.6 764 872.7 769.6C872.8 775.2 869.9 780.7 869.8 786.3C869.7 791.9 872.4 797.6 872 803.2C871.7 808.8 868.1 814.3 867.5 819.9C867 825.5 868.4 831.1 868.7 836.7C869 842.3 869 847.9 869.1 853.6C869.2 859.2 869.2 864.8 869.4 870.4C869.6 876 870.9 881.6 870.3 887.2C869.7 892.8 866 898.3 865.7 903.9C865.4 909.5 868.5 915.2 868.5 920.8C868.5 926.4 865.4 931.9 865.6 937.5C865.9 943.2 869.9 948.8 870.1 954.4C870.2 960 866.9 965.6 866.4 971.2C866 976.8 867.2 985.2 867.3 988M875.2 783.4C875.6 786 877.1 794 877.2 799.3C877.4 804.6 876.9 809.9 876.2 815.2C875.5 820.4 873.2 825.6 872.9 830.9C872.7 836.2 874.9 841.6 874.8 846.9C874.7 852.1 872.6 857.4 872.2 862.6C871.8 867.9 872.3 873.2 872.6 878.5C872.8 883.8 874.2 889.2 873.9 894.5C873.5 899.7 870.9 907.6 870.3 910.2M875.8 730.3C875.8 733.1 874.8 741.4 875.5 746.8C876.2 752.2 879.6 757.4 880.1 762.9C880.5 768.3 878.7 773.9 878.1 779.4C877.6 785 876.2 790.5 877 796C877.8 801.4 882.1 806.5 883.1 811.9C884 817.3 882.7 825.6 882.6 828.4M870.5 801.1C870.8 803.9 872 812.4 872.5 818.1C872.9 823.8 873.5 829.5 873.2 835.2C873 840.8 870.9 846.4 871 852.1C871 857.8 873.4 863.5 873.4 869.2C873.3 874.8 871.4 880.4 870.5 886.1C869.6 891.7 867.5 897.3 867.9 903C868.3 908.7 872.2 914.5 872.7 920.2C873.2 925.8 871.7 931.5 870.8 937.1C870 942.7 867.9 948.4 867.5 954C867.1 959.7 868.7 965.4 868.4 971C868.2 976.7 866.5 985.2 866.1 988M876.3 731.7C876.8 734.5 879 743.1 879.2 748.8C879.4 754.5 877.7 760.2 877.7 765.9C877.6 771.6 878.6 777.3 878.7 783C878.7 788.7 878.6 794.3 878 800C877.4 805.7 874.7 811.4 875.1 817.1C875.4 822.8 879.8 828.5 880.1 834.2C880.5 839.9 877.1 845.6 877.1 851.3C877.2 857 880.4 862.7 880.4 868.4C880.5 874.1 878.4 879.8 877.5 885.5C876.6 891.2 875.1 896.9 875.2 902.6C875.3 908.2 878.1 914 878.1 919.7C878.1 925.4 875.1 931 875.3 936.7C875.4 942.4 878.8 948.1 878.9 953.8C879 959.5 876.3 965.2 875.7 970.9C875 976.6 875.3 985.2 875.2 988M873.4 790.3C873.9 793 876.1 801.3 876.1 806.8C876 812.3 874 817.8 873.2 823.2C872.4 828.7 871 834.2 871.2 839.7C871.4 845.2 874.3 850.7 874.5 856.2C874.7 861.7 872.6 867.2 872.5 872.7C872.4 878.2 873.4 883.7 873.9 889.1C874.4 894.6 875.9 900.1 875.3 905.6C874.7 911.1 870.6 916.6 870.2 922.1C869.8 927.6 872 933.1 873 938.6C873.9 944.1 875.9 949.6 876 955C876 960.5 873.5 966 873.2 971.5C872.9 977 874 985.3 874.2 988M882 781.8C881.4 784.6 879 793.1 878.5 798.8C878 804.5 879.4 810.3 878.9 816C878.5 821.7 876.3 827.4 875.8 833.1C875.3 838.8 875.5 844.5 875.9 850.2C876.3 856 878.7 861.8 878.4 867.5C878.1 873.2 874.4 878.8 874 884.5C873.7 890.2 876.9 896.1 876.4 901.8C875.9 907.5 871.6 913 871.2 918.7C870.7 924.4 873.4 930.3 873.8 936C874.1 941.7 873.3 950.3 873.2 953.2M876.9 806.5C876.5 809.2 874.1 817.4 874.3 822.9C874.5 828.4 878.2 834 878 839.5C877.8 845 873.4 850.4 872.9 855.9C872.4 861.4 875.6 867 875.1 872.5C874.6 878 869.8 883.4 869.9 888.9C870 894.4 875.3 900 875.7 905.5C876.1 911 872.2 916.4 872.1 921.9C872.1 927.4 875.5 933 875.2 938.5C874.9 944 870.6 949.4 870.4 954.9C870.2 960.4 873.5 966 874 971.5C874.4 977 873.3 985.2 873.1 988M885.4 726C885.1 728.9 883.6 737.6 883.7 743.4C883.9 749.3 886.6 755.1 886.2 760.9C885.9 766.7 881.9 772.5 881.7 778.4C881.5 784.2 885 790 885.2 795.9C885.3 801.7 882.2 807.5 882.5 813.3C882.8 819.1 886.6 825 886.9 830.8C887.2 836.6 884.7 842.4 884.4 848.3C884.1 854.1 885.5 859.9 885.2 865.7C884.9 871.6 883 877.4 882.5 883.2C882.1 889 882.2 894.8 882.3 900.7C882.5 906.5 883.3 912.3 883.4 918.1C883.6 924 882.9 929.8 883.1 935.6C883.3 941.4 884.9 947.3 884.7 953.1C884.4 958.9 882.1 964.7 881.7 970.5C881.3 976.3 882.2 985.1 882.3 988M877.8 733.8C877.8 736.6 877.2 745.3 877.7 751.1C878.2 756.8 880.9 762.5 880.9 768.3C880.9 774 877.8 779.9 877.9 785.6C877.9 791.4 881.5 797.1 881.2 802.8C880.9 808.6 876.2 814.5 876.1 820.3C876 826.1 880.1 831.7 880.7 837.5C881.4 843.2 879.6 849 879.9 854.8C880.2 860.5 882.1 866.2 882.7 872C883.2 877.7 883.4 883.5 883.2 889.3C883 895.1 881.4 900.9 881.4 906.6C881.5 912.4 883.2 921 883.6 923.9M879.8 744.7C879.4 747.6 877.3 756.3 877.1 762.1C877 767.9 879 773.7 879 779.5C879.1 785.3 877.2 791.1 877.5 796.9C877.7 802.7 880.2 808.4 880.4 814.2C880.6 820 879 825.8 878.7 831.6C878.4 837.4 878.9 843.2 878.5 849C878.2 854.8 877.1 860.6 876.8 866.4C876.5 872.2 876.4 877.9 876.7 883.7C877 889.5 878.3 895.3 878.7 901.1C879 906.9 878.3 912.7 878.5 918.5C878.8 924.3 880.5 930.1 880.3 935.9C880.1 941.7 877.6 947.5 877.3 953.2C877.1 959 878.7 964.8 878.8 970.6C878.9 976.4 878 985.1 877.8 988M880.3 743.5C880.5 746.1 880.9 753.9 881.1 759.2C881.4 764.4 882.8 769.6 882 774.8C881.2 780 876.5 785 876.4 790.2C876.2 795.4 880.9 800.8 881.2 806C881.6 811.2 878.8 816.3 878.3 821.5C877.9 826.7 878.9 831.9 878.7 837.1C878.4 842.3 877.1 850.1 876.8 852.6M867.8 706.5C868.2 709.2 870.3 717.2 870.4 722.6C870.5 727.9 868 733.3 868.3 738.7C868.6 744.1 872.4 749.4 872 754.8C871.7 760.2 866.5 765.6 866.2 770.9C866 776.3 870 781.6 870.4 787C870.8 792.4 868.7 797.8 868.9 803.1C869.1 808.5 871.8 813.8 871.7 819.2C871.7 824.6 869.1 830 868.7 835.3C868.3 840.7 869.3 848.8 869.5 851.4M844.3 677.1C843.9 680.1 842 688.9 842 694.7C842.1 700.5 843.6 706.3 844.6 712.1C845.6 717.9 847.7 723.6 847.8 729.4C847.8 735.3 845.2 741.2 845 747.1C844.8 752.9 846 758.7 846.5 764.5C847.1 770.3 848.6 776.1 848.3 781.9C848.1 787.7 845.1 793.7 845 799.6C845 805.4 846.7 811.1 848 816.9C849.3 822.7 852.2 828.4 852.8 834.2C853.4 840 851.6 845.9 851.6 851.7C851.6 857.6 852.6 866.3 852.8 869.2M850.2 806.8C849.7 809.7 847.7 818.1 847.2 823.8C846.7 829.5 846.6 835.2 847.2 840.9C847.7 846.7 850.9 852.6 850.6 858.3C850.3 864 846.4 869.4 845.4 875.1C844.5 880.7 845.3 886.5 844.9 892.2C844.6 897.9 843.6 906.4 843.4 909.2M885 772.1C884.8 774.9 884.3 783.3 883.6 788.8C882.8 794.4 880.3 799.8 880.4 805.4C880.6 811 884.4 816.8 884.4 822.4C884.4 828 881.3 833.4 880.4 839C879.5 844.5 879.3 850.1 879.1 855.7C878.8 861.3 879.7 866.9 879.1 872.5C878.4 878 875.1 883.4 875.2 889C875.4 894.6 879.7 900.4 880.1 906C880.5 911.7 878.3 917.1 877.6 922.7C876.9 928.3 876 933.8 875.9 939.4C875.7 945 876.4 953.4 876.5 956.2M841.9 722C842.8 724.7 846.6 732.6 847 737.9C847.4 743.3 844.2 748.9 844.4 754.3C844.6 759.7 848.1 764.9 848.2 770.3C848.3 775.7 844.5 781.4 844.9 786.8C845.4 792.2 850.2 797.3 850.9 802.6C851.6 808 849.5 813.5 849.3 819C849.2 824.4 849.9 832.5 850 835.2M870.5 747.6C870.8 750.5 872 759.2 872.2 765C872.3 770.8 870.6 776.7 871.4 782.5C872.3 788.3 876.4 793.8 877.4 799.6C878.4 805.4 877.8 811.2 877.4 817.1C877 822.9 874.9 828.9 875.2 834.7C875.5 840.5 878.7 846.1 879 851.9C879.3 857.7 876.9 863.7 876.9 869.5C876.9 875.3 878 881.1 878.7 886.9C879.5 892.7 880.9 901.3 881.3 904.2M831.8 712C831.9 714.9 832.7 723.5 832.2 729.1C831.8 734.8 829.3 740.4 829 746C828.7 751.7 830 757.4 830.4 763.1C830.8 768.8 831.8 774.6 831.3 780.2C830.9 785.9 828.2 791.5 827.9 797.2C827.6 802.8 830.3 808.6 829.6 814.3C828.9 819.9 823.9 825.4 823.6 831.1C823.3 836.8 827.3 842.6 827.7 848.3C828.1 854 826.3 859.6 826 865.3C825.8 871 826.3 876.7 826.3 882.3C826.3 888 826.8 893.7 826 899.4C825.2 905 822 910.6 821.7 916.3C821.4 921.9 824.2 927.7 824.3 933.4C824.4 939.1 822.8 947.6 822.5 950.4M875.1 682.1C874.7 684.7 872.8 692.8 872.7 698.1C872.6 703.4 873.8 708.8 874.4 714.1C875 719.5 877.1 724.8 876.4 730.1C875.8 735.5 870.9 740.9 870.5 746.2C870 751.6 872.9 756.9 873.6 762.2C874.3 767.6 874.9 772.9 874.9 778.3C875 783.6 873.6 789 873.8 794.3C874.1 799.6 876.3 805 876.4 810.3C876.6 815.7 875.2 823.7 874.9 826.4M871.9 725.5C871.6 728.4 870 737.1 870.3 742.9C870.5 748.8 873.5 754.7 873.4 760.5C873.2 766.4 869.8 772.1 869.6 778C869.4 783.8 872.6 789.7 872 795.5C871.5 801.4 866.6 807.1 866.3 812.9C866 818.7 870.2 824.7 870.2 830.5C870.3 836.4 866.1 842.1 866.4 847.9C866.6 853.8 871.5 859.7 871.6 865.6C871.7 871.4 867.3 877.1 867 883C866.6 888.8 869.8 894.7 869.4 900.6C868.9 906.4 864.7 912.1 864.2 917.9C863.7 923.8 866.4 929.7 866.5 935.5C866.5 941.3 864.4 947.1 864.4 953C864.4 958.8 866.4 964.7 866.5 970.5C866.5 976.4 865.1 985.1 864.8 988M870 810.4C870.2 813 871.1 820.8 871.3 826C871.6 831.1 872.5 836.3 871.5 841.4C870.6 846.6 866 851.5 865.5 856.7C865 861.8 867.8 867.1 868.6 872.3C869.4 877.5 870.9 882.7 870.3 887.8C869.7 893 865.6 897.9 864.8 903.1C864.1 908.2 865.6 913.4 865.7 918.6C865.8 923.8 865.5 931.5 865.5 934.1M885.2 742.4C884.8 745.3 882.5 754.1 882.7 760C882.9 765.8 886.1 771.6 886.4 777.5C886.7 783.3 884.4 789.2 884.5 795.1C884.7 800.9 887.2 806.7 887.3 812.6C887.4 818.4 885.5 824.3 885 830.1C884.5 836 884.2 841.8 884.2 847.7C884.2 853.5 885 859.4 885 865.2C884.9 871.1 883.4 876.9 884 882.8C884.6 888.6 888.3 894.4 888.6 900.3C888.9 906.1 885.6 912 885.7 917.8C885.8 923.7 889.4 929.5 889.3 935.3C889.2 941.2 885.1 947.1 884.9 952.9C884.7 958.8 887.6 964.6 888 970.5C888.4 976.3 887.4 985.1 887.2 988M866.6 678.1C866.4 681 865.5 689.6 865.6 695.3C865.8 701 867.4 706.7 867.4 712.4C867.3 718.1 864.7 724 865.3 729.7C866 735.3 870.8 740.9 871.2 746.6C871.5 752.3 867.9 758.2 867.5 763.9C867.1 769.6 868.7 775.3 869 781C869.3 786.7 869.3 792.4 869.3 798.1C869.4 803.9 868.7 809.6 869.3 815.3C870 821 872.4 829.5 873.1 832.3M843.9 754.9C844.1 757.6 844.9 765.9 845.5 771.5C846 777 847.4 782.5 847.1 788.1C846.8 793.7 843.8 799.4 843.6 804.9C843.4 810.5 844.8 816 846 821.5C847.2 827 850.3 832.5 850.6 838C850.9 843.5 848.1 849.2 847.8 854.8C847.4 860.4 848 865.9 848.5 871.4C848.9 877 850.5 882.5 850.4 888C850.3 893.6 847.7 899.3 847.9 904.8C848.1 910.4 850.4 915.8 851.5 921.4C852.6 926.9 854.6 932.4 854.4 937.9C854.3 943.5 851.1 949.2 850.6 954.8C850.2 960.3 851.2 965.8 851.7 971.4C852.2 976.9 853.5 985.2 853.9 988M833.2 813.4C832.6 816.2 830.1 824.9 830 830.7C829.9 836.6 832.9 842.5 832.8 848.3C832.6 854.1 829 859.8 829.3 865.7C829.5 871.5 834.1 877.5 834.1 883.3C834.1 889.2 829.9 894.8 829.3 900.7C828.8 906.5 831.3 912.4 830.9 918.2C830.4 924 827.3 929.7 826.7 935.5C826.1 941.4 827.2 947.2 827.3 953.1C827.4 958.9 827.4 964.7 827.3 970.5C827.2 976.4 826.6 985.1 826.5 988M607.3 681C610 680.9 618.3 680.4 623.8 680.3C629.3 680.2 634.8 680 640.3 680.6C645.7 681.1 651.2 683.8 656.7 683.7C662.2 683.5 667.8 679.8 673.3 679.6C678.8 679.4 684.2 682.7 689.7 682.5C695.2 682.4 700.8 678.3 706.3 678.7C711.8 679 717.1 683.9 722.6 684.6C728.1 685.4 733.6 683.3 739.2 683.1C744.7 683 750.1 683.5 755.6 683.6C761.1 683.7 766.6 683.7 772.1 683.7C777.6 683.7 783.2 682.5 788.6 683.3C794.1 684.1 799.5 687.9 805 688.4C810.5 689 816 686.4 821.5 686.4C827 686.4 835.2 688.3 838 688.7M676.3 680.8C679.1 681 687.7 680.9 693.3 681.8C699 682.8 704.4 686.3 710.1 686.5C715.8 686.7 721.8 682.9 727.5 683C733.1 683.1 738.6 686.9 744.3 687.1C749.9 687.4 755.9 684.2 761.6 684.5C767.2 684.8 772.7 687.7 778.4 688.8C784 689.9 789.6 690.5 795.3 690.8C801 691.1 809.6 690.6 812.4 690.6M655.3 679.5C658.2 679.9 666.9 681.8 672.7 682C678.6 682.2 684.5 680.9 690.4 680.6C696.3 680.4 702.2 679.5 708 680.3C713.8 681 719.5 684.6 725.4 685.1C731.2 685.6 737.2 682.7 743.1 683.1C748.9 683.4 754.6 686.5 760.5 687.2C766.3 687.8 772.2 687.7 778.1 687.1C784 686.5 789.9 683.5 795.8 683.6C801.7 683.7 807.4 687.3 813.2 687.6C819.1 687.9 825 685.4 830.9 685.5C836.8 685.5 842.6 687.2 848.4 688C854.2 688.8 860 690.2 865.9 690.2C871.8 690.3 880.6 688.6 883.6 688.3M608.7 681.9C611.6 682.1 620.4 683.1 626.2 683.4C632.1 683.7 637.9 683.9 643.8 683.6C649.6 683.3 655.4 681.6 661.3 681.5C667.1 681.4 673 683.5 678.8 683.1C684.7 682.7 690.4 678.8 696.3 678.9C702.1 679 708 683.6 713.9 684C719.7 684.3 725.5 680.8 731.4 680.8C737.2 680.9 743.1 684.1 749 684.1C754.8 684.2 760.6 681.9 766.4 681.1C772.2 680.3 778.1 679.5 783.9 679.3C789.7 679.1 795.6 680.2 801.4 679.8C807.3 679.4 813.1 676.7 818.9 676.9C824.8 677.1 830.7 680.9 836.5 680.9C842.4 680.9 848.1 677.4 854 677C859.8 676.6 865.7 678.8 871.5 678.5C877.4 678.2 886.1 676 889 675.5M645.2 681.4C648 681.5 656.3 682.5 661.8 682.3C667.4 682.2 673 679.9 678.5 680.6C684.1 681.4 689.5 686 695.1 686.7C700.6 687.3 706.2 684.7 711.8 684.6C717.3 684.5 722.9 686.1 728.4 686.2C734 686.4 739.5 686 745.1 685.5C750.7 685.1 756.3 682.8 761.8 683.3C767.4 683.9 772.8 688.5 778.4 688.9C783.9 689.3 789.5 686.1 795.1 685.8C800.7 685.4 806.2 686.9 811.7 686.9C817.3 686.9 825.7 685.9 828.4 685.7M631.4 677.8C634.2 677.9 642.5 678.1 648 678C653.5 678 659.1 678 664.6 677.8C670.1 677.6 675.7 677.6 681.2 677C686.7 676.4 692.2 674 697.7 674.2C703.3 674.4 708.8 677.9 714.4 678.2C719.9 678.4 725.4 675.7 730.9 675.8C736.4 675.9 742 679.1 747.5 678.8C753.1 678.5 758.5 674.3 764.1 673.8C769.6 673.4 777.9 675.9 780.7 676.3M595.5 684.6C598.1 684 605.9 681.2 611.2 681.1C616.5 681 622 683.8 627.4 684.1C632.7 684.5 638 684.5 643.3 683.3C648.5 682 653.5 677.6 658.8 676.8C664 676 669.5 677.7 674.8 678.2C680.2 678.7 685.6 680.2 690.9 679.9C696.2 679.6 701.4 677 706.6 676.3C711.9 675.7 719.9 675.9 722.6 675.9M679.3 686C682.2 686 691 685.9 696.8 685.9C702.6 685.8 708.5 685.9 714.3 685.7C720.1 685.4 725.9 684 731.7 684.5C737.6 685 743.5 688.6 749.4 688.6C755.2 688.7 760.9 684.9 766.7 684.9C772.6 684.8 778.5 688.7 784.3 688.2C790.2 687.7 795.8 682.7 801.6 681.9C807.4 681.2 813.4 683.9 819.2 683.8C825 683.7 830.8 681.7 836.6 681.4C842.4 681.2 848.3 682 854.1 682.1C859.9 682.2 865.8 682.5 871.6 682.1C877.4 681.6 886.1 679.6 889 679.1M717.3 681.9C720.1 681.8 728.7 681.3 734.5 681.3C740.2 681.3 745.9 681.4 751.6 681.8C757.3 682.2 763 684.5 768.8 683.9C774.5 683.4 780.3 679 786.1 678.7C791.8 678.4 797.4 682 803.2 682.3C808.9 682.6 814.7 680.3 820.4 680.4C826.1 680.5 831.8 682.2 837.5 683.1C843.2 684 848.9 685.9 854.6 685.9C860.4 685.9 866.1 683.2 871.9 683.1C877.6 683.1 886.1 685.2 889 685.6M646.7 684.5C649.5 684.3 657.7 683.4 663.2 683.4C668.7 683.4 674.2 684.4 679.7 684.6C685.2 684.8 690.7 684.9 696.2 684.7C701.7 684.4 707.2 682.2 712.7 682.9C718.1 683.5 723.6 688.2 729.1 688.7C734.6 689.1 740.1 686.4 745.6 685.5C751.1 684.6 756.6 683.3 762.1 683.3C767.6 683.4 773.1 685.9 778.6 685.8C784.1 685.8 789.6 683.2 795.1 683.2C800.6 683.1 806 685.4 811.5 685.6C817 685.7 825.3 684.4 828 684.1M662.4 679C665.3 679.1 674.1 680.3 679.9 679.8C685.7 679.2 691.4 675.6 697.2 675.7C703.1 675.8 709.1 680.4 714.9 680.5C720.7 680.6 726.4 676.8 732.2 676.3C738 675.8 743.9 677.8 749.7 677.7C755.6 677.5 764.2 675.8 767.1 675.4M664.2 686.3C667.1 686.2 675.8 685 681.6 685.4C687.3 685.7 693 688.4 698.8 688.4C704.5 688.4 710.4 685.5 716.2 685.4C721.9 685.3 727.6 686.9 733.4 687.7C739.1 688.4 744.9 689.6 750.6 689.9C756.4 690.1 762.2 688.7 768 689.2C773.7 689.8 779.4 693.4 785.1 693.2C790.9 693 796.8 688.2 802.6 687.9C808.4 687.5 814 691.1 819.8 691.3C825.6 691.5 831.4 689.1 837.2 689.2C842.9 689.2 848.6 691 854.4 691.6C860.1 692.3 865.9 692.9 871.7 692.8C877.4 692.8 886.1 691.5 889 691.2M645.8 679.8C648.5 679.8 656.5 680.5 661.8 679.8C667.2 679 672.5 675.3 677.9 675.2C683.2 675.2 688.6 678.7 693.9 679.4C699.3 680.2 704.6 680.1 710 679.6C715.3 679.1 720.7 676.7 726 676.6C731.4 676.5 736.7 679.1 742 679.2C747.4 679.2 752.7 677 758.1 677C763.4 677 768.8 678.5 774.1 679.1C779.5 679.7 787.5 680.3 790.2 680.5M645 683.8C647.9 683.6 656.7 682 662.5 682.6C668.3 683.1 674 686.5 679.8 686.9C685.6 687.3 691.5 685 697.3 684.9C703.1 684.8 708.9 685.9 714.7 686.2C720.5 686.4 726.3 687 732.1 686.4C738 685.8 743.9 682.4 749.7 682.6C755.5 682.9 761.2 687.4 767 688C772.8 688.6 778.6 686.3 784.5 686.4C790.3 686.5 796 688.1 801.8 688.7C807.6 689.4 813.4 690.6 819.2 690.2C825.1 689.8 831 686.3 836.8 686.2C842.6 686.1 848.3 689.2 854.1 689.6C859.9 690 865.8 688.4 871.6 688.4C877.4 688.5 886.1 689.9 889 690.2M669.7 682.3C672.5 682 680.9 681 686.5 680.8C692.1 680.6 697.8 681.7 703.4 681.1C709 680.5 714.6 677.8 720.2 677.4C725.8 677.1 731.5 678.8 737.1 678.9C742.7 679 748.4 678.1 754 678.3C759.6 678.4 765.3 680.1 770.9 680C776.5 679.9 782.1 678.3 787.7 677.7C793.3 677.2 799 677 804.6 676.7C810.2 676.5 815.8 676.1 821.5 676.3C827.1 676.4 832.7 677.2 838.4 677.6C844 678 849.6 678.7 855.3 678.8C860.9 678.8 866.5 678 872.1 677.8C877.7 677.6 886.2 677.7 889 677.7M618.6 716.1C621.4 715.6 629.8 713.2 635.4 713.2C641.1 713.3 646.8 716.6 652.4 716.5C658.1 716.4 663.6 713 669.3 712.7C674.9 712.4 680.6 715.2 686.2 714.7C691.8 714.1 697.4 709.8 703 709.3C708.6 708.7 714.3 711.3 720 711.5C725.6 711.7 731.2 710.3 736.8 710.4C742.5 710.5 748.2 711.8 753.8 711.9C759.4 711.9 765.1 711.6 770.7 710.9C776.3 710.2 781.9 708.1 787.5 707.8C793.1 707.6 798.8 709.4 804.5 709.4C810.1 709.3 815.7 707.1 821.3 707.5C827 707.9 832.7 711.7 838.3 711.8C844 711.8 849.5 708.3 855.2 708C860.8 707.7 866.5 710 872.1 710C877.8 709.9 886.2 708.1 889 707.8M566.4 697.1C569.1 696.8 577.4 695.2 583 695.2C588.5 695.2 594.1 696.9 599.6 697.1C605.2 697.2 610.7 695.8 616.2 696C621.8 696.1 627.3 698.3 632.9 697.9C638.4 697.4 643.9 693.7 649.5 693.3C655 693 660.6 695.7 666.1 695.7C671.6 695.7 677.2 692.9 682.7 693.4C688.2 693.8 693.8 698.3 699.3 698.4C704.9 698.5 710.4 694.3 715.9 694C721.5 693.7 727 696.7 732.6 696.4C738.1 696.1 743.6 692.1 749.2 692.2C754.7 692.4 760.3 697 765.8 697.5C771.4 697.9 776.9 695 782.4 695C788 695.1 793.5 697.8 799.1 697.8C804.6 697.8 812.9 695.6 815.7 695.2M603.4 693.4C606.3 693 615 691.5 620.8 691.4C626.6 691.3 632.4 692.7 638.3 692.8C644.1 693 649.9 692.1 655.7 692.4C661.5 692.7 667.3 694.1 673.1 694.4C678.9 694.7 684.8 694.5 690.6 694.2C696.4 693.9 702.2 693 708 692.7C713.8 692.3 719.6 692.6 725.4 692.2C731.2 691.8 737 690.1 742.8 690.2C748.6 690.4 754.4 693 760.3 693.2C766.1 693.4 771.9 691.2 777.7 691.4C783.5 691.5 789.3 694.3 795.1 694C800.9 693.7 806.7 690.1 812.5 689.6C818.3 689.1 824.1 691.2 829.9 691.1C835.7 691 844.4 689.2 847.3 688.9M582.8 682.5C585.6 682.8 593.9 684.3 599.5 684C605.1 683.6 610.7 680.4 616.3 680.3C621.8 680.2 627.4 683.3 633 683.4C638.5 683.5 644.1 680.8 649.7 681C655.3 681.2 660.8 684.1 666.4 684.7C672 685.3 677.6 685.3 683.1 684.7C688.7 684 694.3 681.1 699.9 681C705.5 680.9 711 684.2 716.6 684.2C722.2 684.2 727.8 680.9 733.4 681.2C738.9 681.5 744.5 685.5 750 686.1C755.6 686.6 761.2 684.8 766.8 684.4C772.4 683.9 778 683.2 783.5 683.2C789.1 683.2 797.5 684.2 800.2 684.4M596 690.1C598.9 690.4 607.6 691.8 613.4 691.5C619.2 691.2 625 688 630.8 688.2C636.6 688.3 642.3 691.5 648.1 692.4C653.9 693.3 659.6 693.8 665.4 693.7C671.2 693.7 677 691.7 682.8 692C688.6 692.2 694.3 695.6 700.1 695.5C705.9 695.4 711.8 692.2 717.6 691.5C723.4 690.9 729.2 691.2 734.9 691.6C740.7 691.9 749.4 693.4 752.3 693.8M646.9 680.9C649.8 680.8 658.4 680.4 664.1 680.4C669.9 680.4 675.6 680.6 681.3 681.1C687.1 681.6 692.9 683.7 698.6 683.2C704.3 682.7 710 678.3 715.7 677.9C721.4 677.5 727.2 680.5 732.9 680.7C738.7 680.8 744.4 678.9 750.1 678.6C755.8 678.4 761.6 678.7 767.3 679.3C773.1 679.9 778.8 682.7 784.6 682.4C790.3 682 795.9 677.7 801.7 677.1C807.4 676.5 813.2 678.8 818.9 678.6C824.6 678.5 830.3 676.6 836.1 676.2C841.8 675.8 850.4 676.2 853.3 676.2M685.2 680.8C687.8 680.8 695.6 681.2 700.8 681C706.1 680.7 711.3 679 716.5 679.1C721.8 679.1 726.9 680.8 732.1 681.1C737.3 681.4 742.6 680.8 747.8 680.7C753 680.6 758.2 679.9 763.4 680.5C768.6 681 773.8 683.6 779 684C784.2 684.5 789.4 683.3 794.7 683.2C799.9 683 807.7 683.3 810.3 683.4M679.6 723.3C682.5 723.3 691.2 723.7 697 723.4C702.9 723 708.6 722 714.4 721.1C720.2 720.2 725.9 717.9 731.8 718C737.6 718.1 743.6 721.8 749.4 721.8C755.3 721.9 761 718.5 766.8 718.2C772.6 717.9 778.5 719.9 784.3 720C790.2 720 796 719.7 801.8 718.7C807.6 717.7 813.2 714 819 713.7C824.8 713.3 830.8 716.7 836.7 716.7C842.5 716.7 848.2 714.1 854 713.8C859.8 713.5 865.7 714.9 871.6 715.1C877.4 715.2 886.1 714.8 889 714.8M688.2 703C691 702.7 699.4 701.2 705 701.3C710.6 701.4 716.1 702.8 721.7 703.7C727.2 704.6 732.7 706.5 738.3 706.8C743.9 707.1 749.5 704.9 755.1 705.3C760.7 705.7 766.1 709.2 771.7 709.3C777.3 709.3 783 706 788.6 705.5C794.2 704.9 799.8 705.3 805.3 706.2C810.9 707.1 816.4 710.4 821.9 710.7C827.5 711 833.2 708 838.8 708C844.4 707.9 849.9 710.3 855.5 710.4C861 710.5 866.7 708.9 872.3 708.5C877.9 708.2 886.2 708.4 889 708.4M638.2 711.3C641.1 711.4 649.9 711.8 655.7 711.9C661.5 712 667.4 712.2 673.2 711.9C679.1 711.6 684.9 710.3 690.7 710C696.6 709.8 702.4 711.2 708.3 710.6C714.1 710 719.9 706.3 725.8 706.4C731.6 706.4 737.4 710.6 743.3 710.9C749.1 711.1 755 707.4 760.8 707.8C766.6 708.2 772.5 713.1 778.3 713.4C784.2 713.6 790 709.6 795.8 709.4C801.7 709.2 807.5 711.8 813.3 711.9C819.2 712 825 709.9 830.9 709.9C836.7 709.9 845.5 711.6 848.4 711.9M634.7 698.2C637.6 697.9 646.3 696.2 652.1 696.8C657.9 697.4 663.5 701.2 669.3 701.8C675.1 702.3 681 699.6 686.7 700C692.5 700.5 698.2 704.2 704 704.4C709.7 704.6 715.6 701.5 721.4 701.2C727.2 700.8 733 702 738.8 702.3C744.5 702.6 750.3 702.7 756.1 702.9C761.9 703.1 767.7 702.6 773.5 703.3C779.2 704.1 784.9 707.3 790.7 707.4C796.5 707.5 802.4 704.2 808.2 704.1C814 704 819.7 707 825.4 706.9C831.2 706.7 837.1 703.3 842.9 703.2C848.7 703 857.3 705.5 860.2 705.9M641.8 980.1C644.6 980.3 653 980.8 658.6 981.3C664.2 981.8 669.8 983.1 675.4 983C681 982.8 686.7 980.3 692.4 980.4C698 980.4 703.5 983.4 709.1 983.3C714.7 983.3 720.4 980.6 726.1 980.2C731.7 979.8 737.3 979.7 742.9 980.8C748.5 981.8 754 985.9 759.6 986.5C765.2 987.1 770.9 984.2 776.5 984.2C782.1 984.1 787.7 985.6 793.3 986.1C798.9 986.6 807.3 986.9 810.1 987M708.2 974.1C711.1 973.8 719.8 972.3 725.5 972.8C731.3 973.3 737 976.9 742.8 977.1C748.6 977.3 754.4 974.7 760.2 974.1C766 973.6 771.7 973.5 777.5 973.7C783.3 973.9 789 975.6 794.8 975.2C800.6 974.8 806.4 971.4 812.2 971.5C818 971.7 823.7 975.4 829.5 976.3C835.2 977.2 841 977 846.8 977C852.5 976.9 861.2 976.1 864.1 975.9M558.3 985.1C561.1 985 569.7 984.9 575.4 984.7C581 984.5 586.7 983.7 592.4 983.8C598.1 984 603.9 985.8 609.5 985.7C615.2 985.6 620.9 983.6 626.5 983.2C632.2 982.8 638 984.1 643.6 983.4C649.3 982.8 654.9 979.7 660.6 979.5C666.3 979.3 672.1 982.2 677.7 982.3C683.4 982.5 689.1 980.1 694.8 980.3C700.5 980.5 706.3 983.8 711.9 983.5C717.6 983.2 723.2 979.2 728.9 978.6C734.5 978.1 740.3 980.6 746 980.2C751.7 979.8 757.3 976.2 762.9 976.2C768.6 976.2 774.4 979.9 780.1 980.1C785.8 980.3 791.4 977.5 797.1 977.4C802.8 977.3 808.6 979.6 814.3 979.4C820 979.1 828.4 976.7 831.3 976.2M599.5 977.2C602.4 977.3 611.1 977.8 616.9 977.7C622.7 977.6 628.5 976.2 634.3 976.5C640.2 976.9 646.1 980.1 651.9 979.9C657.7 979.7 663.4 976 669.1 975.5C674.9 974.9 680.8 977 686.6 976.5C692.4 976.1 701 973.4 703.9 972.8M595.1 986.1C598 986.1 606.6 986.3 612.4 986.3C618.1 986.2 623.9 985.4 629.7 985.7C635.4 986 641.2 988.1 646.9 988.1C652.7 988.1 658.5 986 664.2 985.5C670 985.1 675.8 984.5 681.5 985.3C687.3 986.2 693 990 698.8 990.7C704.5 991.3 710.3 989.6 716.1 989C721.9 988.5 727.6 987.1 733.4 987.2C739.1 987.3 744.9 989.9 750.7 989.8C756.4 989.7 762.2 987.3 768 986.7C773.7 986.1 779.5 985.5 785.3 986.2C791 986.9 796.8 990.5 802.5 991C808.3 991.5 814.1 989.7 819.8 989C825.6 988.2 831.4 986.8 837.1 986.8C842.9 986.7 848.6 988.5 854.4 988.5C860.2 988.4 865.9 986.7 871.7 986.3C877.5 986 886.1 986.4 889 986.4M644 978.7C646.9 978.9 655.6 980.2 661.4 980.3C667.2 980.3 673.1 978.5 678.9 978.8C684.6 979.2 690.4 982.5 696.2 982.4C702 982.3 707.9 978.7 713.7 978.2C719.5 977.6 725.3 978.5 731.1 979.2C736.9 980 742.6 982.5 748.4 982.8C754.2 983.1 760.1 980.8 765.9 980.8C771.7 980.8 780.3 982.6 783.2 982.9M640.1 985.7C643 986 651.6 988.1 657.3 987.6C663 987 668.6 982.9 674.3 982.4C680 981.8 685.8 984.8 691.5 984.4C697.2 984.1 702.8 980.7 708.5 980.5C714.3 980.3 720.1 982.5 725.8 983C731.5 983.5 737.3 983.9 743 983.5C748.7 983.2 754.3 981.2 760.1 980.8C765.8 980.5 774.4 981.2 777.2 981.2M658.6 979.2C661.5 978.7 670.1 976 676 976C681.8 975.9 687.8 978.9 693.7 978.9C699.5 978.9 705.2 975.8 711.1 975.9C716.9 975.9 722.9 979.2 728.8 979.3C734.6 979.5 740.4 977.3 746.2 976.6C752 975.9 757.9 975.3 763.7 975C769.6 974.7 775.4 975.3 781.3 974.7C787.1 974.1 792.8 971.2 798.7 971.3C804.5 971.4 810.5 975.3 816.4 975.3C822.2 975.4 827.9 971.9 833.8 971.7C839.6 971.4 845.6 974.1 851.4 973.9C857.3 973.7 865.9 971.1 868.8 970.5M689.3 982.6C692.1 982.4 700.4 981.1 706 981.6C711.5 982.2 717.1 985.7 722.6 985.9C728.2 986.2 733.7 983.7 739.3 983.3C744.8 982.9 750.4 983.5 755.9 983.7C761.4 983.8 767 984.6 772.5 984.1C778.1 983.6 783.6 980.5 789.2 980.9C794.7 981.3 800.3 985.8 805.8 986.5C811.4 987.2 816.9 985.7 822.4 985C828 984.2 833.5 982.2 839.1 982.1C844.6 982 850.2 984.4 855.7 984.3C861.3 984.3 866.8 982 872.4 981.9C877.9 981.8 886.2 983.3 889 983.6M592.4 984.1C595.1 984.1 603.2 983.8 608.7 984.2C614.1 984.6 619.5 986.5 624.9 986.3C630.3 986.2 635.8 983.7 641.3 983.5C646.7 983.2 652.1 985.2 657.5 985C662.9 984.8 668.4 981.8 673.8 982.4C679.3 982.9 684.6 987.8 690 988.4C695.4 988.9 700.9 985.6 706.4 985.4C711.8 985.3 719.9 987.2 722.6 987.5M693.3 978C696.1 977.7 704.2 976.1 709.6 976.2C715.1 976.3 720.5 978.6 726 978.6C731.4 978.6 736.8 976 742.2 976.3C747.7 976.6 753.2 980.5 758.6 980.5C764.1 980.4 769.4 976.8 774.9 976C780.3 975.1 785.7 975 791.2 975.3C796.6 975.6 802.1 977.7 807.5 977.8C813 977.8 818.3 975.3 823.8 975.4C829.2 975.5 834.7 978.8 840.2 978.4C845.6 978 850.9 973.7 856.4 973C861.8 972.4 867.3 974.2 872.7 974.4C878.1 974.7 886.3 974.4 889 974.4M677.2 983.4C679.9 983.4 688.1 983.7 693.5 983.2C698.9 982.6 704.1 980.3 709.6 980C715 979.7 720.6 982 726 981.3C731.3 980.6 736.5 977 741.9 976.1C747.3 975.2 752.7 975.5 758.2 976C763.7 976.5 769.3 979.6 774.7 979.3C780.1 979 785.3 975.1 790.7 974.2C796.1 973.4 804.3 974.1 807 974.1M624.7 969.6C627.5 970 635.8 972.1 641.3 972.1C646.8 972.1 652.3 970 657.8 969.7C663.3 969.4 668.8 970.4 674.3 970.1C679.8 969.9 685.3 968.5 690.8 968.2C696.3 967.9 701.8 967.6 707.3 968.2C712.8 968.7 718.4 971.7 723.9 971.6C729.4 971.5 734.8 968 740.3 967.7C745.8 967.5 751.4 970.6 756.9 970.1C762.4 969.6 767.8 964.7 773.3 964.7C778.8 964.6 784.4 969.4 789.9 969.9C795.4 970.4 800.9 967.9 806.4 967.7C811.9 967.5 817.4 968.9 823 968.7C828.5 968.5 833.9 967.1 839.4 966.6C844.9 966 850.4 965.2 855.9 965.4C861.5 965.6 867 967.8 872.5 968C878 968.1 886.2 966.6 889 966.3M630.3 943.6C633.2 944 641.9 945.8 647.8 945.8C653.6 945.8 659.4 943.7 665.3 943.6C671.1 943.6 676.9 945.6 682.7 945.5C688.5 945.3 694.4 942.2 700.2 942.5C706 942.7 711.8 946.6 717.6 947C723.4 947.4 729.3 944.5 735.1 944.9C740.9 945.3 746.7 949.4 752.5 949.4C758.4 949.3 764.2 944.9 770.1 944.6C775.9 944.3 781.7 947.7 787.5 947.4C793.3 947.2 799.2 942.9 805 943C810.8 943 816.6 947.3 822.4 947.6C828.3 947.9 834.1 944.9 839.9 945C845.8 945.1 851.6 948.2 857.4 948.3C863.2 948.4 872 945.9 874.9 945.4M609.5 960.6C612.2 960.1 620.5 958.1 626 957.8C631.4 957.6 636.9 958.6 642.4 959C647.8 959.4 653.3 960.1 658.8 960.3C664.3 960.5 669.7 960 675.2 960.3C680.7 960.6 686.1 962.6 691.6 962.3C697.1 962 702.7 958.6 708.1 958.7C713.6 958.7 721.8 961.9 724.5 962.6M707.9 928C710.7 928.4 718.9 930 724.4 930C729.9 930.1 735.4 927.6 740.9 928.1C746.3 928.6 751.8 932.4 757.3 933C762.7 933.6 768.2 932.3 773.7 931.8C779.2 931.2 784.7 929.7 790.2 929.7C795.7 929.8 801.2 932.2 806.7 932.2C812.2 932.2 817.7 929.2 823.2 929.6C828.6 930.1 834.1 934.6 839.6 934.8C845.1 934.9 850.6 931.4 856.1 930.6C861.6 929.9 867.1 930.5 872.5 930.5C878 930.5 886.3 930.6 889 930.7M716.1 983.4C718.9 983.4 727.6 983.6 733.4 983.6C739.1 983.6 744.9 983.3 750.7 983.6C756.4 983.9 762.2 984.7 767.9 985.3C773.7 985.9 779.4 987 785.2 987.2C791 987.4 796.7 986.5 802.5 986.4C808.3 986.3 814 987.1 819.8 986.7C825.6 986.4 831.4 984.2 837.1 984.3C842.9 984.3 848.6 986.7 854.4 987C860.2 987.3 866 986 871.7 986.1C877.5 986.3 886.1 987.6 889 987.9M672 971C674.9 970.9 683.6 970.2 689.4 970.6C695.2 971 701.1 973.8 706.9 973.4C712.7 973.1 718.4 969.2 724.2 968.5C730 967.7 735.8 968.4 741.6 968.9C747.4 969.4 753.2 971.5 759 971.4C764.8 971.3 770.6 968.8 776.4 968.5C782.2 968.2 790.9 969.5 793.8 969.7M700 934.6C702.9 934.4 711.4 933.4 717.2 933.6C722.9 933.8 728.8 936.4 734.5 935.8C740.2 935.2 745.7 930.8 751.5 930.2C757.2 929.5 763 932 768.7 931.9C774.5 931.8 780.1 929.8 785.8 929.4C791.6 929 797.3 929.2 803.1 929.8C808.8 930.3 814.7 933 820.4 932.7C826.1 932.4 831.7 928.2 837.4 927.7C843.1 927.2 849 929.9 854.7 929.6C860.4 929.4 866 926.6 871.7 926.1C877.5 925.7 886.1 926.9 889 927.1M559.1 968.1C561.9 967.9 570.2 966.6 575.8 966.5C581.3 966.5 586.9 968.1 592.4 967.9C598 967.6 603.5 965 609.1 965.2C614.6 965.4 620.2 968.8 625.7 969C631.3 969.3 636.9 967.6 642.4 966.7C648 965.7 653.5 963.3 659.1 963.4C664.6 963.5 670.2 967 675.7 967.2C681.3 967.4 686.8 964.4 692.4 964.6C697.9 964.8 703.5 967.7 709 968.3C714.6 968.8 720.1 968.5 725.7 967.8C731.3 967.2 736.8 964.2 742.4 964.3C747.9 964.3 753.5 967.8 759 968.4C764.6 969 770.1 967.5 775.7 967.6C781.2 967.7 789.6 968.7 792.3 969M720.6 963.2C723.4 963.2 731.8 963 737.4 963.2C743.1 963.3 748.7 964.3 754.3 964.1C759.9 963.8 765.5 962.1 771.1 961.6C776.7 961.1 782.3 961.1 787.9 961C793.6 961 799.2 960.9 804.8 961.1C810.4 961.3 816.1 962 821.7 962.1C827.3 962.2 832.9 962.2 838.5 961.7C844.2 961.2 849.7 959.7 855.3 959.1C860.9 958.5 866.5 958.4 872.2 958.2C877.8 957.9 886.2 957.5 889 957.3M558.1 928.1C561 928.2 569.8 929 575.6 928.7C581.4 928.5 587.1 926.1 592.9 926.3C598.7 926.6 604.6 930.2 610.4 930.4C616.2 930.5 621.9 927.1 627.7 927.1C633.5 927.2 639.4 931 645.2 930.5C651 930.1 656.6 924.9 662.4 924.4C668.2 923.9 674.1 927.9 679.9 927.7C685.7 927.6 691.4 923.3 697.2 923.4C703 923.5 708.9 928.2 714.7 928.5C720.5 928.7 726.2 925 732 924.8C737.8 924.5 743.7 927.3 749.5 926.9C755.3 926.5 761 922.9 766.8 922.3C772.5 921.6 778.4 923.2 784.2 923.1C790 923 795.7 921.6 801.5 921.5C807.3 921.3 816 922 818.9 922.1M588 965.4C590.8 965.8 599.1 967.4 604.7 967.6C610.3 967.7 615.9 966.6 621.5 966.3C627 965.9 632.6 965.1 638.2 965.6C643.8 966.1 649.3 969 654.9 969.3C660.4 969.6 666 967 671.6 967.5C677.2 967.9 682.7 972 688.3 972C693.8 971.9 699.5 967.8 705.1 967.3C710.7 966.7 716.2 968.4 721.8 968.9C727.3 969.4 732.9 970.1 738.5 970.3C744 970.4 749.6 969.4 755.2 969.9C760.8 970.5 766.3 974 771.9 973.7C777.4 973.4 783.1 968.5 788.7 968C794.3 967.6 799.8 970.9 805.4 971.2C810.9 971.5 816.5 969.7 822.1 969.7C827.7 969.8 833.2 971.2 838.8 971.7C844.4 972.2 849.9 973 855.5 972.6C861.1 972.2 866.7 969.7 872.3 969.5C877.9 969.3 886.2 970.9 889 971.2M608 986C610.8 985.8 619.3 984.8 625 985.2C630.7 985.5 636.3 987.7 642 988C647.7 988.2 653.3 986.1 659 986.6C664.7 987.1 670.3 991.1 676 991C681.6 990.9 687.3 986.4 693 986.1C698.6 985.7 704.3 988.9 710 988.8C715.6 988.6 721.3 985.5 727 985.4C732.6 985.2 738.3 987.7 743.9 988.1C749.6 988.5 755.3 988.1 760.9 987.8C766.6 987.4 775.1 986.4 777.9 986.1M705.8 926.9C708.6 927.2 716.9 929.2 722.4 928.9C728 928.5 733.6 925 739.1 925C744.7 924.9 750.2 928.5 755.8 928.7C761.3 928.9 766.9 925.6 772.4 926.2C778 926.7 783.5 931.8 789 931.9C794.6 931.9 800.2 926.9 805.7 926.5C811.3 926.1 816.8 929.7 822.4 929.5C827.9 929.4 833.5 925.6 839.1 925.7C844.6 925.9 850.1 930.1 855.7 930.6C861.2 931.1 866.8 928.8 872.3 928.6C877.9 928.4 886.2 929.3 889 929.4M676 979.5C678.6 979.4 686.3 978.1 691.3 978.7C696.4 979.3 701.2 982 706.2 983.2C711.2 984.4 716.2 986 721.3 985.7C726.4 985.3 731.8 981 736.9 981.2C741.9 981.4 746.7 986.1 751.7 987C756.7 988 761.9 986.7 766.9 986.7C772 986.6 779.6 986.8 782.2 986.8M866.7 711.1L874 704.5L870.1 726.3L877.2 692.3L886.7 691.9M867.2 686.4L867.7 706.1L868.1 699.2L871.4 686L877.8 704M872.8 689.9L875.1 697.1L876.8 699.3L866.4 697.2L863.3 707.7L869.5 691.7L876.5 691.5M881.3 717.6L870.3 688L873.7 695.8L880.8 713.9L882 708.7L871.2 696.9M876.7 705.5L878.8 703.1L861.6 721.8L879.6 696.8L877 685.1L861.2 702L875.9 699.3M862.2 696.3L862.1 686.2L872 704.2L868.8 717.5L861 697.6L872.8 688.9L871.1 680.5M865 700L874.1 710.7L875.1 692L866.5 702.8M866.8 685.7L872.8 694.8L865.9 711.7L873.6 688.6L881.4 694.4L864.6 707.4M863.3 703L882.6 704.7L867.1 696.8L877.9 713.9L880.6 699.1L869.9 706.6L875.5 696.9M867.5 689.7L875.1 690L869.5 715.9L867.6 693L870.8 698.5M876.3 707.8L880.1 702.2L878.7 680.2L878.3 706.4L864.9 697.7M873.9 702.7L871.8 689.5L873 709.3L873.3 689.7L858 704.8M883.9 700L877.5 696.8L870.8 705.9L867.7 687.7L863.7 693L871.5 710.1M860.3 676.3L877.3 706.8L868.8 694.7L868.6 703.5M871.3 709.1L873.8 707.9L885.6 696.8L868.2 705L877.6 716.8L873.8 696.6L865.8 701.3M866.5 692.1L869.9 699.2L872.8 693.6L860.1 688.6L864.7 704.6M873.2 702.4L862.7 711.6L874.1 708.8L868.8 693.9L862.8 712.3M876.8 698.3L870.6 700.7L863.5 702.2L867.5 686.2L859.6 696.6M879 683.7L878.8 699.2L870.7 693.6L884 692.2L862.5 704.7M880.7 699.5L873.4 697.3L886.8 699.4L865.9 698L866.5 701.4L872.4 687.1L869 685.6M868.3 698.7L873.3 706.3L872.2 697.2L872.5 714L879.4 704.8L875.8 688.6M884.7 680.2L863.3 689.2L868.6 680L864.2 706L861 708.1M577.8 692.9L600.2 687.4L585.9 693.1L590.9 689.7L586.1 685.3L571.4 683L594.1 686.7M574.5 685.9L578.5 680.2L586.5 687.5L586.7 691.4M577.5 693.4L598.3 689.9L600.6 685.7L573.5 697.1M590.4 683.6L588.9 682.6L579 692.7L580.2 691.6M580.6 688.7L577.8 692.8L598.1 696.3L571.1 684.6L572.6 695.1M570.7 686.8L588.3 684.1L591.8 686.9L577.1 691.2L577.6 687.2L593 682.1M575.3 689.7L568.9 684.1L590.4 686.1L573.6 689.3L583.7 678.9L598.7 686.9M586.7 689L597.8 688.8L581.5 687.4L595.4 683.4L581.2 684.8M580.3 691.9L583.6 684.1L597.8 687.3L580.1 691.1L602.8 686.1L603 692.6M572.6 680.5L579.3 689.6L581.9 686.9L579.1 687.8L578.6 680.8M574.3 694.6L576.7 687.7L582.2 685L601.6 685.4L599.3 688.5L580.9 688.4M580.2 681.7L577.2 692.3L584.9 687.1L587 689.6L582.8 690.5L595.3 682.4L580.8 695.1M568.3 968.8L577.9 979.6L576.4 966.8L560.7 959.6L576.2 975.8L574 961.5M573.5 964.4L572.8 975.1L569.4 975.9L580.4 977.9L566.3 962.6L566.4 961.4L567.6 971.5M573 961.6L576.7 961.9L574.1 969.1L566.8 974.1L568.1 973.6M569.1 976.6L567.3 958.7L570.1 970L568.6 975.9M571.1 973.5L567 973.9L575.7 983.2L563.8 965.3L568.8 979.4L576.7 967.2M563.8 974L581.1 975.3L585.3 975.6L565.4 957.4L568.1 965.3M571.4 967.8L580.2 967.9L576.1 952.1L575.3 957L566 967.1L574 964.2L573.5 957M588.9 973L575.2 976.9L574.4 974.7L573.3 962.9M583.7 969.8L573.3 967.3L567.7 981.8L565.1 968.7M575.2 965.7L576.2 972.4L571.7 964.5L563.6 972.4L561.6 976.8L566.3 973.9L573.4 968.6M877.7 966.9L872.4 978.4L879.1 985.3L875.8 979.9L872.8 963.8L874.4 972.3L873.8 966.2M864.8 975.4L876.5 974.9L870 978.3L877.2 970.5M873.1 966.3L886.3 962L874 972.7L878.9 968.8L877.3 974.8L870.3 969.2L871.1 971M879.1 978.8L875.4 973.6L872.5 969.2L871.3 966.6L871.8 967.5L872.3 970.2M878 975.8L879.9 970.5L871.5 975.5L867.9 957.1L880.9 973.5L873 970.4M881.6 975L870.9 979.2L876.7 972.6L870.5 967.8M870.7 972L878.4 971.7L867.5 963.7L874.6 973.8L875.9 962.6M874.5 973.9L869.3 975.3L876.3 971.7L875.8 963.4L882.7 968.9M874 975.1L877.4 978L876.4 974.4L873 968.4L874 970.8L873 975.2M878.5 966.5L876.2 963.4L874.4 963.3L872.1 977.6L868.7 968.6L867.9 967.1L870.5 973.5" fill="none" stroke="#0a0a0a" stroke-width="2.15" stroke-linecap="round" stroke-linejoin="round"/>
</g>
<rect x="1127.5" y="785.75" width="65.5" height="202.75" fill="#808080"/>
<rect x="1226.25" y="853.75" width="65.75" height="134.75" fill="#549DFC"/>
<path d="M1094.5 640.25V993.5" stroke="#000" stroke-width="4.5" fill="none" stroke-linecap="round"/>
<path d="M1080 642.5H1094.5" stroke="#000" stroke-width="4.5" fill="none" stroke-linecap="round"/>
<text x="1065.5" y="655.96" font-size="39" text-anchor="end">2</text>
<path d="M1080 729H1094.5" stroke="#000" stroke-width="4.5" fill="none" stroke-linecap="round"/>
<text x="1065.5" y="742.46" font-size="39" text-anchor="end">1.5</text>
<path d="M1080 815.5H1094.5" stroke="#000" stroke-width="4.5" fill="none" stroke-linecap="round"/>
<text x="1065.5" y="828.96" font-size="39" text-anchor="end">1</text>
<path d="M1080 902H1094.5" stroke="#000" stroke-width="4.5" fill="none" stroke-linecap="round"/>
<text x="1065.5" y="915.46" font-size="39" text-anchor="end">5</text>
<path d="M1080 988.5H1094.5" stroke="#000" stroke-width="4.5" fill="none" stroke-linecap="round"/>
<text x="1065.5" y="1001.96" font-size="39" text-anchor="end">0</text>
<path d="M1080 988.5H1327.5" stroke="#000" stroke-width="4.5" fill="none" stroke-linecap="round"/>
<path d="M1160.75 988.5V1003.5" stroke="#000" stroke-width="4.5" fill="none" stroke-linecap="round"/>
<path d="M1259.5 988.5V1003.5" stroke="#000" stroke-width="4.5" fill="none" stroke-linecap="round"/>
<path d="M1143.75 766.25H1177.75M1143.75 806.25H1177.75M1160.75 766.25V806.25" stroke="#000" stroke-width="4" fill="none" stroke-linecap="round"/>
<circle cx="1160.75" cy="723.25" r="5.45" fill="none" stroke="#000" stroke-width="4.6"/>
<circle cx="1153.75" cy="777" r="5.45" fill="none" stroke="#000" stroke-width="4.6"/>
<circle cx="1167.5" cy="777" r="5.45" fill="none" stroke="#000" stroke-width="4.6"/>
<circle cx="1160.75" cy="816.75" r="5.45" fill="none" stroke="#000" stroke-width="4.6"/>
<circle cx="1160.75" cy="837.5" r="5.45" fill="none" stroke="#000" stroke-width="4.6"/>
<path d="M1242.5 835.75H1276.5M1242.5 871.25H1276.5M1259.5 835.75V871.25" stroke="#000" stroke-width="4" fill="none" stroke-linecap="round"/>
<circle cx="1253" cy="821.25" r="5.45" fill="none" stroke="#000" stroke-width="4.6"/>
<circle cx="1265.5" cy="828.75" r="5.45" fill="none" stroke="#000" stroke-width="4.6"/>
<circle cx="1259.5" cy="898" r="5.45" fill="none" stroke="#000" stroke-width="4.6"/>
<circle cx="1259.5" cy="866.25" r="5.45" fill="#000" stroke="#000" stroke-width="4.6"/>
<path d="M1161.75 703V684.25H1264.5V703" stroke="#000" stroke-width="4.5" fill="none" stroke-linecap="round" stroke-linejoin="miter"/>
<text transform="translate(1210 670) scale(1 0.78)" font-size="39" text-anchor="middle" y="20.01">*</text>
<text x="1045" y="620" font-size="39">×10</text>
<text x="1105" y="590" font-size="27">5</text>
<text x="1159" y="1045.5" font-size="39" text-anchor="middle">ND</text>
<text x="1260" y="1045.5" font-size="39" text-anchor="middle">HFD</text>
<text transform="translate(1002.5 813.5) rotate(-90)" font-size="39" text-anchor="middle">Total distance (pixel)</text>
<rect x="1547.25" y="810" width="66" height="178.5" fill="#808080"/>
<rect x="1646.5" y="889.25" width="66.25" height="99.25" fill="#549DFC"/>
<path d="M1514 637.75V993.5" stroke="#000" stroke-width="4.5" fill="none" stroke-linecap="round"/>
<path d="M1499.75 640H1514" stroke="#000" stroke-width="4.5" fill="none" stroke-linecap="round"/>
<text x="1488" y="649.96" font-size="39" text-anchor="end">150</text>
<path d="M1499.75 756.2H1514" stroke="#000" stroke-width="4.5" fill="none" stroke-linecap="round"/>
<text x="1488" y="766.16" font-size="39" text-anchor="end">100</text>
<path d="M1499.75 872.3H1514" stroke="#000" stroke-width="4.5" fill="none" stroke-linecap="round"/>
<text x="1480.8" y="882.25" font-size="39" text-anchor="end">50</text>
<path d="M1499.75 988.5H1514" stroke="#000" stroke-width="4.5" fill="none" stroke-linecap="round"/>
<text x="1473.6" y="998.46" font-size="39" text-anchor="end">0</text>
<path d="M1499.75 988.5H1749" stroke="#000" stroke-width="4.5" fill="none" stroke-linecap="round"/>
<path d="M1580.25 988.5V1003.5" stroke="#000" stroke-width="4.5" fill="none" stroke-linecap="round"/>
<path d="M1679.75 988.5V1003.5" stroke="#000" stroke-width="4.5" fill="none" stroke-linecap="round"/>
<path d="M1563.25 782.5H1597.25M1563.25 836.25H1597.25M1580.25 782.5V836.25" stroke="#000" stroke-width="4" fill="none" stroke-linecap="round"/>
<circle cx="1580.25" cy="737.5" r="5.45" fill="none" stroke="#000" stroke-width="4.6"/>
<circle cx="1572.75" cy="783.75" r="5.45" fill="none" stroke="#000" stroke-width="4.6"/>
<circle cx="1587" cy="783.75" r="5.45" fill="none" stroke="#000" stroke-width="4.6"/>
<circle cx="1580.25" cy="862.5" r="5.45" fill="none" stroke="#000" stroke-width="4.6"/>
<circle cx="1580.25" cy="881.25" r="5.45" fill="none" stroke="#000" stroke-width="4.6"/>
<path d="M1662.75 865.75H1696.75M1662.75 911.25H1696.75M1679.75 865.75V911.25" stroke="#000" stroke-width="4" fill="none" stroke-linecap="round"/>
<circle cx="1679.75" cy="836.25" r="5.45" fill="none" stroke="#000" stroke-width="4.6"/>
<circle cx="1679.75" cy="945.75" r="5.45" fill="none" stroke="#000" stroke-width="4.6"/>
<circle cx="1679.75" cy="877.5" r="5.45" fill="#000" stroke="#000" stroke-width="4.6"/>
<circle cx="1679.75" cy="893.75" r="5.45" fill="#000" stroke="#000" stroke-width="4.6"/>
<text x="1581" y="1045.5" font-size="39" text-anchor="middle">ND</text>
<text x="1684" y="1045.5" font-size="39" text-anchor="middle">HFD</text>
<text transform="translate(1407.75 806) rotate(-90)" font-size="39" text-anchor="middle">Movements speed (pixel/s)</text>
<clipPath id="clipG"><rect x="143.6" y="1150" width="400" height="400"/></clipPath><g clip-path="url(#clipG)">
<path d="M148 1486.3L186.2 1345.1L226.6 1353.2L267 1388.8L307.4 1418.8L388.2 1433L469.3 1446.7" fill="none" stroke="#808080" stroke-width="5" stroke-linejoin="round"/>
<path d="M179.2 1336.5H193.2M179.2 1354H193.2M186.2 1336.5V1354" stroke="#808080" stroke-width="4" fill="none" stroke-linecap="round"/>
<path d="M219.6 1337.5H233.6M219.6 1368H233.6M226.6 1337.5V1368" stroke="#808080" stroke-width="4" fill="none" stroke-linecap="round"/>
<path d="M260 1382H274M260 1396H274M267 1382V1396" stroke="#808080" stroke-width="4" fill="none" stroke-linecap="round"/>
<circle cx="148" cy="1486.3" r="8.5" fill="#808080"/>
<circle cx="186.2" cy="1345.1" r="8.5" fill="#808080"/>
<circle cx="226.6" cy="1353.2" r="8.5" fill="#808080"/>
<circle cx="267" cy="1388.8" r="8.5" fill="#808080"/>
<circle cx="307.4" cy="1418.8" r="8.5" fill="#808080"/>
<circle cx="388.2" cy="1433" r="8.5" fill="#808080"/>
<circle cx="469.3" cy="1446.7" r="8.5" fill="#808080"/>
<path d="M148 1486.3L186.2 1325.3L226.6 1306.5L267 1307L307.4 1336.5L388.2 1384.7L469.3 1403" fill="none" stroke="#549DFC" stroke-width="5" stroke-linejoin="round"/>
<path d="M179.2 1318H193.2M179.2 1333H193.2M186.2 1318V1333" stroke="#549DFC" stroke-width="4" fill="none" stroke-linecap="round"/>
<path d="M219.6 1301H233.6M219.6 1312H233.6M226.6 1301V1312" stroke="#549DFC" stroke-width="4" fill="none" stroke-linecap="round"/>
<path d="M260 1291.8H274M260 1322.8H274M267 1291.8V1322.8" stroke="#549DFC" stroke-width="4" fill="none" stroke-linecap="round"/>
<path d="M300.4 1318.7H314.4M300.4 1354.3H314.4M307.4 1318.7V1354.3" stroke="#549DFC" stroke-width="4" fill="none" stroke-linecap="round"/>
<path d="M381.2 1359.3H395.2M381.2 1410H395.2M388.2 1359.3V1410" stroke="#549DFC" stroke-width="4" fill="none" stroke-linecap="round"/>
<path d="M462.3 1386.2H476.3M462.3 1420.3H476.3M469.3 1386.2V1420.3" stroke="#549DFC" stroke-width="4" fill="none" stroke-linecap="round"/>
<rect x="139.5" y="1477.8" width="17" height="17" fill="#549DFC"/>
<rect x="177.7" y="1316.8" width="17" height="17" fill="#549DFC"/>
<rect x="218.1" y="1298" width="17" height="17" fill="#549DFC"/>
<rect x="258.5" y="1298.5" width="17" height="17" fill="#549DFC"/>
<rect x="298.9" y="1328" width="17" height="17" fill="#549DFC"/>
<rect x="379.7" y="1376.2" width="17" height="17" fill="#549DFC"/>
<rect x="460.8" y="1394.5" width="17" height="17" fill="#549DFC"/>
</g>
<path d="M145.8 1193.55V1539" stroke="#000" stroke-width="4.5" fill="none" stroke-linecap="round"/>
<path d="M131.5 1195.8H145.8" stroke="#000" stroke-width="4.5" fill="none" stroke-linecap="round"/>
<text x="118.5" y="1206.75" font-size="39" text-anchor="end">40</text>
<path d="M131.5 1280.3H145.8" stroke="#000" stroke-width="4.5" fill="none" stroke-linecap="round"/>
<text x="118.5" y="1291.25" font-size="39" text-anchor="end">30</text>
<path d="M131.5 1364.8H145.8" stroke="#000" stroke-width="4.5" fill="none" stroke-linecap="round"/>
<text x="118.5" y="1375.75" font-size="39" text-anchor="end">20</text>
<path d="M131.5 1449.4H145.8" stroke="#000" stroke-width="4.5" fill="none" stroke-linecap="round"/>
<text x="118.5" y="1460.36" font-size="39" text-anchor="end">10</text>
<path d="M131.5 1534H145.8" stroke="#000" stroke-width="4.5" fill="none" stroke-linecap="round"/>
<text x="112" y="1544.95" font-size="39" text-anchor="end">0</text>
<path d="M131.5 1534H498" stroke="#000" stroke-width="4.5" fill="none" stroke-linecap="round"/>
<path d="M145.8 1534V1550" stroke="#000" stroke-width="4.5" fill="none" stroke-linecap="round"/>
<path d="M199.7 1534V1550" stroke="#000" stroke-width="4.5" fill="none" stroke-linecap="round"/>
<path d="M253.6 1534V1550" stroke="#000" stroke-width="4.5" fill="none" stroke-linecap="round"/>
<path d="M307.5 1534V1550" stroke="#000" stroke-width="4.5" fill="none" stroke-linecap="round"/>
<path d="M361.4 1534V1550" stroke="#000" stroke-width="4.5" fill="none" stroke-linecap="round"/>
<path d="M415.3 1534V1550" stroke="#000" stroke-width="4.5" fill="none" stroke-linecap="round"/>
<path d="M469.3 1534V1550" stroke="#000" stroke-width="4.5" fill="none" stroke-linecap="round"/>
<text x="134" y="1590.5" font-size="39" text-anchor="middle">0</text>
<text x="191" y="1590.5" font-size="39" text-anchor="middle">20</text>
<text x="245" y="1590.5" font-size="39" text-anchor="middle">40</text>
<text x="306" y="1590.5" font-size="39" text-anchor="middle">60</text>
<text x="358.5" y="1590.5" font-size="39" text-anchor="middle">80</text>
<text x="411" y="1590.5" font-size="39" text-anchor="middle">100</text>
<text x="481" y="1590.5" font-size="39" text-anchor="middle">120</text>
<text x="333" y="1633.5" font-size="39" text-anchor="middle">Time (min)</text>
<text transform="translate(55.5 1368) rotate(-90)" font-size="39" text-anchor="middle">Blood glucose (mmol/L)</text>
<line x1="370" y1="1208.3" x2="410" y2="1208.3" stroke="#808080" stroke-width="3.2" stroke-linecap="butt"/>
<circle cx="388.8" cy="1208.3" r="7.6" fill="#808080"/>
<line x1="370" y1="1255" x2="410" y2="1255" stroke="#549DFC" stroke-width="3.2" stroke-linecap="butt"/>
<rect x="382" y="1248" width="14.5" height="14" fill="#549DFC"/>
<text x="425" y="1216.5" font-size="38">ND</text>
<text x="425" y="1263" font-size="38">HFD</text>
<text transform="translate(226.9 1262) rotate(-90) scale(1 0.78)" font-size="39" text-anchor="middle" y="20.01">***</text>
<text transform="translate(267 1273) scale(1 0.78)" font-size="39" text-anchor="middle" y="20.01">*</text>
<text transform="translate(306.25 1296.25) scale(1 0.78)" font-size="39" text-anchor="middle" y="20.01">*</text>
<rect x="665.3" y="1380.7" width="66" height="153.3" fill="#808080"/>
<rect x="764.3" y="1317.2" width="66.1" height="216.8" fill="#549DFC"/>
<path d="M632.3 1185.95V1539" stroke="#000" stroke-width="4.5" fill="none" stroke-linecap="round"/>
<path d="M618 1188.2H632.3" stroke="#000" stroke-width="4.5" fill="none" stroke-linecap="round"/>
<text x="603" y="1198.15" font-size="39" text-anchor="end">4</text>
<path d="M618 1274.6H632.3" stroke="#000" stroke-width="4.5" fill="none" stroke-linecap="round"/>
<text x="603" y="1285.05" font-size="39" text-anchor="end">3</text>
<path d="M618 1361.1H632.3" stroke="#000" stroke-width="4.5" fill="none" stroke-linecap="round"/>
<text x="603" y="1372.05" font-size="39" text-anchor="end">2</text>
<path d="M618 1447.5H632.3" stroke="#000" stroke-width="4.5" fill="none" stroke-linecap="round"/>
<text x="603" y="1458.45" font-size="39" text-anchor="end">1</text>
<path d="M618 1534H632.3" stroke="#000" stroke-width="4.5" fill="none" stroke-linecap="round"/>
<text x="603" y="1546.45" font-size="39" text-anchor="end">0</text>
<path d="M618 1534H864" stroke="#000" stroke-width="4.5" fill="none" stroke-linecap="round"/>
<path d="M698.3 1534V1549" stroke="#000" stroke-width="4.5" fill="none" stroke-linecap="round"/>
<path d="M797.4 1534V1549" stroke="#000" stroke-width="4.5" fill="none" stroke-linecap="round"/>
<path d="M681.3 1374.6H715.3M681.3 1386.2H715.3M698.3 1374.6V1386.2" stroke="#000" stroke-width="4" fill="none" stroke-linecap="round"/>
<circle cx="698.3" cy="1372" r="5.45" fill="none" stroke="#000" stroke-width="4.6"/>
<circle cx="690.7" cy="1382.2" r="5.45" fill="none" stroke="#000" stroke-width="4.6"/>
<circle cx="705" cy="1388.8" r="5.45" fill="none" stroke="#000" stroke-width="4.6"/>
<path d="M780.4 1301H814.4M780.4 1333H814.4M797.4 1301V1333" stroke="#000" stroke-width="4" fill="none" stroke-linecap="round"/>
<circle cx="797.4" cy="1251.7" r="5.45" fill="none" stroke="#000" stroke-width="4.6"/>
<circle cx="789.7" cy="1327.3" r="5.45" fill="none" stroke="#000" stroke-width="4.6"/>
<circle cx="804" cy="1328.9" r="5.45" fill="none" stroke="#000" stroke-width="4.6"/>
<circle cx="789.7" cy="1339" r="5.45" fill="none" stroke="#000" stroke-width="4.6"/>
<circle cx="802.4" cy="1345" r="5.45" fill="none" stroke="#000" stroke-width="4.6"/>
<path d="M698.3 1224V1206H801V1224" stroke="#000" stroke-width="4.5" fill="none" stroke-linecap="round" stroke-linejoin="miter"/>
<text transform="translate(748 1190) scale(1 0.78)" font-size="39" text-anchor="middle" y="20.01">*</text>
<text x="694.5" y="1592.5" font-size="39" text-anchor="middle">ND</text>
<text x="796.5" y="1592.5" font-size="39" text-anchor="middle">HFD</text>
<text transform="translate(558.7 1345) rotate(-90)" font-size="39" text-anchor="middle">AUC (X1000)</text>
<clipPath id="clipH"><rect x="1048.8" y="1150" width="400" height="400"/></clipPath><g clip-path="url(#clipH)">
<path d="M1051 1276.9L1091.2 1403.8L1131.4 1473.7L1171.6 1484.5L1211.8 1482L1292.2 1464.8L1372.4 1461.4" fill="none" stroke="#808080" stroke-width="5" stroke-linejoin="round"/>
<path d="M1044 1252H1058M1044 1302H1058M1051 1252V1302" stroke="#808080" stroke-width="4" fill="none" stroke-linecap="round"/>
<path d="M1084.2 1371.3H1098.2M1084.2 1436.8H1098.2M1091.2 1371.3V1436.8" stroke="#808080" stroke-width="4" fill="none" stroke-linecap="round"/>
<path d="M1124.4 1461.4H1138.4M1124.4 1487.5H1138.4M1131.4 1461.4V1487.5" stroke="#808080" stroke-width="4" fill="none" stroke-linecap="round"/>
<path d="M1365.4 1453H1379.4M1365.4 1470H1379.4M1372.4 1453V1470" stroke="#808080" stroke-width="4" fill="none" stroke-linecap="round"/>
<circle cx="1051" cy="1276.9" r="8" fill="#808080"/>
<circle cx="1091.2" cy="1403.8" r="8" fill="#808080"/>
<circle cx="1131.4" cy="1473.7" r="8" fill="#808080"/>
<circle cx="1171.6" cy="1484.5" r="8" fill="#808080"/>
<circle cx="1211.8" cy="1482" r="8" fill="#808080"/>
<circle cx="1292.2" cy="1464.8" r="8" fill="#808080"/>
<circle cx="1372.4" cy="1461.4" r="8" fill="#808080"/>
<path d="M1051 1224.2L1091.2 1301.5L1131.4 1350.7L1171.6 1395L1211.8 1419.6L1292.2 1418.6L1372.4 1417.6" fill="none" stroke="#549DFC" stroke-width="5" stroke-linejoin="round"/>
<path d="M1084.2 1269.5H1098.2M1084.2 1333.4H1098.2M1091.2 1269.5V1333.4" stroke="#549DFC" stroke-width="4" fill="none" stroke-linecap="round"/>
<path d="M1124.4 1334.4H1138.4M1124.4 1367.9H1138.4M1131.4 1334.4V1367.9" stroke="#549DFC" stroke-width="4" fill="none" stroke-linecap="round"/>
<path d="M1164.6 1381.2H1178.6M1164.6 1408.7H1178.6M1171.6 1381.2V1408.7" stroke="#549DFC" stroke-width="4" fill="none" stroke-linecap="round"/>
<path d="M1365.4 1400.9H1379.4M1365.4 1432.9H1379.4M1372.4 1400.9V1432.9" stroke="#549DFC" stroke-width="4" fill="none" stroke-linecap="round"/>
<rect x="1043" y="1216.2" width="16" height="16" fill="#549DFC"/>
<rect x="1083.2" y="1293.5" width="16" height="16" fill="#549DFC"/>
<rect x="1123.4" y="1342.7" width="16" height="16" fill="#549DFC"/>
<rect x="1163.6" y="1387" width="16" height="16" fill="#549DFC"/>
<rect x="1203.8" y="1411.6" width="16" height="16" fill="#549DFC"/>
<rect x="1284.2" y="1410.6" width="16" height="16" fill="#549DFC"/>
<rect x="1364.4" y="1409.6" width="16" height="16" fill="#549DFC"/>
</g>
<path d="M1051 1186.05V1526.4" stroke="#000" stroke-width="4.5" fill="none" stroke-linecap="round"/>
<path d="M1036 1188.3H1051" stroke="#000" stroke-width="4.5" fill="none" stroke-linecap="round"/>
<text x="1027.2" y="1204.25" font-size="39" text-anchor="end">15</text>
<path d="M1036 1299.3H1051" stroke="#000" stroke-width="4.5" fill="none" stroke-linecap="round"/>
<text x="1027.2" y="1315.25" font-size="39" text-anchor="end">10</text>
<path d="M1036 1410.4H1051" stroke="#000" stroke-width="4.5" fill="none" stroke-linecap="round"/>
<text x="1023.45" y="1423.36" font-size="39" text-anchor="end">5</text>
<path d="M1036 1521.4H1051" stroke="#000" stroke-width="4.5" fill="none" stroke-linecap="round"/>
<text x="1023.45" y="1532.36" font-size="39" text-anchor="end">0</text>
<path d="M1036 1521.4H1400" stroke="#000" stroke-width="4.5" fill="none" stroke-linecap="round"/>
<path d="M1051 1521.4V1537.4" stroke="#000" stroke-width="4.5" fill="none" stroke-linecap="round"/>
<path d="M1104.6 1521.4V1537.4" stroke="#000" stroke-width="4.5" fill="none" stroke-linecap="round"/>
<path d="M1158.1 1521.4V1537.4" stroke="#000" stroke-width="4.5" fill="none" stroke-linecap="round"/>
<path d="M1211.7 1521.4V1537.4" stroke="#000" stroke-width="4.5" fill="none" stroke-linecap="round"/>
<path d="M1265.3 1521.4V1537.4" stroke="#000" stroke-width="4.5" fill="none" stroke-linecap="round"/>
<path d="M1318.8 1521.4V1537.4" stroke="#000" stroke-width="4.5" fill="none" stroke-linecap="round"/>
<path d="M1372.4 1521.4V1537.4" stroke="#000" stroke-width="4.5" fill="none" stroke-linecap="round"/>
<text x="1042.5" y="1583.5" font-size="39" text-anchor="middle">0</text>
<text x="1099" y="1583.5" font-size="39" text-anchor="middle">20</text>
<text x="1153" y="1583.5" font-size="39" text-anchor="middle">40</text>
<text x="1208.5" y="1583.5" font-size="39" text-anchor="middle">60</text>
<text x="1257.5" y="1583.5" font-size="39" text-anchor="middle">80</text>
<text x="1315.5" y="1583.5" font-size="39" text-anchor="middle">100</text>
<text x="1380" y="1583.5" font-size="39" text-anchor="middle">120</text>
<text x="1238" y="1624" font-size="39" text-anchor="middle">Time (min)</text>
<text transform="translate(970.5 1373.5) rotate(-90)" font-size="39" text-anchor="middle">Blood glucose (mmol/L)</text>
<text transform="translate(1131.5 1288) rotate(-90) scale(1 0.78)" font-size="39" text-anchor="middle" y="20.01">***</text>
<text transform="translate(1173.5 1338.5) rotate(-90) scale(1 0.78)" font-size="39" text-anchor="middle" y="20.01">***</text>
<text transform="translate(1215 1362) rotate(-90) scale(1 0.78)" font-size="39" text-anchor="middle" y="20.01">***</text>
<text transform="translate(1289 1362) rotate(-90) scale(1 0.78)" font-size="39" text-anchor="middle" y="20.01">***</text>
<text transform="translate(1372.5 1360) rotate(-90) scale(1 0.78)" font-size="39" text-anchor="middle" y="20.01">**</text>
<rect x="1566.8" y="1410.7" width="65.5" height="123.5" fill="#808080"/>
<rect x="1665.3" y="1269.5" width="66.4" height="264.7" fill="#549DFC"/>
<path d="M1533.4 1184.55V1539.2" stroke="#000" stroke-width="4.5" fill="none" stroke-linecap="round"/>
<path d="M1518.6 1186.8H1533.4" stroke="#000" stroke-width="4.5" fill="none" stroke-linecap="round"/>
<text x="1509" y="1197.25" font-size="39" text-anchor="end">1.0</text>
<path d="M1518.6 1256.1H1533.4" stroke="#000" stroke-width="4.5" fill="none" stroke-linecap="round"/>
<text x="1509" y="1266.55" font-size="39" text-anchor="end">0.8</text>
<path d="M1518.6 1325.4H1533.4" stroke="#000" stroke-width="4.5" fill="none" stroke-linecap="round"/>
<text x="1509" y="1335.86" font-size="39" text-anchor="end">0.6</text>
<path d="M1518.6 1394.6H1533.4" stroke="#000" stroke-width="4.5" fill="none" stroke-linecap="round"/>
<text x="1509" y="1405.05" font-size="39" text-anchor="end">0.4</text>
<path d="M1518.6 1463.9H1533.4" stroke="#000" stroke-width="4.5" fill="none" stroke-linecap="round"/>
<text x="1509" y="1474.36" font-size="39" text-anchor="end">0.2</text>
<path d="M1518.6 1534.2H1533.4" stroke="#000" stroke-width="4.5" fill="none" stroke-linecap="round"/>
<text x="1509" y="1544.65" font-size="39" text-anchor="end">0.0</text>
<path d="M1518.6 1534.2H1765" stroke="#000" stroke-width="4.5" fill="none" stroke-linecap="round"/>
<path d="M1598.8 1534.2V1549.2" stroke="#000" stroke-width="4.5" fill="none" stroke-linecap="round"/>
<path d="M1698.2 1534.2V1549.2" stroke="#000" stroke-width="4.5" fill="none" stroke-linecap="round"/>
<path d="M1581.8 1396H1615.8M1581.8 1425.5H1615.8M1598.8 1396V1425.5" stroke="#000" stroke-width="4" fill="none" stroke-linecap="round"/>
<circle cx="1592.9" cy="1391.5" r="5.45" fill="none" stroke="#000" stroke-width="4.6"/>
<circle cx="1607.2" cy="1400.9" r="5.45" fill="none" stroke="#000" stroke-width="4.6"/>
<circle cx="1598.8" cy="1438.3" r="5.45" fill="none" stroke="#000" stroke-width="4.6"/>
<path d="M1681.2 1250.8H1715.2M1681.2 1288.2H1715.2M1698.2 1250.8V1288.2" stroke="#000" stroke-width="4" fill="none" stroke-linecap="round"/>
<circle cx="1698.2" cy="1223.7" r="5.45" fill="none" stroke="#000" stroke-width="4.6"/>
<circle cx="1691.3" cy="1300" r="5.45" fill="none" stroke="#000" stroke-width="4.6"/>
<circle cx="1704.6" cy="1301.5" r="5.45" fill="none" stroke="#000" stroke-width="4.6"/>
<circle cx="1698.2" cy="1254.7" r="5.45" fill="#000" stroke="#000" stroke-width="4.6"/>
<path d="M1593.9 1204V1185.8H1695.8V1204" stroke="#000" stroke-width="4.5" fill="none" stroke-linecap="round" stroke-linejoin="miter"/>
<text transform="translate(1641.6 1170) scale(1 0.78)" font-size="39" text-anchor="middle" y="20.01">**</text>
<text x="1599" y="1589.5" font-size="39" text-anchor="middle">ND</text>
<text x="1701" y="1589.5" font-size="39" text-anchor="middle">HFD</text>
<text transform="translate(1438.5 1345) rotate(-90)" font-size="39" text-anchor="middle">AUC (X1000)</text>
</svg>
</body>
</html>
